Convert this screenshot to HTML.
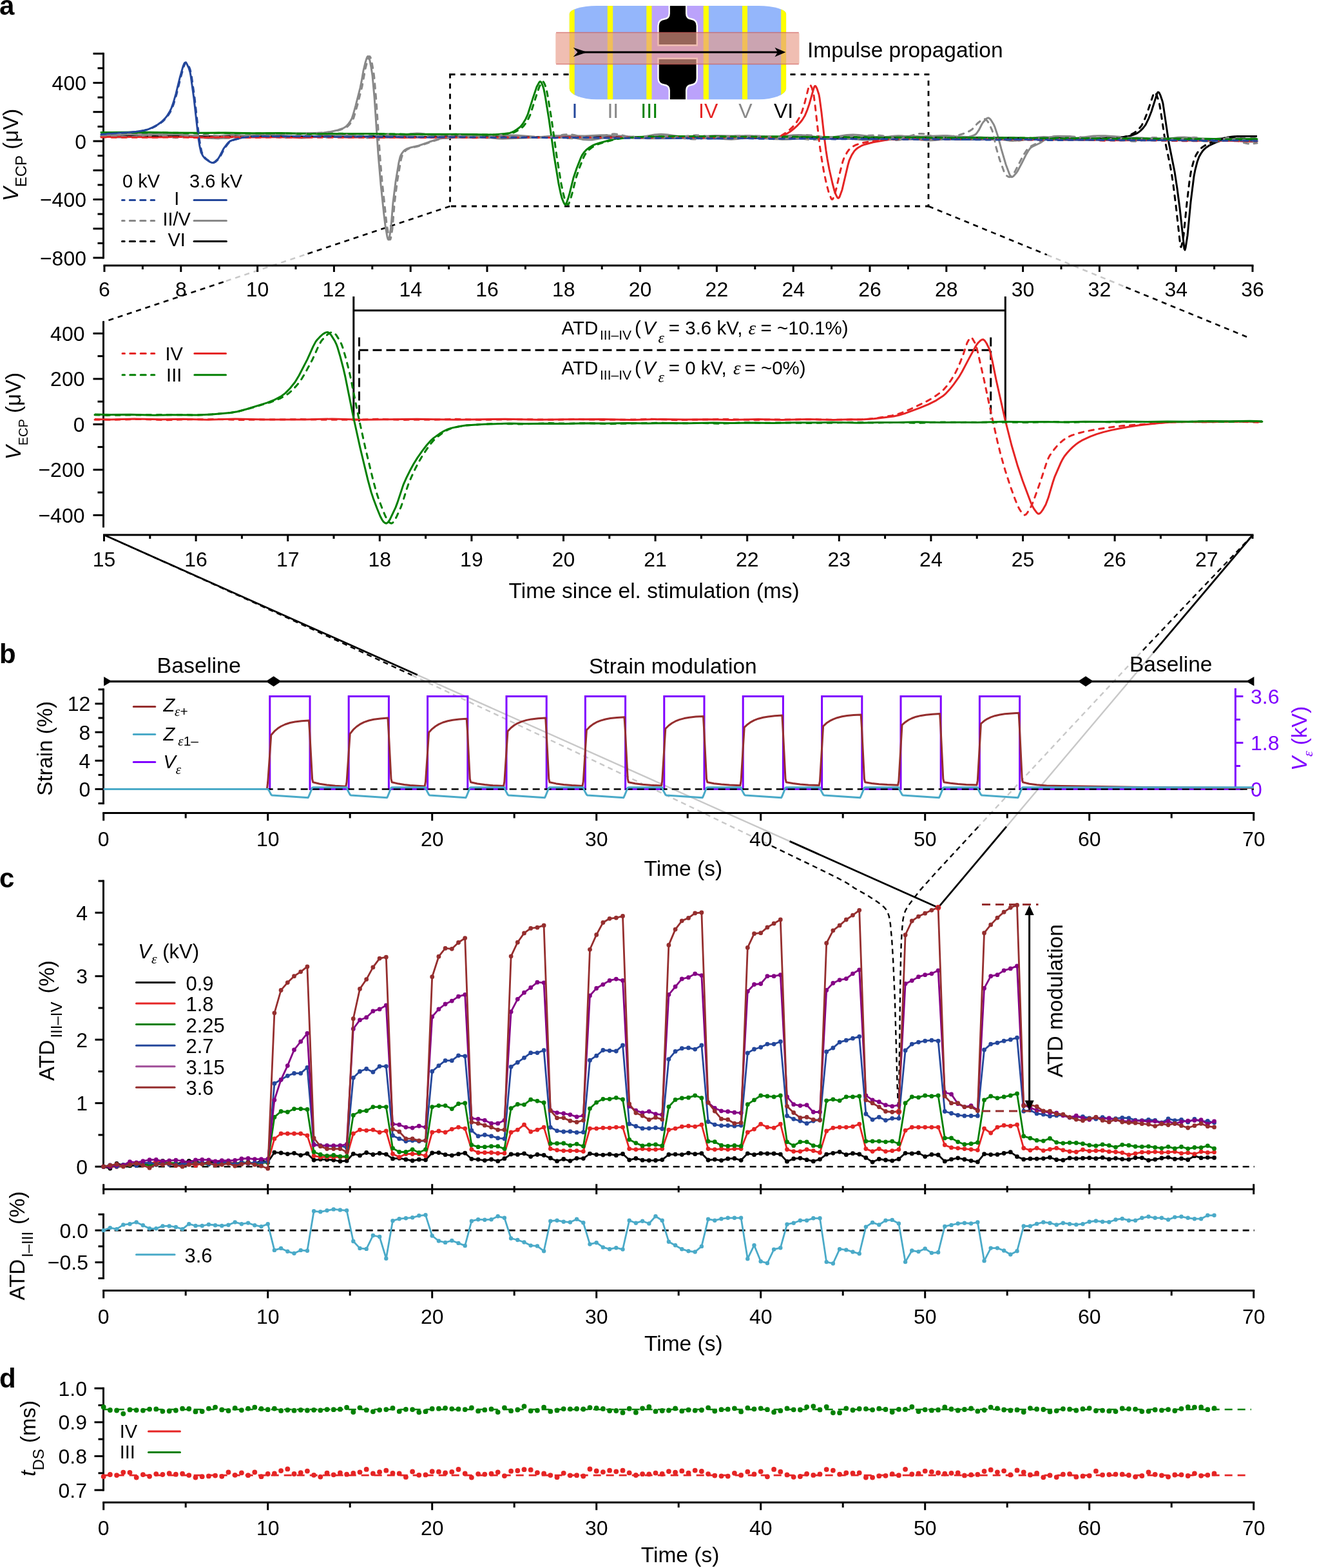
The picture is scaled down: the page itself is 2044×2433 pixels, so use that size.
<!DOCTYPE html>
<html><head><meta charset="utf-8"><title>Figure</title><style>html,body{margin:0;padding:0;background:#fff;overflow:hidden}svg{display:block}</style></head><body>
<svg width="2044" height="2433" viewBox="0 0 2044 2433" font-family="'Liberation Sans', Arial, Helvetica, sans-serif"><polyline points="161.5,830 647.9,1047.3" fill="none" stroke="#000" stroke-width="2.8" stroke-linejoin="round" stroke-linecap="butt"/>
<polyline points="647.9,1047.3 1225.6,1305.4" fill="none" stroke="#c8c8c8" stroke-width="2.4" stroke-linejoin="round" stroke-linecap="butt"/>
<polyline points="1225.6,1305.4 1456,1408.3" fill="none" stroke="#000" stroke-width="2.8" stroke-linejoin="round" stroke-linecap="butt"/>
<polyline points="1943.5,831 1789.6,1013.2" fill="none" stroke="#000" stroke-width="2.8" stroke-linejoin="round" stroke-linecap="butt"/>
<polyline points="1789.6,1013.2 1562,1282.7" fill="none" stroke="#c8c8c8" stroke-width="2.4" stroke-linejoin="round" stroke-linecap="butt"/>
<polyline points="1562,1282.7 1456,1408.3" fill="none" stroke="#000" stroke-width="2.8" stroke-linejoin="round" stroke-linecap="butt"/>
<polyline points="161.5,830 290.8,888.1 402.7,938.9 525,994.9 639.4,1047.7" fill="none" stroke="#000" stroke-width="2.4" stroke-linejoin="round" stroke-linecap="butt" stroke-dasharray="8,6"/>
<polyline points="639.4,1047.7 778.1,1112.5 918.8,1178.9 1059.5,1246 1198,1312.8" fill="none" stroke="#c8c8c8" stroke-width="2.4" stroke-linejoin="round" stroke-linecap="butt" stroke-dasharray="8,6"/>
<polyline points="1198,1312.8 1281.3,1353.1 1300,1362.4 1312,1368.8 1317.2,1371.9 1325.6,1377.7 1347.2,1389.9 1361.9,1399.5 1368.5,1404.5 1372.6,1408.2 1375.7,1411.9 1377.7,1415.4 1379.9,1422.2 1381.9,1433.7 1384.2,1458.9 1386,1487.6 1388.8,1549.2 1392.7,1686.6 1393.5,1704.7 1394.9,1725" fill="none" stroke="#000" stroke-width="2.4" stroke-linejoin="round" stroke-linecap="butt" stroke-dasharray="8,6"/>
<polyline points="1943.5,831 1839.7,939.6 1770.1,1013" fill="none" stroke="#000" stroke-width="2.4" stroke-linejoin="round" stroke-linecap="butt" stroke-dasharray="8,6"/>
<polyline points="1770.1,1013 1667.2,1122.9 1518.3,1282.9" fill="none" stroke="#c8c8c8" stroke-width="2.4" stroke-linejoin="round" stroke-linecap="butt" stroke-dasharray="8,6"/>
<polyline points="1518.3,1282.9 1453,1353.4 1427,1382.4 1409.6,1405.4 1405.3,1412.8 1403,1419 1401.3,1427.9 1399.7,1446.2 1398.8,1462.3 1397.9,1491.2 1397,1543.2 1394.9,1725" fill="none" stroke="#000" stroke-width="2.4" stroke-linejoin="round" stroke-linecap="butt" stroke-dasharray="8,6"/>
<polyline points="698.5,320 472.3,395.6" fill="none" stroke="#000" stroke-width="2.6" stroke-linejoin="round" stroke-linecap="butt" stroke-dasharray="8,7"/>
<polyline points="472.3,395.6 346.8,437.5" fill="none" stroke="#c8c8c8" stroke-width="2.6" stroke-linejoin="round" stroke-linecap="butt" stroke-dasharray="8,7"/>
<polyline points="346.8,437.5 160.5,499.7" fill="none" stroke="#000" stroke-width="2.6" stroke-linejoin="round" stroke-linecap="butt" stroke-dasharray="8,7"/>
<polyline points="1441,320 1624.9,395.4" fill="none" stroke="#000" stroke-width="2.6" stroke-linejoin="round" stroke-linecap="butt" stroke-dasharray="8,7"/>
<polyline points="1624.9,395.4 1747.4,445.7" fill="none" stroke="#c8c8c8" stroke-width="2.6" stroke-linejoin="round" stroke-linecap="butt" stroke-dasharray="8,7"/>
<polyline points="1747.4,445.7 1935,522.7" fill="none" stroke="#000" stroke-width="2.6" stroke-linejoin="round" stroke-linecap="butt" stroke-dasharray="8,7"/>
<rect x="698.5" y="115.5" width="742.5" height="204.5" fill="none" stroke="#000" stroke-width="2.8" stroke-dasharray="8,8"/>
<line x1="160.5" y1="81.7" x2="160.5" y2="401.5" stroke="#000" stroke-width="3" stroke-linecap="butt"/>
<line x1="160.5" y1="83.2" x2="144.5" y2="83.2" stroke="#000" stroke-width="3" stroke-linecap="butt"/>
<line x1="160.5" y1="128.5" x2="144.5" y2="128.5" stroke="#000" stroke-width="3" stroke-linecap="butt"/>
<line x1="160.5" y1="173.7" x2="144.5" y2="173.7" stroke="#000" stroke-width="3" stroke-linecap="butt"/>
<line x1="160.5" y1="219" x2="144.5" y2="219" stroke="#000" stroke-width="3" stroke-linecap="butt"/>
<line x1="160.5" y1="264.3" x2="144.5" y2="264.3" stroke="#000" stroke-width="3" stroke-linecap="butt"/>
<line x1="160.5" y1="309.5" x2="144.5" y2="309.5" stroke="#000" stroke-width="3" stroke-linecap="butt"/>
<line x1="160.5" y1="354.8" x2="144.5" y2="354.8" stroke="#000" stroke-width="3" stroke-linecap="butt"/>
<line x1="160.5" y1="400" x2="144.5" y2="400" stroke="#000" stroke-width="3" stroke-linecap="butt"/>
<line x1="160.5" y1="105.8" x2="151.5" y2="105.8" stroke="#000" stroke-width="3" stroke-linecap="butt"/>
<line x1="160.5" y1="151.1" x2="151.5" y2="151.1" stroke="#000" stroke-width="3" stroke-linecap="butt"/>
<line x1="160.5" y1="196.4" x2="151.5" y2="196.4" stroke="#000" stroke-width="3" stroke-linecap="butt"/>
<line x1="160.5" y1="241.6" x2="151.5" y2="241.6" stroke="#000" stroke-width="3" stroke-linecap="butt"/>
<line x1="160.5" y1="286.9" x2="151.5" y2="286.9" stroke="#000" stroke-width="3" stroke-linecap="butt"/>
<line x1="160.5" y1="332.1" x2="151.5" y2="332.1" stroke="#000" stroke-width="3" stroke-linecap="butt"/>
<line x1="160.5" y1="377.4" x2="151.5" y2="377.4" stroke="#000" stroke-width="3" stroke-linecap="butt"/>
<text x="134" y="140" font-size="32" text-anchor="end">400</text>
<text x="134" y="230.5" font-size="32" text-anchor="end">0</text>
<text x="134" y="321" font-size="32" text-anchor="end">−400</text>
<text x="134" y="411.5" font-size="32" text-anchor="end">−800</text>
<line x1="160.5" y1="412" x2="1945.5" y2="412" stroke="#000" stroke-width="3" stroke-linecap="butt"/>
<line x1="162" y1="412" x2="162" y2="422" stroke="#000" stroke-width="3" stroke-linecap="butt"/>
<line x1="280.8" y1="412" x2="280.8" y2="422" stroke="#000" stroke-width="3" stroke-linecap="butt"/>
<line x1="399.6" y1="412" x2="399.6" y2="422" stroke="#000" stroke-width="3" stroke-linecap="butt"/>
<line x1="518.4" y1="412" x2="518.4" y2="422" stroke="#000" stroke-width="3" stroke-linecap="butt"/>
<line x1="637.2" y1="412" x2="637.2" y2="422" stroke="#000" stroke-width="3" stroke-linecap="butt"/>
<line x1="756" y1="412" x2="756" y2="422" stroke="#000" stroke-width="3" stroke-linecap="butt"/>
<line x1="874.8" y1="412" x2="874.8" y2="422" stroke="#000" stroke-width="3" stroke-linecap="butt"/>
<line x1="993.6" y1="412" x2="993.6" y2="422" stroke="#000" stroke-width="3" stroke-linecap="butt"/>
<line x1="1112.4" y1="412" x2="1112.4" y2="422" stroke="#000" stroke-width="3" stroke-linecap="butt"/>
<line x1="1231.2" y1="412" x2="1231.2" y2="422" stroke="#000" stroke-width="3" stroke-linecap="butt"/>
<line x1="1350" y1="412" x2="1350" y2="422" stroke="#000" stroke-width="3" stroke-linecap="butt"/>
<line x1="1468.8" y1="412" x2="1468.8" y2="422" stroke="#000" stroke-width="3" stroke-linecap="butt"/>
<line x1="1587.6" y1="412" x2="1587.6" y2="422" stroke="#000" stroke-width="3" stroke-linecap="butt"/>
<line x1="1706.4" y1="412" x2="1706.4" y2="422" stroke="#000" stroke-width="3" stroke-linecap="butt"/>
<line x1="1825.2" y1="412" x2="1825.2" y2="422" stroke="#000" stroke-width="3" stroke-linecap="butt"/>
<line x1="1944" y1="412" x2="1944" y2="422" stroke="#000" stroke-width="3" stroke-linecap="butt"/>
<line x1="221.4" y1="412" x2="221.4" y2="418" stroke="#000" stroke-width="3" stroke-linecap="butt"/>
<line x1="340.2" y1="412" x2="340.2" y2="418" stroke="#000" stroke-width="3" stroke-linecap="butt"/>
<line x1="459" y1="412" x2="459" y2="418" stroke="#000" stroke-width="3" stroke-linecap="butt"/>
<line x1="577.8" y1="412" x2="577.8" y2="418" stroke="#000" stroke-width="3" stroke-linecap="butt"/>
<line x1="696.6" y1="412" x2="696.6" y2="418" stroke="#000" stroke-width="3" stroke-linecap="butt"/>
<line x1="815.4" y1="412" x2="815.4" y2="418" stroke="#000" stroke-width="3" stroke-linecap="butt"/>
<line x1="934.2" y1="412" x2="934.2" y2="418" stroke="#000" stroke-width="3" stroke-linecap="butt"/>
<line x1="1053" y1="412" x2="1053" y2="418" stroke="#000" stroke-width="3" stroke-linecap="butt"/>
<line x1="1171.8" y1="412" x2="1171.8" y2="418" stroke="#000" stroke-width="3" stroke-linecap="butt"/>
<line x1="1290.6" y1="412" x2="1290.6" y2="418" stroke="#000" stroke-width="3" stroke-linecap="butt"/>
<line x1="1409.4" y1="412" x2="1409.4" y2="418" stroke="#000" stroke-width="3" stroke-linecap="butt"/>
<line x1="1528.2" y1="412" x2="1528.2" y2="418" stroke="#000" stroke-width="3" stroke-linecap="butt"/>
<line x1="1647" y1="412" x2="1647" y2="418" stroke="#000" stroke-width="3" stroke-linecap="butt"/>
<line x1="1765.8" y1="412" x2="1765.8" y2="418" stroke="#000" stroke-width="3" stroke-linecap="butt"/>
<line x1="1884.6" y1="412" x2="1884.6" y2="418" stroke="#000" stroke-width="3" stroke-linecap="butt"/>
<text x="162" y="460" font-size="32" text-anchor="middle">6</text>
<text x="280.8" y="460" font-size="32" text-anchor="middle">8</text>
<text x="399.6" y="460" font-size="32" text-anchor="middle">10</text>
<text x="518.4" y="460" font-size="32" text-anchor="middle">12</text>
<text x="637.2" y="460" font-size="32" text-anchor="middle">14</text>
<text x="756" y="460" font-size="32" text-anchor="middle">16</text>
<text x="874.8" y="460" font-size="32" text-anchor="middle">18</text>
<text x="993.6" y="460" font-size="32" text-anchor="middle">20</text>
<text x="1112.4" y="460" font-size="32" text-anchor="middle">22</text>
<text x="1231.2" y="460" font-size="32" text-anchor="middle">24</text>
<text x="1350" y="460" font-size="32" text-anchor="middle">26</text>
<text x="1468.8" y="460" font-size="32" text-anchor="middle">28</text>
<text x="1587.6" y="460" font-size="32" text-anchor="middle">30</text>
<text x="1706.4" y="460" font-size="32" text-anchor="middle">32</text>
<text x="1825.2" y="460" font-size="32" text-anchor="middle">34</text>
<text x="1944" y="460" font-size="32" text-anchor="middle">36</text>
<text transform="translate(28.3,312.3) rotate(-90)" font-size="33"><tspan font-style="italic">V</tspan><tspan font-size="24" dy="12.5">ECP</tspan><tspan dy="-12.5"> (μV)</tspan></text>
<polyline points="157,210.7 190,211.2 219,211.1 246,211.6 283,210.7 320,211.8 385,211.3 432,211.9 503,211.4 540,212.5 577,211.5 605,212.1 633,212 660,212.5 698,211.8 750,212.6 799,212.1 838,212.8 864,212.6 892,212.8 923,212.3 958,213.3 994,212.6 1072,213.3 1148,213.2 1181,213.7 1216,213 1249,213.8 1279,213.4 1311,213.9 1341,213.4 1373,214 1404,213.8 1475,214.1 1505,213.9 1537,214.4 1570,213.9 1601,214.6 1632,214.1 1662,214.7 1699,214.4 1734,213.3 1743,212.8 1748,212.2 1754,210.8 1760,208.9 1764,207.2 1767,205.3 1770,202.9 1774,198.9 1778,193.7 1783,183.3 1787,173 1796,144.5 1797,143 1798,143 1799,143.9 1801,147.9 1804,156.8 1805,160.9 1814,221.4 1823,266.2 1827,292.5 1831,323 1838,386 1839,387.9 1840,384.6 1843,365.5 1848,313.4 1853,273.5 1855,263.3 1858,251.6 1861,243.3 1864,238 1866,235.1 1869,231.6 1872,228.9 1876,226.2 1886,221.3 1897,217.3 1903,213.8 1905,213 1913,212 1921,211.5 1951,211.4" fill="none" stroke="#000" stroke-width="3.0" stroke-linejoin="round" stroke-linecap="butt"/>
<polyline points="157,207.3 170,209 180,209.6 189,209.4 209,207.4 218,207 228,207.2 253,208.8 274,208.6 296,210.6 314,213.4 328,214.5 338,214.7 356,213.9 371,211.1 388,209.9 430,208 480,206.8 502,205.9 513,204.5 524,202 533,198.8 536,197 538,195.3 541,191.9 544,187.6 546,184 548,178.1 552,163.8 559,136.3 561,126.9 564,109.5 567,97.2 569,90.6 570,88.4 571,87.4 572,88 573,90.3 574,94.1 576,104.3 578,117.2 581,150 587,239.2 591,286.3 596,333.7 598,350 601,367.4 602,370.9 603,372 604,369.8 605,364.9 607,350.7 610,314.2 614,282.1 619,252.1 621,243.5 622,241.1 624,237.6 627,233.8 629,232.2 632,230.6 637,229 650,226 666,220.3 677,216.8 683,215.1 687,214.4 704,213.3 720,213 730,210.2 741,210.6 766,214.3 773,215 780,215.2 831,213.2 857,211.1 867,210.7 873,211 880,211.9 904,216.4 914,217.1 919,216.9 925,216.1 949,211.5 960,210.7 970,211.3 993,214.1 1005,214.7 1053,214.6 1063,214.1 1083,212.3 1092,212 1103,212.7 1125,215.7 1135,216.2 1145,215.4 1165,212.5 1175,211.9 1184,212.4 1204,215.4 1214,216.2 1226,215.9 1252,213.4 1265,213.1 1309,214 1319,214.8 1338,216.9 1347,217.3 1358,216.6 1383,211.6 1389,210.9 1394,210.7 1400,211 1406,211.9 1430,217.1 1441,218 1451,217.6 1472,215 1482,214.1 1521,213.1 1536,213.7 1564,217.7 1570,218.2 1576,218.2 1587,217.2 1609,213.2 1620,212.5 1629,213 1648,215.4 1657,216.1 1666,216.2 1691,215.4 1722,216.7 1732,216.3 1754,214.1 1764,213.7 1773,214.1 1792,216 1801,216.5 1810,216.6 1836,215.6 1861,216.8 1869,216.9 1879,216.4 1900,214 1910,213.6 1920,214.3 1942,217.6 1951,218.2" fill="none" stroke="#888888" stroke-width="3.0" stroke-linejoin="round" stroke-linecap="butt"/>
<polyline points="157,208.8 175,212.2 182,212.9 189,213.1 199,212.7 234,210.5 261,208.3 273,208.1 285,209.2 307,212.7 318,213.4 328,212.9 347,210.3 357,209.5 366,209.5 392,210.7 400,210.4 417,209.2 425,209 435,209.7 458,213.2 468,213.9 474,213.7 480,213.1 505,208.7 517,207.9 527,208.3 553,210.8 581,212.8 592,213.3 601,213.3 614,212 637,207.7 647,207 653,207.3 659,208.1 683,213.3 689,214 694,214.2 704,213.5 726,210.2 738,209.6 768,210.9 793,210.1 802,210.1 830,212.2 839,212.5 848,212.3 875,210.5 908,211 932,209.8 940,209.7 951,210.5 973,213.4 983,213.8 994,212.9 1016,208.9 1026,208.2 1036,208.9 1059,212.5 1069,213.1 1078,212.8 1100,210.9 1110,210.6 1136,211.1 1165,210.8 1192,212.3 1202,212.4 1212,211.8 1231,209.8 1239,209.5 1250,210.1 1273,213.4 1282,213.8 1292,213 1314,209.6 1324,209 1333,209.5 1353,212.1 1364,212.8 1373,212.6 1398,211.3 1433,211.8 1464,210.4 1470,210.4 1479,211.4 1501,212.5 1504,212.2 1507,211.5 1511,210.1 1514,208.6 1516,206.5 1519,202.2 1524,192.5 1526,189.5 1531,184 1533,183 1534,182.9 1536,184 1538,186.3 1542,192.7 1544,197.1 1549,212.1 1554,231.2 1561,255 1567,271.1 1569,274.3 1570,274.7 1571,274.5 1573,273.2 1577,268.8 1579,266 1585,254.8 1592,240.8 1596,233.9 1599,229.8 1603,227.1 1614,222 1625,214.6 1629,213.2 1637,211.5 1642,211.2 1660,211.5 1666,213.5 1670,214.5 1697,211.1 1706,210.7 1715,210.8 1748,213.1 1759,214.2 1780,217 1792,217.8 1804,217 1828,213.3 1838,212.9 1848,213.8 1868,217.5 1878,218.7 1887,218.9 1906,218.1 1914,218 1941,219.9 1951,220.1" fill="none" stroke="#888888" stroke-width="3.0" stroke-linejoin="round" stroke-linecap="butt"/>
<polyline points="157,212.4 192,212.2 238,212.9 279,212.5 315,212.9 357,212.3 391,212.9 427,212.7 462,213.2 506,212.2 544,213.3 586,212.6 627,213.4 675,212.6 747,213.5 791,212.9 832,213.4 870,212.7 914,213.7 948,213.2 985,213.4 1019,212.9 1059,213.8 1100,213.2 1139,213.8 1176,213 1190,213.5 1207,213 1210,212.5 1214,211 1222,206.9 1227,203.7 1232,199.8 1238,194.3 1242,190 1245,186.2 1249,179.8 1253,170.3 1256,161.5 1263,136.9 1264,134.3 1265,133.3 1266,133.8 1268,137.5 1271,146.8 1272,152.2 1275,174.7 1279,210.4 1282,233.7 1284,246.5 1287,262.5 1292,284.5 1295,296 1297,301.4 1299,305.4 1300,306.9 1301,307.5 1302,307 1303,305.4 1307,294.4 1316,256.1 1318,249 1322,240.4 1326,234.3 1329,231.2 1332,229 1337,226.2 1342,224.2 1355,220.7 1375,217.2 1383,216.3 1405,215.7 1420,215.5 1430,216.3 1470,215.3 1505,216.1 1542,216 1580,216.7 1616,216.5 1654,216.9 1687,216.6 1738,217.7 1815,217.4 1861,218.2 1897,217.9 1934,219.1 1951,218.9" fill="none" stroke="#e52424" stroke-width="3.0" stroke-linejoin="round" stroke-linecap="butt"/>
<polyline points="157,205.5 173,205.6 213,204.9 268,205.9 310,206.2 350,206 393,206.8 436,206.5 483,207.4 577,207.4 623,208.5 666,208.2 733,208.6 757,209 770,208.7 783,207.6 791,206.4 794,205.4 798,203.5 803,200.3 807,197.2 809,195.1 812,191.1 816,184.4 819,177.9 827,152.6 833,134.7 837,127.5 838,126.6 839,126.7 840,127.8 841,129.8 843,135 844,138.4 846,148.5 852,185 860,242.2 867,285 870,299.3 872,307.2 875,314.6 876,316.3 877,317.4 878,317.3 879,315.7 882,307 884,300.2 890,276 895,261.2 902,243.6 904,239.8 907,235.7 910,232.5 914,229.3 919,226.2 924,223.9 930,221.9 951,216.2 956,215.3 964,214.4 989,212.6 1010,212 1043,211.5 1099,211.5 1147,212.4 1196,211.7 1240,212.6 1279,212.9 1334,212.4 1382,213.4 1420,213.2 1524,213.8 1559,213.7 1604,214.5 1647,214.1 1681,214.5 1718,214.6 1759,215.1 1859,215 1907,216.1 1951,215.5" fill="none" stroke="#038003" stroke-width="3.0" stroke-linejoin="round" stroke-linecap="butt"/>
<polyline points="157,207.8 199,205.6 212,204.2 223,202.4 230,200.6 237,197.6 245,193.2 251,188.8 256,183.9 259,180.2 263,173.8 266,167.8 269,159.3 273,145.7 279,121 284,103.4 286,98.4 287,97.2 288,97.1 289,97.8 290,99.1 293,105.6 295,112 296,117.2 301,153 308,215.1 310,227.2 312,236.2 315,242.1 318,245.8 325,250.9 328,252.2 330,252.5 331,252.4 333,251.4 338,247 340,244.1 347,230.7 353,222.7 355,220.6 357,219 363,216.7 377,213.3 386,212.2 398,211.5 474,211.6 518,212.3 555,212 623,212.3 665,212.9 703,212.6 740,213 773,212.9 815,213.6 859,213.2 955,214.1 995,213.8 1034,214.2 1068,214.1 1110,214.9 1155,214.3 1198,215 1361,215.4 1402,216.1 1447,215.4 1490,216.4 1534,216.1 1651,216.7 1691,217.3 1737,216.6 1781,217.8 1824,217.2 1861,217.8 1904,217.6 1951,218.2" fill="none" stroke="#24479b" stroke-width="3.0" stroke-linejoin="round" stroke-linecap="butt"/>
<polyline points="157,211.6 178,211.4 209,212 242,211.5 276,212 355,211.8 388,212.3 422,211.9 453,212.5 488,212.1 565,212.7 600,212.2 635,212.9 668,212.5 747,213 781,212.6 812,213.2 845,212.8 878,213.3 956,213.1 990,213.7 1026,213 1062,213.7 1136,213.4 1173,214 1206,213.5 1239,214 1268,213.8 1352,214.2 1381,213.9 1416,214.6 1451,214 1525,214.6 1563,214.2 1600,215 1631,214.5 1694,214.8 1730,213.6 1743,212.8 1750,211 1755,208.9 1760,206.4 1764,203.5 1768,199.6 1772,194.6 1776,186.4 1780,176.4 1790,146.7 1791,144.6 1792,143.6 1793,143.9 1795,147 1799,158.8 1801,169.8 1809,223 1816,256.2 1818,267 1821,287.3 1825,319 1832,382.1 1833,383.4 1834,380.7 1835,376.2 1837,364.9 1842,315.4 1846,281.8 1848,268.5 1850,259.4 1853,248.4 1856,241 1859,236.1 1862,232.2 1865,229.3 1869,226.4 1873,224.1 1881,220.6 1893,217 1901,213.9 1909,212.9 1920,212.1 1951,212" fill="none" stroke="#000" stroke-width="3.0" stroke-linejoin="round" stroke-linecap="round" stroke-dasharray="7.5,8.5"/>
<polyline points="157,209.2 232,207.9 275,208.5 284,209.1 298,210.6 317,213.5 331,214.5 342,214.7 359,213.9 373,211.2 390,209.9 433,208 483,206.8 504,205.9 515,204.6 526,202.1 535,199 539,196.6 542,193.7 545,189.9 548,185.1 549,182.7 555,162 562,134.2 567,107.1 569,99.2 572,89.4 573,87.8 574,87.5 575,89 577,96.3 580,113.3 581,121.6 584,156.5 590,246 593,281.2 600,346.6 603,365 604,369.4 605,371.8 606,371.3 607,367.6 609,355 612,319 614,301.1 617,278.7 622,249.6 623,245.2 624,242.1 625,240.2 627,236.9 630,233.3 632,231.8 635,230.4 640,228.9 652,226.2 669,220.1 680,216.6 685,215.2 689,214.5 705,213.4 723,213 733,212.4 741,212.7 757,214 766,214.2 788,212.4 796,212.1 803,212.3 819,213.6 826,213.9 834,213.7 851,212.4 859,212.3 866,212.8 882,214.6 890,214.9 898,214.6 914,213.2 922,213 943,214.5 950,214.8 958,214.4 976,212.3 983,212 990,212.3 1006,214.2 1014,214.6 1022,214.4 1038,213.1 1046,213 1053,213.6 1068,215.6 1076,216.1 1084,215.6 1099,213.7 1106,213.1 1114,213.2 1130,214.7 1138,215 1146,214.4 1162,212.4 1169,212.1 1177,212.7 1193,215.1 1200,215.8 1208,215.7 1224,214.2 1232,213.9 1239,214.4 1255,216.5 1262,216.8 1270,216.2 1286,213.6 1293,212.8 1301,212.9 1318,214.9 1325,215.2 1332,214.9 1347,213.1 1354,212.7 1363,213.4 1382,216.8 1390,217.4 1397,216.9 1412,214.9 1419,214.5 1427,214.9 1443,216.8 1451,216.9 1458,216 1474,213 1483,212.4 1490,212.9 1505,215.4 1513,216 1520,215.8 1536,214.1 1544,214 1551,214.9 1567,218 1575,218.7 1583,218.1 1598,215.3 1606,214.5 1614,214.7 1631,216.6 1639,216.5 1645,215.8 1660,213 1668,212.5 1676,213.2 1692,216.6 1699,217.4 1707,217.4 1723,215.6 1730,215.3 1737,215.9 1752,218.6 1759,219.3 1763,219.2 1768,218.7 1785,214.9 1793,213.9 1801,214.1 1817,216.2 1824,216.6 1832,216 1847,213.6 1853,213.3 1857,213.5 1862,214.2 1879,218.3 1887,219.3 1895,219.1 1910,216.8 1918,216.2 1925,216.6 1942,219 1947,219.2 1951,218.9" fill="none" stroke="#888888" stroke-width="3.0" stroke-linejoin="round" stroke-linecap="round" stroke-dasharray="7.5,8.5"/>
<polyline points="157,211.4 178,211.1 198,212.5 206,212.6 214,211.9 231,209.1 239,208.6 247,209.3 264,212.7 273,213.7 282,213.3 303,210.1 315,209.3 327,209.8 358,212.7 369,213.1 378,212.5 398,209.2 407,208.6 416,209.5 434,213.3 441,213.8 449,213.2 464,209.9 471,209 475,208.9 480,209.3 497,212.7 505,213.3 512,212.8 528,209.5 536,208.8 543,209.3 561,213.2 569,213.9 573,213.8 578,213.1 595,209.4 603,208.8 610,209.2 627,211.9 636,212.7 644,212.6 663,211.5 684,211.1 709,209.9 717,210.3 736,212.9 745,213.4 754,212.8 773,209.9 782,209.4 790,209.7 817,212 835,212.7 846,212.7 857,211.7 875,208.9 882,208.5 886,208.7 891,209.4 909,213.9 914,214.7 918,215 922,214.7 926,214.1 944,208.9 949,208 953,207.8 960,208.5 977,213 982,213.9 986,214.1 993,213.7 1010,210.2 1018,209.4 1025,209.8 1040,212.3 1048,212.9 1055,212.6 1072,210.2 1080,209.8 1087,210.1 1103,212.2 1111,212.8 1120,212.6 1141,210.9 1155,210.7 1183,211 1207,212.9 1214,213.1 1222,212.7 1241,209.9 1250,209.3 1259,209.9 1277,212.6 1285,213 1292,212.8 1310,211.4 1334,211.3 1354,209.9 1361,209.8 1370,210.8 1387,214.2 1394,214.8 1402,213.9 1407,212.7 1421,208.5 1426,207.6 1430,207.4 1434,207.7 1438,208.5 1454,213.7 1460,215 1463,214.2 1470,211.5 1480,211 1487,209.9 1495,207.5 1501,205.1 1506,202.6 1509,200.5 1517,191.5 1522,187.4 1525,185.4 1528,184.6 1530,185.3 1533,188.5 1536,193.8 1540,202.6 1542,210.2 1546,228.6 1549,239.5 1552,249.2 1558,265.6 1560,269.8 1562,272.4 1565,274.3 1567,274.7 1568,274.3 1570,272.8 1575,266.6 1588,241.3 1593,233.6 1596,229.9 1601,226.4 1610,222 1622,215.1 1627,213.5 1635,211.9 1640,211.5 1665,211.9 1684,213.4 1692,213.7 1700,213.3 1716,211.6 1723,211.5 1732,212.4 1750,216.1 1758,216.8 1766,216.3 1783,213.8 1791,213.5 1798,214 1818,216.6 1825,216.8 1839,216.3 1846,216.4 1853,217.1 1866,218.8 1873,219.2 1882,218.6 1899,215.5 1906,215.2 1910,215.5 1915,216.5 1930,221.4 1936,222.8 1943,223.3 1951,222.1" fill="none" stroke="#888888" stroke-width="3.0" stroke-linejoin="round" stroke-linecap="round" stroke-dasharray="7.5,8.5"/>
<polyline points="157,213.1 237,213.3 273,212.8 311,213.6 350,212.8 387,213.6 426,212.9 462,213.4 549,213.1 587,213.6 624,213 660,213.6 697,212.9 736,213.8 779,213 859,213.6 900,213.1 938,213.6 973,213.3 1007,213.8 1048,212.8 1092,214 1132,213.3 1191,213.5 1201,213.1 1207,212.5 1210,211.7 1213,210.2 1220,205.7 1225,201.8 1229,198.2 1233,193.9 1237,188.6 1242,180 1245,172.5 1249,159.3 1255,135.4 1256,132.6 1257,131.5 1258,132.1 1260,136.4 1262,143 1263,147.9 1265,163.2 1272,224.6 1275,245 1279,268.3 1283,286.6 1286,297.8 1290,308 1291,309.3 1292,309.3 1293,308 1294,305.6 1298,292.5 1303,270 1308,250.5 1310,245 1315,235.8 1318,231.8 1320,229.8 1324,227.1 1328,225 1336,222.2 1349,219.8 1370,217.4 1381,216.4 1402,215.7 1423,215.4 1446,215.9 1487,216.1 1533,215.9 1569,216.7 1627,217.2 1670,216.5 1714,218.2 1758,217.4 1845,218.8 1889,218.4 1951,219.1" fill="none" stroke="#e52424" stroke-width="3.0" stroke-linejoin="round" stroke-linecap="round" stroke-dasharray="7.5,8.5"/>
<polyline points="157,205.4 206,206 252,205.8 299,206.9 343,206.3 390,207.1 433,206.8 481,207.9 531,207.3 573,208.1 620,208 664,208.8 710,208.3 754,209.1 766,209 776,208.6 787,207.6 795,206.4 798,205.4 802,203.5 807,200.3 811,197.2 813,195.1 816,191.1 820,184.4 823,177.9 831,152.6 837,134.7 841,127.5 842,126.6 843,126.7 844,127.8 845,129.8 847,135 848,138.4 850,148.5 856,185 864,242.2 871,285 874,299.3 876,307.2 879,314.6 880,316.3 881,317.4 882,317.3 883,315.7 886,307 888,300.2 894,276 899,261.2 906,243.6 908,239.8 911,235.7 914,232.5 918,229.3 923,226.2 928,223.9 934,221.9 955,216.2 960,215.3 968,214.4 986,213 1001,212.3 1064,211.4 1178,212.4 1233,212.2 1274,212.8 1317,212.9 1358,213.5 1410,213.1 1452,213.9 1498,213.8 1541,214.5 1590,213.9 1635,215 1681,214.7 1724,215.5 1772,214.9 1822,216.1 1865,215.7 1912,216.4 1951,216" fill="none" stroke="#038003" stroke-width="3.0" stroke-linejoin="round" stroke-linecap="round" stroke-dasharray="7.5,8.5"/>
<polyline points="157,208.6 176,207 204,205.3 215,204 225,202.3 232,200.3 239,197.2 246,193.4 252,188.9 257,184.1 260,180.5 264,174.2 267,168.3 270,159.9 274,146.4 280,121.8 285,104 287,98.7 288,97.3 289,97 290,97.6 291,98.8 293,102.6 295,107.6 297,116.1 302,151.3 309,213.6 311,226.1 313,235.5 314,238.1 316,241.8 319,245.6 322,248.1 326,250.8 329,252.2 331,252.5 332,252.4 334,251.5 339,247.2 342,242.6 348,231 354,222.9 356,220.8 358,219.2 364,216.7 378,213.3 386,212.3 399,211.5 436,211.8 478,211.7 522,212.2 563,212.1 608,212.6 724,212.8 768,213.4 814,213.1 861,213.9 909,213.5 954,214.2 1006,214.2 1101,214.9 1149,214.6 1198,215.5 1247,215 1295,215.9 1344,215.6 1427,216.4 1484,216.2 1534,217.1 1584,216.4 1634,217.6 1684,217 1734,217.8 1816,217.7 1872,218.6 1920,218 1951,218.8" fill="none" stroke="#24479b" stroke-width="3.0" stroke-linejoin="round" stroke-linecap="round" stroke-dasharray="7.5,8.5"/>
<g>
<path d="M925.8,9.1 H1177.5 A42.6,12.4 0 0 1 1220.1,21.5 V137.2 A42.6,17 0 0 1 1177.5,154.2 H925.8 A42,17 0 0 1 883.8,137.2 V21.5 A42,12.4 0 0 1 925.8,9.1 Z" fill="#94b6fb"/>
<rect x="1011.5" y="9.1" width="80.2" height="145.1" fill="#bba2fb"/>
<rect x="942.8" y="9.1" width="8.4" height="145.1" fill="#ffff00"/>
<rect x="1003.3" y="9.1" width="8.2" height="145.1" fill="#ffff00"/>
<rect x="1091.7" y="9.1" width="8.2" height="145.1" fill="#ffff00"/>
<rect x="1152" y="9.1" width="8.0" height="145.1" fill="#ffff00"/>
<clipPath id="bodyclip"><path d="M925.8,9.1 H1177.5 A42.6,12.4 0 0 1 1220.1,21.5 V137.2 A42.6,17 0 0 1 1177.5,154.2 H925.8 A42,17 0 0 1 883.8,137.2 V21.5 A42,12.4 0 0 1 925.8,9.1 Z"/></clipPath>
<g clip-path="url(#bodyclip)"><rect x="883" y="9" width="8.7" height="146" fill="#ffff00"/><rect x="1212.2" y="9" width="8.7" height="146" fill="#ffff00"/></g>
<path d="M1038.7,9.1 V21 Q1038.7,28.5 1031,29.5 Q1021.5,31 1021.5,40 V70.3 H1081.8 V40 Q1081.8,31 1072.9,29.5 Q1065.2,28.5 1065.2,21 V9.1 Z" fill="#000" stroke="#fff" stroke-width="2.4"/>
<path d="M1021.5,90.7 V121.5 Q1021.5,130.5 1031,131.8 Q1038.7,133 1038.7,140 V154.2 H1065.2 V140 Q1065.2,133 1072.9,131.8 Q1081.8,130.5 1081.8,121.5 V90.7 Z" fill="#000" stroke="#fff" stroke-width="2.4"/>
<rect x="1039.9" y="9.1" width="24.1" height="3" fill="#000"/><rect x="1039.9" y="151.2" width="24.1" height="3" fill="#000"/>
<rect x="862.3" y="50.3" width="378.2" height="49.5" rx="2.5" fill="rgb(232,155,136)" fill-opacity="0.65"/>
<path d="M863,50.6 H1239.8 M863,99.5 H1239.8" stroke="rgb(200,80,80)" stroke-opacity="0.6" stroke-width="1.5" fill="none"/>
<line x1="900" y1="81" x2="1208" y2="81" stroke="#000" stroke-width="3" stroke-linecap="butt"/>
<path d="M1219.4,81 L1202.5,73.8 L1207,81 L1202.5,88.2 Z" fill="#000"/>
<path d="M889.5,73.8 L911.5,81 L889.5,88.2 L896.5,81 Z" fill="#000"/>
</g>
<text x="892" y="183.2" font-size="32" text-anchor="middle" fill="#24479b">I</text>
<text x="951.3" y="183.2" font-size="32" text-anchor="middle" fill="#888888">II</text>
<text x="1007.7" y="183.2" font-size="32" text-anchor="middle" fill="#038003">III</text>
<text x="1099.2" y="183.2" font-size="32" text-anchor="middle" fill="#e52424">IV</text>
<text x="1156.8" y="183.2" font-size="32" text-anchor="middle" fill="#888888">V</text>
<text x="1216" y="183.2" font-size="32" text-anchor="middle">VI</text>
<text x="1253" y="89" font-size="33.5">Impulse propagation</text>
<text x="190" y="290.6" font-size="29">0 kV</text>
<text x="294" y="290.6" font-size="29">3.6 kV</text>
<line x1="189.6" y1="310.5" x2="239.6" y2="310.5" stroke="#24479b" stroke-width="3.2" stroke-dasharray="8.1,8.3" stroke-dashoffset="4.6" stroke-linecap="round"/>
<line x1="301.2" y1="310.5" x2="351.3" y2="310.5" stroke="#24479b" stroke-width="3.2" stroke-linecap="round"/>
<text x="274.2" y="318.1" font-size="29" text-anchor="middle">I</text>
<line x1="189.6" y1="342.5" x2="239.6" y2="342.5" stroke="#888888" stroke-width="3.2" stroke-dasharray="8.1,8.3" stroke-dashoffset="4.6" stroke-linecap="round"/>
<line x1="301.2" y1="342.5" x2="351.3" y2="342.5" stroke="#888888" stroke-width="3.2" stroke-linecap="round"/>
<text x="274.2" y="350.1" font-size="29" text-anchor="middle">II/V</text>
<line x1="189.6" y1="374.5" x2="239.6" y2="374.5" stroke="#000" stroke-width="3.2" stroke-dasharray="8.1,8.3" stroke-dashoffset="4.6" stroke-linecap="round"/>
<line x1="301.2" y1="374.5" x2="351.3" y2="374.5" stroke="#000" stroke-width="3.2" stroke-linecap="round"/>
<text x="274.2" y="382.1" font-size="29" text-anchor="middle">VI</text>
<line x1="160.5" y1="498.3" x2="160.5" y2="818.5" stroke="#000" stroke-width="3" stroke-linecap="butt"/>
<line x1="160.5" y1="517.4" x2="144.5" y2="517.4" stroke="#000" stroke-width="3" stroke-linecap="butt"/>
<line x1="160.5" y1="587.9" x2="144.5" y2="587.9" stroke="#000" stroke-width="3" stroke-linecap="butt"/>
<line x1="160.5" y1="658.4" x2="144.5" y2="658.4" stroke="#000" stroke-width="3" stroke-linecap="butt"/>
<line x1="160.5" y1="728.9" x2="144.5" y2="728.9" stroke="#000" stroke-width="3" stroke-linecap="butt"/>
<line x1="160.5" y1="799.4" x2="144.5" y2="799.4" stroke="#000" stroke-width="3" stroke-linecap="butt"/>
<line x1="160.5" y1="552.6" x2="151.5" y2="552.6" stroke="#000" stroke-width="3" stroke-linecap="butt"/>
<line x1="160.5" y1="623.1" x2="151.5" y2="623.1" stroke="#000" stroke-width="3" stroke-linecap="butt"/>
<line x1="160.5" y1="693.6" x2="151.5" y2="693.6" stroke="#000" stroke-width="3" stroke-linecap="butt"/>
<line x1="160.5" y1="764.1" x2="151.5" y2="764.1" stroke="#000" stroke-width="3" stroke-linecap="butt"/>
<text x="131.5" y="528.9" font-size="32" text-anchor="end">400</text>
<text x="131.5" y="599.4" font-size="32" text-anchor="end">200</text>
<text x="131.5" y="669.9" font-size="32" text-anchor="end">0</text>
<text x="131.5" y="740.4" font-size="32" text-anchor="end">−200</text>
<text x="131.5" y="810.9" font-size="32" text-anchor="end">−400</text>
<line x1="160" y1="830" x2="1945.5" y2="830" stroke="#000" stroke-width="3" stroke-linecap="butt"/>
<line x1="161.5" y1="830" x2="161.5" y2="840" stroke="#000" stroke-width="3" stroke-linecap="butt"/>
<line x1="304.1" y1="830" x2="304.1" y2="840" stroke="#000" stroke-width="3" stroke-linecap="butt"/>
<line x1="446.7" y1="830" x2="446.7" y2="840" stroke="#000" stroke-width="3" stroke-linecap="butt"/>
<line x1="589.3" y1="830" x2="589.3" y2="840" stroke="#000" stroke-width="3" stroke-linecap="butt"/>
<line x1="731.9" y1="830" x2="731.9" y2="840" stroke="#000" stroke-width="3" stroke-linecap="butt"/>
<line x1="874.5" y1="830" x2="874.5" y2="840" stroke="#000" stroke-width="3" stroke-linecap="butt"/>
<line x1="1017.1" y1="830" x2="1017.1" y2="840" stroke="#000" stroke-width="3" stroke-linecap="butt"/>
<line x1="1159.7" y1="830" x2="1159.7" y2="840" stroke="#000" stroke-width="3" stroke-linecap="butt"/>
<line x1="1302.3" y1="830" x2="1302.3" y2="840" stroke="#000" stroke-width="3" stroke-linecap="butt"/>
<line x1="1444.9" y1="830" x2="1444.9" y2="840" stroke="#000" stroke-width="3" stroke-linecap="butt"/>
<line x1="1587.5" y1="830" x2="1587.5" y2="840" stroke="#000" stroke-width="3" stroke-linecap="butt"/>
<line x1="1730.1" y1="830" x2="1730.1" y2="840" stroke="#000" stroke-width="3" stroke-linecap="butt"/>
<line x1="1872.7" y1="830" x2="1872.7" y2="840" stroke="#000" stroke-width="3" stroke-linecap="butt"/>
<line x1="232.8" y1="830" x2="232.8" y2="836" stroke="#000" stroke-width="3" stroke-linecap="butt"/>
<line x1="375.4" y1="830" x2="375.4" y2="836" stroke="#000" stroke-width="3" stroke-linecap="butt"/>
<line x1="518" y1="830" x2="518" y2="836" stroke="#000" stroke-width="3" stroke-linecap="butt"/>
<line x1="660.6" y1="830" x2="660.6" y2="836" stroke="#000" stroke-width="3" stroke-linecap="butt"/>
<line x1="803.2" y1="830" x2="803.2" y2="836" stroke="#000" stroke-width="3" stroke-linecap="butt"/>
<line x1="945.8" y1="830" x2="945.8" y2="836" stroke="#000" stroke-width="3" stroke-linecap="butt"/>
<line x1="1088.4" y1="830" x2="1088.4" y2="836" stroke="#000" stroke-width="3" stroke-linecap="butt"/>
<line x1="1231" y1="830" x2="1231" y2="836" stroke="#000" stroke-width="3" stroke-linecap="butt"/>
<line x1="1373.6" y1="830" x2="1373.6" y2="836" stroke="#000" stroke-width="3" stroke-linecap="butt"/>
<line x1="1516.2" y1="830" x2="1516.2" y2="836" stroke="#000" stroke-width="3" stroke-linecap="butt"/>
<line x1="1658.8" y1="830" x2="1658.8" y2="836" stroke="#000" stroke-width="3" stroke-linecap="butt"/>
<line x1="1801.4" y1="830" x2="1801.4" y2="836" stroke="#000" stroke-width="3" stroke-linecap="butt"/>
<line x1="1944" y1="830" x2="1944" y2="836" stroke="#000" stroke-width="3" stroke-linecap="butt"/>
<text x="161.5" y="878.6" font-size="32" text-anchor="middle">15</text>
<text x="304.1" y="878.6" font-size="32" text-anchor="middle">16</text>
<text x="446.7" y="878.6" font-size="32" text-anchor="middle">17</text>
<text x="589.3" y="878.6" font-size="32" text-anchor="middle">18</text>
<text x="731.9" y="878.6" font-size="32" text-anchor="middle">19</text>
<text x="874.5" y="878.6" font-size="32" text-anchor="middle">20</text>
<text x="1017.1" y="878.6" font-size="32" text-anchor="middle">21</text>
<text x="1159.7" y="878.6" font-size="32" text-anchor="middle">22</text>
<text x="1302.3" y="878.6" font-size="32" text-anchor="middle">23</text>
<text x="1444.9" y="878.6" font-size="32" text-anchor="middle">24</text>
<text x="1587.5" y="878.6" font-size="32" text-anchor="middle">25</text>
<text x="1730.1" y="878.6" font-size="32" text-anchor="middle">26</text>
<text x="1872.7" y="878.6" font-size="32" text-anchor="middle">27</text>
<text x="789.5" y="928.3" font-size="33.5">Time since el. stimulation (ms)</text>
<text transform="translate(31.7,713.3) rotate(-90)" font-size="33"><tspan font-style="italic">V</tspan><tspan font-size="20" dy="11.4">ECP</tspan><tspan dy="-11.4"> (μV)</tspan></text>
<line x1="548.8" y1="481.8" x2="1560.3" y2="481.8" stroke="#000" stroke-width="3" stroke-linecap="butt"/>
<line x1="548.8" y1="460" x2="548.8" y2="652.5" stroke="#000" stroke-width="3" stroke-linecap="butt"/>
<line x1="1560.3" y1="460" x2="1560.3" y2="652.5" stroke="#000" stroke-width="3" stroke-linecap="butt"/>
<line x1="557.5" y1="543.3" x2="1537.7" y2="543.3" stroke="#000" stroke-width="3" stroke-dasharray="14,7" stroke-linecap="butt"/>
<line x1="557.5" y1="523.5" x2="557.5" y2="654" stroke="#000" stroke-width="3" stroke-dasharray="14,7" stroke-linecap="butt"/>
<line x1="1537.7" y1="523.5" x2="1537.7" y2="650.5" stroke="#000" stroke-width="3" stroke-dasharray="14,7" stroke-linecap="butt"/>
<text y="519.3" font-size="29.5"><tspan x="871.5">ATD</tspan><tspan x="931" font-size="21" dy="8.1">III–IV</tspan><tspan x="985" dy="-8.1">(</tspan><tspan x="998" font-style="italic">V</tspan><tspan x="1021.5" font-family="'Liberation Serif', 'Times New Roman', serif" font-style="italic" font-size="24" dy="12.7">ε</tspan><tspan x="1037.8" dy="-12.7">= 3.6 kV,</tspan><tspan x="1161.5" font-family="'Liberation Serif', 'Times New Roman', serif" font-style="italic">ε</tspan><tspan x="1180.5">= ~10.1%)</tspan></text>
<text y="580.6" font-size="29.5"><tspan x="871.5">ATD</tspan><tspan x="931" font-size="21" dy="8.1">III–IV</tspan><tspan x="985" dy="-8.1">(</tspan><tspan x="998" font-style="italic">V</tspan><tspan x="1021.5" font-family="'Liberation Serif', 'Times New Roman', serif" font-style="italic" font-size="24" dy="12.7">ε</tspan><tspan x="1037.8" dy="-12.7">= 0 kV,</tspan><tspan x="1138" font-family="'Liberation Serif', 'Times New Roman', serif" font-style="italic">ε</tspan><tspan x="1155.5">= ~0%)</tspan></text>
<polyline points="147,651.3 190,651.1 220,650.4 258,651.7 290,650.9 338,650.5 377,651.6 407,650.9 437,651.1 466,650.5 499,651.3 527,651.1 551,651.3 589,650.3 628,651.4 674,651.2 707,650.3 744,651.5 775,650.9 824,650.8 860,651.4 894,650.4 934,651.4 976,651.2 1009,650.2 1051,651.7 1126,650.4 1168,651.6 1196,651 1226,651.1 1254,650.6 1287,651.2 1326,651.1 1338,650.8 1349,650 1365,648.1 1384,644.9 1391,643.3 1399,640.7 1413,634.8 1438,622.9 1449,616.5 1459,609.4 1465,604.1 1470,598.4 1476,589.9 1482,580 1486,572.1 1491,560.3 1495,550 1501,532 1505,524.7 1506,523.7 1507,523.5 1508,524 1509,525 1513,532 1515,537.1 1517,544.1 1527,588.2 1537,635.5 1548,684.9 1553,705 1560,729.7 1568,754.4 1575,773.6 1579,783.6 1582,789.8 1586,795.9 1588,798.3 1589,799 1590,799.3 1592,798.4 1594,796.2 1599,788.3 1602,782.1 1605,774.5 1615,746.4 1624,718.8 1627,711.1 1629,707.1 1637,696.2 1641,691.5 1646,686.5 1650,683.1 1654,680.3 1658,677.9 1663,675.7 1673,672.3 1684,669.5 1702,666.1 1719,663.5 1744,660.6 1781,657.9 1809,655.5 1819,655 1841,654.6 1884,654.7 1916,654.1 1959,655.5" fill="none" stroke="#e52424" stroke-width="3.0" stroke-linejoin="round" stroke-linecap="round" stroke-dasharray="7.5,8.5"/>
<polyline points="147,650.4 171,651.1 209,650.1 248,650.8 284,650.3 322,651.2 365,650 412,650.9 472,650.9 515,650 564,651.2 647,650.2 710,651.2 784,650.2 834,651.3 876,650.7 936,650.4 982,651.5 1025,650.4 1063,651.1 1101,650.7 1136,651.4 1177,650.4 1214,651.4 1255,650.5 1294,651.5 1320,650.8 1337,650.9 1356,649.7 1371,648.1 1387,646 1395,644.2 1404,641.6 1427,633.2 1441,627.4 1453,621.3 1463,614.8 1468,610.6 1474,604.1 1480,596.6 1488,585.4 1493,577 1504,556.1 1513,539.6 1516,534.6 1518,532 1522,528.2 1524,527 1526,526.8 1528,528.2 1531,532.5 1535,540.5 1537,546.7 1540,559.6 1546,589.2 1560,651.3 1570,691 1579,721.7 1587,745.5 1600,780.2 1603,786.6 1605,790 1609,795.4 1611,797.1 1612,797.3 1614,796.5 1616,794.5 1619,790.1 1623,783.1 1627,772.3 1634,748.5 1637,739.6 1646,718.8 1649,712.9 1652,708 1656,703 1661,697.5 1665,693.6 1670,689.4 1674,686.5 1679,683.4 1692,677.3 1702,673.6 1712,670.6 1724,667.6 1738,664.7 1752,662.3 1767,660 1804,655.9 1818,655.1 1847,654.6 1870,654.7 1931,654.1 1959,654.5" fill="none" stroke="#e52424" stroke-width="3.0" stroke-linejoin="round" stroke-linecap="butt"/>
<polyline points="147,643.7 167,644.4 248,643.6 290,643.7 302,644 316,643.7 332,642.7 358,640.4 369,638.6 384,634.8 421,623.7 434,618.6 444,613.3 448,610.4 452,606.9 460,598.6 464,593.9 467,589.8 474,578.2 485,557.7 494,537.7 498,530.2 500,527.5 504,523.2 509,518.5 513,516.1 515,515.6 517,515.6 519,516.8 522,520.1 528,529.8 530,534.1 532,539.6 536,553.2 541,572.2 544,585.2 556,645 567,695 579,744.9 584,763.4 587,772.4 593,788.5 598,800.7 601,806.5 603,809.4 605,811.2 607,812 608,811.9 610,810.6 613,806.5 616,800.6 622,787.4 625,779 631,759.5 634,750.8 639,739 645,726.2 650,716.7 655,708.1 662,697.5 668,689.2 673,683.3 678,678.5 687,671.7 694,667.4 699,665.2 705,663.5 715,661.4 724,660 743,658.7 765,657.7 780,657.5 814,658.1 851,656.6 881,657.2 913,656.6 948,657.8 980,656.9 1025,656.2 1058,656.8 1087,656.5 1119,657.3 1156,655.7 1184,656.3 1216,655.9 1251,656.5 1294,656.1 1328,655.3 1360,656.1 1394,655.4 1424,656.3 1461,655 1490,655.4 1569,655.1 1596,655.5 1632,654.4 1665,655.3 1696,654.4 1728,655 1761,654.5 1809,654.4 1836,654.6 1870,653.7 1902,654.6 1935,653.7 1959,654.3" fill="none" stroke="#038003" stroke-width="3.0" stroke-linejoin="round" stroke-linecap="round" stroke-dasharray="7.5,8.5"/>
<polyline points="147,643 171,643.5 203,643.2 239,644.2 266,643.8 305,644 329,642.9 357,640.5 368,638.7 383,634.8 414,625.1 426,620.3 437,614.5 443,609.9 450,602.7 458,592.7 464,582.8 477,557.6 486,537.6 490,530.1 492,527.5 496,523.2 501,518.5 505,516.1 507,515.6 509,515.6 511,516.8 514,520.1 520,529.8 522,534.1 524,539.6 528,553.2 533,572.2 536,585.2 548,645 559,695 571,744.9 576,763.4 579,772.4 585,788.5 590,800.7 593,806.5 595,809.4 597,811.2 599,812 600,811.9 602,810.6 605,806.4 614,787.4 617,779.4 626,752.1 631,740.9 636,730.8 642,719.8 648,710.1 655,700.1 662,691 668,684.2 673,679.6 682,673.1 690,668.3 696,665.7 701,664.1 712,661.8 723,660.1 752,658.2 790,657.1 814,657.6 846,657.2 877,657.5 912,656.7 941,657.1 974,656.5 1006,657 1039,656.5 1070,656.8 1107,656 1136,656.4 1168,656 1200,656.6 1234,655.7 1264,655.8 1292,655.3 1334,656.2 1362,655.6 1393,655.5 1424,654.7 1459,655.5 1490,655.2 1516,655.4 1557,654.3 1588,654.8 1619,654.5 1649,655.1 1683,654.2 1715,654.4 1744,653.9 1780,654.4 1812,653.9 1845,654.2 1877,653.4 1908,653.8 1940,653.3 1959,653.7" fill="none" stroke="#038003" stroke-width="3.0" stroke-linejoin="round" stroke-linecap="butt"/>
<line x1="190" y1="548.5" x2="239.8" y2="548.5" stroke="#e52424" stroke-width="3" stroke-dasharray="8.1,8.3" stroke-dashoffset="4.6" stroke-linecap="round"/>
<line x1="301.9" y1="548.5" x2="350.5" y2="548.5" stroke="#e52424" stroke-width="3" stroke-linecap="round"/>
<text x="270.2" y="559.2" font-size="29" text-anchor="middle">IV</text>
<line x1="190" y1="581.8" x2="239.8" y2="581.8" stroke="#038003" stroke-width="3" stroke-dasharray="8.1,8.3" stroke-dashoffset="4.6" stroke-linecap="round"/>
<line x1="301.9" y1="581.8" x2="350.5" y2="581.8" stroke="#038003" stroke-width="3" stroke-linecap="round"/>
<text x="270.2" y="591.7" font-size="29" text-anchor="middle">III</text>
<line x1="161" y1="1057.3" x2="1946" y2="1057.3" stroke="#000" stroke-width="3.2" stroke-linecap="butt"/>
<path d="M161.2,1050 L173.5,1057.3 L161.2,1064.6 Z" fill="#000"/>
<path d="M1946.4,1050 L1934,1057.3 L1946.4,1064.6 Z" fill="#000"/>
<path d="M412.6,1057.3 L424.6,1049.3 L436.6,1057.3 L424.6,1065.3 Z" fill="#000"/>
<path d="M1673,1057.3 L1685,1049.3 L1697,1057.3 L1685,1065.3 Z" fill="#000"/>
<text x="243.5" y="1043.6" font-size="34">Baseline</text>
<text x="914" y="1044.5" font-size="33.5">Strain modulation</text>
<text x="1753" y="1042.4" font-size="33.5">Baseline</text>
<line x1="160.5" y1="1068.3" x2="160.5" y2="1248.1" stroke="#000" stroke-width="3" stroke-linecap="butt"/>
<line x1="160.5" y1="1091.9" x2="147.5" y2="1091.9" stroke="#000" stroke-width="3" stroke-linecap="butt"/>
<line x1="160.5" y1="1136.1" x2="147.5" y2="1136.1" stroke="#000" stroke-width="3" stroke-linecap="butt"/>
<line x1="160.5" y1="1180.3" x2="147.5" y2="1180.3" stroke="#000" stroke-width="3" stroke-linecap="butt"/>
<line x1="160.5" y1="1224.5" x2="147.5" y2="1224.5" stroke="#000" stroke-width="3" stroke-linecap="butt"/>
<line x1="160.5" y1="1069.8" x2="152.5" y2="1069.8" stroke="#000" stroke-width="3" stroke-linecap="butt"/>
<line x1="160.5" y1="1114" x2="152.5" y2="1114" stroke="#000" stroke-width="3" stroke-linecap="butt"/>
<line x1="160.5" y1="1158.2" x2="152.5" y2="1158.2" stroke="#000" stroke-width="3" stroke-linecap="butt"/>
<line x1="160.5" y1="1202.4" x2="152.5" y2="1202.4" stroke="#000" stroke-width="3" stroke-linecap="butt"/>
<line x1="160.5" y1="1246.6" x2="152.5" y2="1246.6" stroke="#000" stroke-width="3" stroke-linecap="butt"/>
<text x="140.3" y="1103.4" font-size="32" text-anchor="end">12</text>
<text x="140.3" y="1147.6" font-size="32" text-anchor="end">8</text>
<text x="140.3" y="1191.8" font-size="32" text-anchor="end">4</text>
<text x="140.3" y="1236" font-size="32" text-anchor="end">0</text>
<line x1="159.2" y1="1261.5" x2="1947.2" y2="1261.5" stroke="#000" stroke-width="3" stroke-linecap="butt"/>
<line x1="160.7" y1="1261.5" x2="160.7" y2="1273.5" stroke="#000" stroke-width="3" stroke-linecap="butt"/>
<line x1="415.7" y1="1261.5" x2="415.7" y2="1273.5" stroke="#000" stroke-width="3" stroke-linecap="butt"/>
<line x1="670.7" y1="1261.5" x2="670.7" y2="1273.5" stroke="#000" stroke-width="3" stroke-linecap="butt"/>
<line x1="925.7" y1="1261.5" x2="925.7" y2="1273.5" stroke="#000" stroke-width="3" stroke-linecap="butt"/>
<line x1="1180.7" y1="1261.5" x2="1180.7" y2="1273.5" stroke="#000" stroke-width="3" stroke-linecap="butt"/>
<line x1="1435.7" y1="1261.5" x2="1435.7" y2="1273.5" stroke="#000" stroke-width="3" stroke-linecap="butt"/>
<line x1="1690.7" y1="1261.5" x2="1690.7" y2="1273.5" stroke="#000" stroke-width="3" stroke-linecap="butt"/>
<line x1="1945.7" y1="1261.5" x2="1945.7" y2="1273.5" stroke="#000" stroke-width="3" stroke-linecap="butt"/>
<line x1="288.2" y1="1261.5" x2="288.2" y2="1269.5" stroke="#000" stroke-width="3" stroke-linecap="butt"/>
<line x1="543.2" y1="1261.5" x2="543.2" y2="1269.5" stroke="#000" stroke-width="3" stroke-linecap="butt"/>
<line x1="798.2" y1="1261.5" x2="798.2" y2="1269.5" stroke="#000" stroke-width="3" stroke-linecap="butt"/>
<line x1="1067.2" y1="1261.5" x2="1067.2" y2="1269.5" stroke="#000" stroke-width="3" stroke-linecap="butt"/>
<line x1="1308.2" y1="1261.5" x2="1308.2" y2="1269.5" stroke="#000" stroke-width="3" stroke-linecap="butt"/>
<line x1="1563.2" y1="1261.5" x2="1563.2" y2="1269.5" stroke="#000" stroke-width="3" stroke-linecap="butt"/>
<line x1="1818.2" y1="1261.5" x2="1818.2" y2="1269.5" stroke="#000" stroke-width="3" stroke-linecap="butt"/>
<text x="160.7" y="1313.4" font-size="32" text-anchor="middle">0</text>
<text x="415.7" y="1313.4" font-size="32" text-anchor="middle">10</text>
<text x="670.7" y="1313.4" font-size="32" text-anchor="middle">20</text>
<text x="925.7" y="1313.4" font-size="32" text-anchor="middle">30</text>
<text x="1180.7" y="1313.4" font-size="32" text-anchor="middle">40</text>
<text x="1435.7" y="1313.4" font-size="32" text-anchor="middle">50</text>
<text x="1690.7" y="1313.4" font-size="32" text-anchor="middle">60</text>
<text x="1945.7" y="1313.4" font-size="32" text-anchor="middle">70</text>
<text x="999.5" y="1358.6" font-size="33.5">Time (s)</text>
<text transform="translate(80.8,1234.7) rotate(-90)" font-size="33">Strain (%)</text>
<line x1="1917.4" y1="1067.9" x2="1917.4" y2="1226" stroke="#7f00ff" stroke-width="3" stroke-linecap="butt"/>
<line x1="1917.4" y1="1080.5" x2="1929.4" y2="1080.5" stroke="#7f00ff" stroke-width="3" stroke-linecap="butt"/>
<line x1="1917.4" y1="1152.5" x2="1929.4" y2="1152.5" stroke="#7f00ff" stroke-width="3" stroke-linecap="butt"/>
<line x1="1917.4" y1="1224.5" x2="1929.4" y2="1224.5" stroke="#7f00ff" stroke-width="3" stroke-linecap="butt"/>
<line x1="1917.4" y1="1116.5" x2="1925" y2="1116.5" stroke="#7f00ff" stroke-width="3" stroke-linecap="butt"/>
<line x1="1917.4" y1="1188.5" x2="1925" y2="1188.5" stroke="#7f00ff" stroke-width="3" stroke-linecap="butt"/>
<text x="1941" y="1092" font-size="32" fill="#7f00ff">3.6</text>
<text x="1941" y="1164" font-size="32" fill="#7f00ff">1.8</text>
<text x="1941" y="1236" font-size="32" fill="#7f00ff">0</text>
<text transform="translate(2028,1196) rotate(-90)" font-size="33" fill="#7f00ff"><tspan font-style="italic">V</tspan><tspan font-family="'Liberation Serif', 'Times New Roman', serif" font-style="italic" font-size="22" dy="9">ε</tspan><tspan dy="-9"> (kV)</tspan></text>
<path d="M160.7,1224.5 H418.8 V1080.5 H481 V1224.5 H541.2 V1080.5 H603.4 V1224.5 H663.6 V1080.5 H725.8 V1224.5 H786 V1080.5 H848.2 V1224.5 H908.4 V1080.5 H970.6 V1224.5 H1030.8 V1080.5 H1093 V1224.5 H1153.2 V1080.5 H1215.4 V1224.5 H1275.6 V1080.5 H1337.8 V1224.5 H1398 V1080.5 H1460.2 V1224.5 H1520.4 V1080.5 H1582.6 V1224.5 H1917.4" fill="none" stroke="#7f00ff" stroke-width="3" stroke-linejoin="miter"/>
<line x1="160.7" y1="1224.5" x2="1946" y2="1224.5" stroke="#000" stroke-width="2.6" stroke-dasharray="11,7" stroke-linecap="butt"/>
<polyline points="160.7,1224.5 414.4,1224.5 415.7,1213.5 420.8,1140.5 425.9,1134.7 431,1130.3 436.1,1127 442.5,1124 450.1,1121.5 457.8,1120 468,1118.7 479.4,1117.9 480.7,1137 484.6,1208.7 485.8,1213.8 496,1216.2 507.5,1218 520.2,1219.3 536.8,1220.2 538.1,1213.3 543.2,1138.6 548.3,1132.2 553.4,1127.5 558.5,1123.9 564.9,1120.6 572.5,1118 580.2,1116.3 590.4,1114.9 601.9,1114 603.1,1133.9 607,1208.5 608.2,1213.7 618.4,1216.1 627.4,1217.5 636.3,1218.5 659.2,1219.9 660.5,1213 665.6,1136.6 670.7,1131.1 675.8,1127 680.9,1123.9 687.3,1121 694.9,1118.8 702.6,1117.3 712.8,1116 724.2,1115.3 725.5,1134.9 729.3,1208.5 730.6,1213.7 740.8,1216 752.3,1217.6 765,1218.8 781.6,1219.6 782.9,1212.8 788,1134.6 793.1,1129.3 798.2,1125.3 803.3,1122.3 809.7,1119.6 817.3,1117.4 825,1115.9 835.2,1114.7 846.7,1114 847.9,1133.9 851.8,1208.5 853,1213.7 863.2,1215.9 874.7,1217.5 887.5,1218.6 904,1219.4 905.3,1212.5 910.4,1132.7 915.5,1127.5 920.6,1123.6 925.7,1120.7 932.1,1118.1 939.7,1116 947.4,1114.6 957.6,1113.4 969,1112.7 970.3,1132.9 974.2,1208.4 975.4,1213.7 985.6,1215.8 997.1,1217.3 1009.9,1218.3 1026.4,1219.1 1027.7,1212.3 1032.8,1130.7 1037.9,1125.7 1043,1122 1048.1,1119.2 1054.5,1116.6 1062.1,1114.6 1069.8,1113.2 1080,1112.1 1091.5,1111.4 1092.7,1131.8 1096.5,1208.3 1097.8,1213.7 1108,1215.7 1119.5,1217.1 1132.2,1218.1 1148.8,1218.8 1150.1,1212 1155.2,1128.7 1160.3,1123.9 1165.4,1120.3 1170.5,1117.6 1176.9,1115.2 1184.5,1113.2 1192.2,1111.9 1202.4,1110.8 1213.9,1110.1 1215.1,1130.8 1219,1208.3 1220.2,1213.7 1230.4,1215.5 1241.9,1216.9 1254.7,1217.9 1271.2,1218.6 1272.5,1211.8 1277.6,1126.8 1282.7,1122.1 1287.8,1118.7 1292.9,1116.1 1299.3,1113.7 1306.9,1111.8 1314.6,1110.5 1324.8,1109.5 1336.2,1108.9 1337.5,1129.8 1341.4,1208.2 1342.6,1213.7 1352.8,1215.4 1364.3,1216.7 1377.1,1217.6 1393.6,1218.3 1394.9,1211.5 1400,1124.8 1405.1,1120.4 1410.2,1117 1415.3,1114.5 1421.7,1112.2 1429.3,1110.4 1437,1109.2 1447.2,1108.2 1458.7,1107.6 1459.9,1128.7 1463.8,1208.2 1465,1213.7 1475.2,1215.3 1486.7,1216.5 1499.5,1217.4 1516,1218 1517.3,1211.2 1522.4,1122.8 1527.5,1118.6 1532.6,1115.3 1537.7,1112.9 1544.1,1110.7 1551.7,1109 1559.4,1107.8 1569.6,1106.9 1581.1,1106.3 1582.3,1127.7 1586.2,1208.1 1587.4,1213.8 1597.6,1216.3 1609.1,1217.8 1624.4,1218.9 1647.4,1219.6 1772.3,1221.4 1945.7,1222.5" fill="none" stroke="#952e2e" stroke-width="3" stroke-linejoin="round" stroke-linecap="butt"/>
<polyline points="160.7,1224.5 415.7,1224.5 417,1225.9 420.8,1233 422.1,1233.9 478.2,1237.7 479.4,1235.2 484.6,1222.4 485.8,1221.7 538.1,1221.7 539.4,1225.9 543.2,1233 544.5,1233.9 600.6,1237.7 601.9,1235.2 607,1222.4 608.2,1221.7 660.5,1221.7 661.8,1225.9 665.6,1233 666.9,1233.9 723,1237.7 724.2,1235.2 729.3,1222.4 730.6,1221.7 782.9,1221.7 784.2,1225.9 788,1233 789.3,1233.9 845.4,1237.7 846.7,1235.2 851.8,1222.4 853,1221.7 905.3,1221.7 906.6,1225.9 910.4,1233 911.7,1233.9 967.8,1237.7 969,1235.2 974.2,1222.4 975.4,1221.7 1027.7,1221.7 1029,1225.9 1032.8,1233 1034.1,1233.9 1090.2,1237.7 1091.5,1235.2 1096.5,1222.4 1097.8,1221.7 1150.1,1221.7 1151.4,1225.9 1155.2,1233 1156.5,1233.9 1212.6,1237.7 1213.9,1235.2 1219,1222.4 1220.2,1221.7 1272.5,1221.7 1273.8,1225.9 1277.6,1233 1278.9,1233.9 1335,1237.7 1336.2,1235.2 1341.4,1222.4 1342.6,1221.7 1394.9,1221.7 1396.2,1225.9 1400,1233 1401.3,1233.9 1457.4,1237.7 1458.7,1235.2 1463.8,1222.4 1465,1221.7 1517.3,1221.7 1518.6,1225.9 1522.4,1233 1523.7,1233.9 1579.8,1237.7 1581.1,1235.2 1586.2,1222.4 1587.4,1221.7 1945.7,1221.7" fill="none" stroke="#4aaac8" stroke-width="3" stroke-linejoin="round" stroke-linecap="butt"/>
<line x1="207.3" y1="1096.6" x2="240.8" y2="1096.6" stroke="#952e2e" stroke-width="3" stroke-linecap="round"/>
<line x1="207.3" y1="1139.5" x2="240.8" y2="1139.5" stroke="#4aaac8" stroke-width="3" stroke-linecap="round"/>
<line x1="207.3" y1="1182.5" x2="240.8" y2="1182.5" stroke="#7f00ff" stroke-width="3" stroke-linecap="round"/>
<text x="253.4" y="1104.3" font-size="29"><tspan font-style="italic">Z</tspan><tspan font-family="'Liberation Serif', 'Times New Roman', serif" font-style="italic" font-size="21" dy="7">ε</tspan><tspan font-size="21">+</tspan></text>
<text x="253.4" y="1148.8" font-size="29"><tspan font-style="italic">Z</tspan><tspan font-family="'Liberation Serif', 'Times New Roman', serif" font-style="italic" font-size="21" dy="8.5"> ε</tspan><tspan font-size="21">1–</tspan></text>
<text x="253.4" y="1192.2" font-size="29"><tspan font-style="italic">V</tspan><tspan font-family="'Liberation Serif', 'Times New Roman', serif" font-style="italic" font-size="21" dy="8.5">ε</tspan></text>
<line x1="160.5" y1="1365.5" x2="160.5" y2="1811.7" stroke="#000" stroke-width="3" stroke-linecap="butt"/>
<line x1="160.5" y1="1810.2" x2="147.5" y2="1810.2" stroke="#000" stroke-width="3" stroke-linecap="butt"/>
<line x1="160.5" y1="1711.7" x2="147.5" y2="1711.7" stroke="#000" stroke-width="3" stroke-linecap="butt"/>
<line x1="160.5" y1="1613.2" x2="147.5" y2="1613.2" stroke="#000" stroke-width="3" stroke-linecap="butt"/>
<line x1="160.5" y1="1514.7" x2="147.5" y2="1514.7" stroke="#000" stroke-width="3" stroke-linecap="butt"/>
<line x1="160.5" y1="1416.2" x2="147.5" y2="1416.2" stroke="#000" stroke-width="3" stroke-linecap="butt"/>
<line x1="160.5" y1="1761" x2="152.5" y2="1761" stroke="#000" stroke-width="3" stroke-linecap="butt"/>
<line x1="160.5" y1="1662.5" x2="152.5" y2="1662.5" stroke="#000" stroke-width="3" stroke-linecap="butt"/>
<line x1="160.5" y1="1564" x2="152.5" y2="1564" stroke="#000" stroke-width="3" stroke-linecap="butt"/>
<line x1="160.5" y1="1465.5" x2="152.5" y2="1465.5" stroke="#000" stroke-width="3" stroke-linecap="butt"/>
<line x1="160.5" y1="1367" x2="152.5" y2="1367" stroke="#000" stroke-width="3" stroke-linecap="butt"/>
<text x="136" y="1821.7" font-size="32" text-anchor="end">0</text>
<text x="136" y="1723.2" font-size="32" text-anchor="end">1</text>
<text x="136" y="1624.7" font-size="32" text-anchor="end">2</text>
<text x="136" y="1526.2" font-size="32" text-anchor="end">3</text>
<text x="136" y="1427.7" font-size="32" text-anchor="end">4</text>
<line x1="159.2" y1="1845.2" x2="1947.2" y2="1845.2" stroke="#000" stroke-width="3" stroke-linecap="butt"/>
<line x1="160.7" y1="1837.2" x2="160.7" y2="1853.2" stroke="#000" stroke-width="3" stroke-linecap="butt"/>
<line x1="415.7" y1="1837.2" x2="415.7" y2="1853.2" stroke="#000" stroke-width="3" stroke-linecap="butt"/>
<line x1="670.7" y1="1837.2" x2="670.7" y2="1853.2" stroke="#000" stroke-width="3" stroke-linecap="butt"/>
<line x1="925.7" y1="1837.2" x2="925.7" y2="1853.2" stroke="#000" stroke-width="3" stroke-linecap="butt"/>
<line x1="1180.7" y1="1837.2" x2="1180.7" y2="1853.2" stroke="#000" stroke-width="3" stroke-linecap="butt"/>
<line x1="1435.7" y1="1837.2" x2="1435.7" y2="1853.2" stroke="#000" stroke-width="3" stroke-linecap="butt"/>
<line x1="1690.7" y1="1837.2" x2="1690.7" y2="1853.2" stroke="#000" stroke-width="3" stroke-linecap="butt"/>
<line x1="1945.7" y1="1837.2" x2="1945.7" y2="1853.2" stroke="#000" stroke-width="3" stroke-linecap="butt"/>
<line x1="288.2" y1="1840.2" x2="288.2" y2="1850.2" stroke="#000" stroke-width="3" stroke-linecap="butt"/>
<line x1="543.2" y1="1840.2" x2="543.2" y2="1850.2" stroke="#000" stroke-width="3" stroke-linecap="butt"/>
<line x1="798.2" y1="1840.2" x2="798.2" y2="1850.2" stroke="#000" stroke-width="3" stroke-linecap="butt"/>
<line x1="1053.2" y1="1840.2" x2="1053.2" y2="1850.2" stroke="#000" stroke-width="3" stroke-linecap="butt"/>
<line x1="1308.2" y1="1840.2" x2="1308.2" y2="1850.2" stroke="#000" stroke-width="3" stroke-linecap="butt"/>
<line x1="1563.2" y1="1840.2" x2="1563.2" y2="1850.2" stroke="#000" stroke-width="3" stroke-linecap="butt"/>
<line x1="1818.2" y1="1840.2" x2="1818.2" y2="1850.2" stroke="#000" stroke-width="3" stroke-linecap="butt"/>
<line x1="160.7" y1="1810.2" x2="1946.8" y2="1810.2" stroke="#000" stroke-width="2.6" stroke-dasharray="10,7" stroke-linecap="butt"/>
<text transform="translate(83.8,1677.1) rotate(-90)" font-size="33">ATD<tspan x="66.5" font-size="24" dy="12.6">III–IV</tspan><tspan x="135.5" dy="-12.6">(%)</tspan></text>
<polyline points="160.7,1810.2 170.9,1813 181.1,1805.4 191.3,1808.2 201.5,1808.8 211.7,1808.4 232.1,1805.5 242.3,1807.2 252.5,1801.3 262.7,1806 272.9,1806 293.3,1801.4 303.5,1801.6 313.7,1805.1 323.9,1803.5 334.1,1803.7 344.3,1802.8 354.5,1803.3 364.7,1805.6 374.9,1806.1 385.1,1803.2 395.3,1805.8 405.5,1800.7 415.7,1803.2 425.9,1788.2 436.1,1788.9 446.3,1790.6 456.5,1789.3 466.7,1792.6 476.9,1789.9 487.1,1800 497.3,1798.8 517.7,1800 527.9,1802 538.1,1801.2 548.3,1790.3 558.5,1792.9 568.7,1788.5 578.9,1791.5 589.1,1789.5 599.3,1791.1 609.5,1797.9 619.7,1797.2 640.1,1801 650.3,1799.2 660.5,1799.8 670.7,1789 680.9,1788.6 691.1,1791.7 701.3,1792.8 711.5,1790.7 721.7,1789.2 731.9,1798.3 742.1,1799.1 752.3,1800.6 762.5,1799 772.7,1801.7 782.9,1797.7 793.1,1791 803.3,1791.4 813.5,1789.8 823.7,1794.6 833.9,1791.5 844.1,1792.5 864.5,1801.7 874.7,1798.5 884.9,1801.3 895.1,1797.3 905.3,1797.6 915.5,1790.1 925.7,1791.6 935.9,1792.1 946.1,1791 956.3,1792.7 966.5,1790.5 976.7,1799.8 986.9,1797.4 997.1,1800.2 1007.3,1800.6 1017.5,1800.5 1027.7,1799.6 1037.9,1791.5 1048.1,1791.1 1058.3,1791.6 1068.5,1789.2 1078.7,1790.7 1088.9,1789.7 1099.1,1800 1109.3,1799.1 1119.5,1800.6 1129.7,1797.9 1139.9,1797.4 1150.1,1800.3 1160.3,1789.8 1170.5,1791.7 1180.7,1789.7 1201.1,1790 1211.3,1791.1 1221.5,1802.2 1231.7,1797.9 1241.9,1797.1 1262.3,1801.9 1272.5,1798.8 1282.7,1791.1 1303.1,1787.3 1313.3,1791.7 1323.5,1789.7 1333.7,1791 1343.9,1796.4 1354.1,1803.1 1364.3,1798.4 1374.5,1800 1384.7,1801.1 1394.9,1798.4 1405.1,1789.3 1415.3,1789.9 1425.5,1788.9 1435.7,1794.6 1445.9,1791.4 1456.1,1792 1466.3,1801.9 1476.5,1798.8 1486.7,1796.8 1507.1,1801.1 1517.3,1802.9 1527.5,1790.7 1537.7,1791.6 1547.9,1791.4 1568.3,1787.7 1578.5,1794.7 1588.7,1798.9 1598.9,1797.9 1609.1,1798.1 1619.3,1797.6 1629.5,1796 1639.7,1799.5 1649.9,1800.2 1660.1,1796.9 1670.3,1797.7 1690.7,1796.7 1700.9,1797.7 1711.1,1796.2 1721.3,1798.7 1731.5,1797.3 1741.7,1798.6 1751.9,1799.1 1762.1,1796.5 1772.3,1796.6 1782.5,1800.3 1792.7,1799.1 1802.9,1797 1813.1,1795.8 1823.3,1798.4 1833.5,1797.7 1843.7,1799.5 1853.9,1793.7 1864.1,1796.7 1874.3,1796.1 1884.5,1796.4" fill="none" stroke="#000" stroke-width="2.8" stroke-linejoin="round" stroke-linecap="butt"/>
<g fill="#000"><circle cx="160.7" cy="1810.2" r="3.4"/><circle cx="170.9" cy="1813" r="3.4"/><circle cx="181.1" cy="1805.4" r="3.4"/><circle cx="191.3" cy="1808.2" r="3.4"/><circle cx="201.5" cy="1808.8" r="3.4"/><circle cx="211.7" cy="1808.4" r="3.4"/><circle cx="221.9" cy="1807" r="3.4"/><circle cx="232.1" cy="1805.5" r="3.4"/><circle cx="242.3" cy="1807.2" r="3.4"/><circle cx="252.5" cy="1801.3" r="3.4"/><circle cx="262.7" cy="1806" r="3.4"/><circle cx="272.9" cy="1806" r="3.4"/><circle cx="283.1" cy="1803.8" r="3.4"/><circle cx="293.3" cy="1801.4" r="3.4"/><circle cx="303.5" cy="1801.6" r="3.4"/><circle cx="313.7" cy="1805.1" r="3.4"/><circle cx="323.9" cy="1803.5" r="3.4"/><circle cx="334.1" cy="1803.7" r="3.4"/><circle cx="344.3" cy="1802.8" r="3.4"/><circle cx="354.5" cy="1803.3" r="3.4"/><circle cx="364.7" cy="1805.6" r="3.4"/><circle cx="374.9" cy="1806.1" r="3.4"/><circle cx="385.1" cy="1803.2" r="3.4"/><circle cx="395.3" cy="1805.8" r="3.4"/><circle cx="405.5" cy="1800.7" r="3.4"/><circle cx="415.7" cy="1803.2" r="3.4"/><circle cx="425.9" cy="1788.2" r="3.4"/><circle cx="436.1" cy="1788.9" r="3.4"/><circle cx="446.3" cy="1790.6" r="3.4"/><circle cx="456.5" cy="1789.3" r="3.4"/><circle cx="466.7" cy="1792.6" r="3.4"/><circle cx="476.9" cy="1789.9" r="3.4"/><circle cx="487.1" cy="1800" r="3.4"/><circle cx="497.3" cy="1798.8" r="3.4"/><circle cx="507.5" cy="1799.4" r="3.4"/><circle cx="517.7" cy="1800" r="3.4"/><circle cx="527.9" cy="1802" r="3.4"/><circle cx="538.1" cy="1801.2" r="3.4"/><circle cx="548.3" cy="1790.3" r="3.4"/><circle cx="558.5" cy="1792.9" r="3.4"/><circle cx="568.7" cy="1788.5" r="3.4"/><circle cx="578.9" cy="1791.5" r="3.4"/><circle cx="589.1" cy="1789.5" r="3.4"/><circle cx="599.3" cy="1791.1" r="3.4"/><circle cx="609.5" cy="1797.9" r="3.4"/><circle cx="619.7" cy="1797.2" r="3.4"/><circle cx="629.9" cy="1799.2" r="3.4"/><circle cx="640.1" cy="1801" r="3.4"/><circle cx="650.3" cy="1799.2" r="3.4"/><circle cx="660.5" cy="1799.8" r="3.4"/><circle cx="670.7" cy="1789" r="3.4"/><circle cx="680.9" cy="1788.6" r="3.4"/><circle cx="691.1" cy="1791.7" r="3.4"/><circle cx="701.3" cy="1792.8" r="3.4"/><circle cx="711.5" cy="1790.7" r="3.4"/><circle cx="721.7" cy="1789.2" r="3.4"/><circle cx="731.9" cy="1798.3" r="3.4"/><circle cx="742.1" cy="1799.1" r="3.4"/><circle cx="752.3" cy="1800.6" r="3.4"/><circle cx="762.5" cy="1799" r="3.4"/><circle cx="772.7" cy="1801.7" r="3.4"/><circle cx="782.9" cy="1797.7" r="3.4"/><circle cx="793.1" cy="1791" r="3.4"/><circle cx="803.3" cy="1791.4" r="3.4"/><circle cx="813.5" cy="1789.8" r="3.4"/><circle cx="823.7" cy="1794.6" r="3.4"/><circle cx="833.9" cy="1791.5" r="3.4"/><circle cx="844.1" cy="1792.5" r="3.4"/><circle cx="854.3" cy="1797" r="3.4"/><circle cx="864.5" cy="1801.7" r="3.4"/><circle cx="874.7" cy="1798.5" r="3.4"/><circle cx="884.9" cy="1801.3" r="3.4"/><circle cx="895.1" cy="1797.3" r="3.4"/><circle cx="905.3" cy="1797.6" r="3.4"/><circle cx="915.5" cy="1790.1" r="3.4"/><circle cx="925.7" cy="1791.6" r="3.4"/><circle cx="935.9" cy="1792.1" r="3.4"/><circle cx="946.1" cy="1791" r="3.4"/><circle cx="956.3" cy="1792.7" r="3.4"/><circle cx="966.5" cy="1790.5" r="3.4"/><circle cx="976.7" cy="1799.8" r="3.4"/><circle cx="986.9" cy="1797.4" r="3.4"/><circle cx="997.1" cy="1800.2" r="3.4"/><circle cx="1007.3" cy="1800.6" r="3.4"/><circle cx="1017.5" cy="1800.5" r="3.4"/><circle cx="1027.7" cy="1799.6" r="3.4"/><circle cx="1037.9" cy="1791.5" r="3.4"/><circle cx="1048.1" cy="1791.1" r="3.4"/><circle cx="1058.3" cy="1791.6" r="3.4"/><circle cx="1068.5" cy="1789.2" r="3.4"/><circle cx="1078.7" cy="1790.7" r="3.4"/><circle cx="1088.9" cy="1789.7" r="3.4"/><circle cx="1099.1" cy="1800" r="3.4"/><circle cx="1109.3" cy="1799.1" r="3.4"/><circle cx="1119.5" cy="1800.6" r="3.4"/><circle cx="1129.7" cy="1797.9" r="3.4"/><circle cx="1139.9" cy="1797.4" r="3.4"/><circle cx="1150.1" cy="1800.3" r="3.4"/><circle cx="1160.3" cy="1789.8" r="3.4"/><circle cx="1170.5" cy="1791.7" r="3.4"/><circle cx="1180.7" cy="1789.7" r="3.4"/><circle cx="1190.9" cy="1790" r="3.4"/><circle cx="1201.1" cy="1790" r="3.4"/><circle cx="1211.3" cy="1791.1" r="3.4"/><circle cx="1221.5" cy="1802.2" r="3.4"/><circle cx="1231.7" cy="1797.9" r="3.4"/><circle cx="1241.9" cy="1797.1" r="3.4"/><circle cx="1252.1" cy="1799.7" r="3.4"/><circle cx="1262.3" cy="1801.9" r="3.4"/><circle cx="1272.5" cy="1798.8" r="3.4"/><circle cx="1282.7" cy="1791.1" r="3.4"/><circle cx="1292.9" cy="1789.3" r="3.4"/><circle cx="1303.1" cy="1787.3" r="3.4"/><circle cx="1313.3" cy="1791.7" r="3.4"/><circle cx="1323.5" cy="1789.7" r="3.4"/><circle cx="1333.7" cy="1791" r="3.4"/><circle cx="1343.9" cy="1796.4" r="3.4"/><circle cx="1354.1" cy="1803.1" r="3.4"/><circle cx="1364.3" cy="1798.4" r="3.4"/><circle cx="1374.5" cy="1800" r="3.4"/><circle cx="1384.7" cy="1801.1" r="3.4"/><circle cx="1394.9" cy="1798.4" r="3.4"/><circle cx="1405.1" cy="1789.3" r="3.4"/><circle cx="1415.3" cy="1789.9" r="3.4"/><circle cx="1425.5" cy="1788.9" r="3.4"/><circle cx="1435.7" cy="1794.6" r="3.4"/><circle cx="1445.9" cy="1791.4" r="3.4"/><circle cx="1456.1" cy="1792" r="3.4"/><circle cx="1466.3" cy="1801.9" r="3.4"/><circle cx="1476.5" cy="1798.8" r="3.4"/><circle cx="1486.7" cy="1796.8" r="3.4"/><circle cx="1496.9" cy="1799" r="3.4"/><circle cx="1507.1" cy="1801.1" r="3.4"/><circle cx="1517.3" cy="1802.9" r="3.4"/><circle cx="1527.5" cy="1790.7" r="3.4"/><circle cx="1537.7" cy="1791.6" r="3.4"/><circle cx="1547.9" cy="1791.4" r="3.4"/><circle cx="1558.1" cy="1789.5" r="3.4"/><circle cx="1568.3" cy="1787.7" r="3.4"/><circle cx="1578.5" cy="1794.7" r="3.4"/><circle cx="1588.7" cy="1798.9" r="3.4"/><circle cx="1598.9" cy="1797.9" r="3.4"/><circle cx="1609.1" cy="1798.1" r="3.4"/><circle cx="1619.3" cy="1797.6" r="3.4"/><circle cx="1629.5" cy="1796" r="3.4"/><circle cx="1639.7" cy="1799.5" r="3.4"/><circle cx="1649.9" cy="1800.2" r="3.4"/><circle cx="1660.1" cy="1796.9" r="3.4"/><circle cx="1670.3" cy="1797.7" r="3.4"/><circle cx="1680.5" cy="1797.2" r="3.4"/><circle cx="1690.7" cy="1796.7" r="3.4"/><circle cx="1700.9" cy="1797.7" r="3.4"/><circle cx="1711.1" cy="1796.2" r="3.4"/><circle cx="1721.3" cy="1798.7" r="3.4"/><circle cx="1731.5" cy="1797.3" r="3.4"/><circle cx="1741.7" cy="1798.6" r="3.4"/><circle cx="1751.9" cy="1799.1" r="3.4"/><circle cx="1762.1" cy="1796.5" r="3.4"/><circle cx="1772.3" cy="1796.6" r="3.4"/><circle cx="1782.5" cy="1800.3" r="3.4"/><circle cx="1792.7" cy="1799.1" r="3.4"/><circle cx="1802.9" cy="1797" r="3.4"/><circle cx="1813.1" cy="1795.8" r="3.4"/><circle cx="1823.3" cy="1798.4" r="3.4"/><circle cx="1833.5" cy="1797.7" r="3.4"/><circle cx="1843.7" cy="1799.5" r="3.4"/><circle cx="1853.9" cy="1793.7" r="3.4"/><circle cx="1864.1" cy="1796.7" r="3.4"/><circle cx="1874.3" cy="1796.1" r="3.4"/><circle cx="1884.5" cy="1796.4" r="3.4"/></g>
<polyline points="160.7,1810.2 181.1,1810.4 191.3,1808.9 201.5,1806.6 211.7,1805.3 221.9,1803.2 232.1,1806.7 242.3,1801.6 252.5,1802.5 272.9,1808.7 283.1,1805.3 293.3,1805 303.5,1808.5 313.7,1804.9 323.9,1805.2 334.1,1806 344.3,1803.9 354.5,1803.2 364.7,1805.4 374.9,1804.2 385.1,1805.5 395.3,1805.6 405.5,1804.2 415.7,1803.5 425.9,1766.9 436.1,1759 466.7,1759 476.9,1761.9 487.1,1793.5 497.3,1795.4 538.1,1795.4 548.3,1759 558.5,1753.1 568.7,1754.1 578.9,1753.1 589.1,1757 599.3,1755 609.5,1790.5 619.7,1795.4 629.9,1790.5 650.3,1790.5 660.5,1793.5 670.7,1757 680.9,1755 691.1,1757 701.3,1752.1 711.5,1749.1 721.7,1751.1 731.9,1783.6 742.1,1788.5 762.5,1788.5 772.7,1789.5 782.9,1789.5 793.1,1757 803.3,1753.1 813.5,1745.2 823.7,1756 833.9,1753.1 844.1,1749.1 854.3,1782.6 864.5,1784.6 874.7,1785.6 895.1,1785.6 905.3,1786.6 915.5,1751.1 925.7,1751.1 935.9,1750.1 946.1,1750.1 956.3,1749.1 966.5,1749.1 976.7,1782.6 986.9,1783.6 997.1,1782.6 1007.3,1783.6 1017.5,1783.6 1027.7,1782.6 1037.9,1753.1 1048.1,1751.1 1058.3,1748.1 1068.5,1747.2 1078.7,1748.1 1088.9,1745.2 1099.1,1782.6 1109.3,1783.6 1119.5,1782.6 1129.7,1783.6 1139.9,1782.6 1150.1,1782.6 1160.3,1757 1170.5,1752.1 1180.7,1744.2 1190.9,1749.1 1201.1,1750.1 1211.3,1744.2 1221.5,1783.6 1231.7,1786.6 1241.9,1786.6 1252.1,1783.6 1262.3,1785.6 1272.5,1788.5 1282.7,1755 1292.9,1750.1 1303.1,1749.1 1313.3,1749.1 1323.5,1748.1 1333.7,1744.2 1343.9,1782.6 1354.1,1786.6 1364.3,1782.6 1374.5,1786.6 1384.7,1785.6 1394.9,1783.6 1405.1,1754.1 1415.3,1749.1 1456.1,1749.1 1466.3,1776.7 1476.5,1780.7 1517.3,1784.6 1527.5,1751.1 1537.7,1758 1547.9,1749.1 1558.1,1746.2 1568.3,1747.2 1578.5,1745.2 1588.7,1781.5 1598.9,1784.8 1609.1,1781.4 1619.3,1785.3 1639.7,1781.4 1649.9,1784.6 1660.1,1786.7 1670.3,1787.5 1680.5,1784 1690.7,1786.1 1711.1,1785.2 1721.3,1786.9 1731.5,1787.5 1741.7,1788.6 1751.9,1791.9 1772.3,1787.8 1782.5,1788 1792.7,1787.3 1802.9,1788.2 1813.1,1787.8 1823.3,1787 1833.5,1789.6 1843.7,1788.7 1853.9,1790.7 1864.1,1787 1874.3,1788.4 1884.5,1787.8" fill="none" stroke="#e52424" stroke-width="2.8" stroke-linejoin="round" stroke-linecap="butt"/>
<g fill="#e52424"><circle cx="160.7" cy="1810.2" r="3.4"/><circle cx="170.9" cy="1810.5" r="3.4"/><circle cx="181.1" cy="1810.4" r="3.4"/><circle cx="191.3" cy="1808.9" r="3.4"/><circle cx="201.5" cy="1806.6" r="3.4"/><circle cx="211.7" cy="1805.3" r="3.4"/><circle cx="221.9" cy="1803.2" r="3.4"/><circle cx="232.1" cy="1806.7" r="3.4"/><circle cx="242.3" cy="1801.6" r="3.4"/><circle cx="252.5" cy="1802.5" r="3.4"/><circle cx="262.7" cy="1805.7" r="3.4"/><circle cx="272.9" cy="1808.7" r="3.4"/><circle cx="283.1" cy="1805.3" r="3.4"/><circle cx="293.3" cy="1805" r="3.4"/><circle cx="303.5" cy="1808.5" r="3.4"/><circle cx="313.7" cy="1804.9" r="3.4"/><circle cx="323.9" cy="1805.2" r="3.4"/><circle cx="334.1" cy="1806" r="3.4"/><circle cx="344.3" cy="1803.9" r="3.4"/><circle cx="354.5" cy="1803.2" r="3.4"/><circle cx="364.7" cy="1805.4" r="3.4"/><circle cx="374.9" cy="1804.2" r="3.4"/><circle cx="385.1" cy="1805.5" r="3.4"/><circle cx="395.3" cy="1805.6" r="3.4"/><circle cx="405.5" cy="1804.2" r="3.4"/><circle cx="415.7" cy="1803.5" r="3.4"/><circle cx="425.9" cy="1766.9" r="3.4"/><circle cx="436.1" cy="1759" r="3.4"/><circle cx="446.3" cy="1759" r="3.4"/><circle cx="456.5" cy="1759" r="3.4"/><circle cx="466.7" cy="1759" r="3.4"/><circle cx="476.9" cy="1761.9" r="3.4"/><circle cx="487.1" cy="1793.5" r="3.4"/><circle cx="497.3" cy="1795.4" r="3.4"/><circle cx="507.5" cy="1795.4" r="3.4"/><circle cx="517.7" cy="1795.4" r="3.4"/><circle cx="527.9" cy="1795.4" r="3.4"/><circle cx="538.1" cy="1795.4" r="3.4"/><circle cx="548.3" cy="1759" r="3.4"/><circle cx="558.5" cy="1753.1" r="3.4"/><circle cx="568.7" cy="1754.1" r="3.4"/><circle cx="578.9" cy="1753.1" r="3.4"/><circle cx="589.1" cy="1757" r="3.4"/><circle cx="599.3" cy="1755" r="3.4"/><circle cx="609.5" cy="1790.5" r="3.4"/><circle cx="619.7" cy="1795.4" r="3.4"/><circle cx="629.9" cy="1790.5" r="3.4"/><circle cx="640.1" cy="1790.5" r="3.4"/><circle cx="650.3" cy="1790.5" r="3.4"/><circle cx="660.5" cy="1793.5" r="3.4"/><circle cx="670.7" cy="1757" r="3.4"/><circle cx="680.9" cy="1755" r="3.4"/><circle cx="691.1" cy="1757" r="3.4"/><circle cx="701.3" cy="1752.1" r="3.4"/><circle cx="711.5" cy="1749.1" r="3.4"/><circle cx="721.7" cy="1751.1" r="3.4"/><circle cx="731.9" cy="1783.6" r="3.4"/><circle cx="742.1" cy="1788.5" r="3.4"/><circle cx="752.3" cy="1788.5" r="3.4"/><circle cx="762.5" cy="1788.5" r="3.4"/><circle cx="772.7" cy="1789.5" r="3.4"/><circle cx="782.9" cy="1789.5" r="3.4"/><circle cx="793.1" cy="1757" r="3.4"/><circle cx="803.3" cy="1753.1" r="3.4"/><circle cx="813.5" cy="1745.2" r="3.4"/><circle cx="823.7" cy="1756" r="3.4"/><circle cx="833.9" cy="1753.1" r="3.4"/><circle cx="844.1" cy="1749.1" r="3.4"/><circle cx="854.3" cy="1782.6" r="3.4"/><circle cx="864.5" cy="1784.6" r="3.4"/><circle cx="874.7" cy="1785.6" r="3.4"/><circle cx="884.9" cy="1785.6" r="3.4"/><circle cx="895.1" cy="1785.6" r="3.4"/><circle cx="905.3" cy="1786.6" r="3.4"/><circle cx="915.5" cy="1751.1" r="3.4"/><circle cx="925.7" cy="1751.1" r="3.4"/><circle cx="935.9" cy="1750.1" r="3.4"/><circle cx="946.1" cy="1750.1" r="3.4"/><circle cx="956.3" cy="1749.1" r="3.4"/><circle cx="966.5" cy="1749.1" r="3.4"/><circle cx="976.7" cy="1782.6" r="3.4"/><circle cx="986.9" cy="1783.6" r="3.4"/><circle cx="997.1" cy="1782.6" r="3.4"/><circle cx="1007.3" cy="1783.6" r="3.4"/><circle cx="1017.5" cy="1783.6" r="3.4"/><circle cx="1027.7" cy="1782.6" r="3.4"/><circle cx="1037.9" cy="1753.1" r="3.4"/><circle cx="1048.1" cy="1751.1" r="3.4"/><circle cx="1058.3" cy="1748.1" r="3.4"/><circle cx="1068.5" cy="1747.2" r="3.4"/><circle cx="1078.7" cy="1748.1" r="3.4"/><circle cx="1088.9" cy="1745.2" r="3.4"/><circle cx="1099.1" cy="1782.6" r="3.4"/><circle cx="1109.3" cy="1783.6" r="3.4"/><circle cx="1119.5" cy="1782.6" r="3.4"/><circle cx="1129.7" cy="1783.6" r="3.4"/><circle cx="1139.9" cy="1782.6" r="3.4"/><circle cx="1150.1" cy="1782.6" r="3.4"/><circle cx="1160.3" cy="1757" r="3.4"/><circle cx="1170.5" cy="1752.1" r="3.4"/><circle cx="1180.7" cy="1744.2" r="3.4"/><circle cx="1190.9" cy="1749.1" r="3.4"/><circle cx="1201.1" cy="1750.1" r="3.4"/><circle cx="1211.3" cy="1744.2" r="3.4"/><circle cx="1221.5" cy="1783.6" r="3.4"/><circle cx="1231.7" cy="1786.6" r="3.4"/><circle cx="1241.9" cy="1786.6" r="3.4"/><circle cx="1252.1" cy="1783.6" r="3.4"/><circle cx="1262.3" cy="1785.6" r="3.4"/><circle cx="1272.5" cy="1788.5" r="3.4"/><circle cx="1282.7" cy="1755" r="3.4"/><circle cx="1292.9" cy="1750.1" r="3.4"/><circle cx="1303.1" cy="1749.1" r="3.4"/><circle cx="1313.3" cy="1749.1" r="3.4"/><circle cx="1323.5" cy="1748.1" r="3.4"/><circle cx="1333.7" cy="1744.2" r="3.4"/><circle cx="1343.9" cy="1782.6" r="3.4"/><circle cx="1354.1" cy="1786.6" r="3.4"/><circle cx="1364.3" cy="1782.6" r="3.4"/><circle cx="1374.5" cy="1786.6" r="3.4"/><circle cx="1384.7" cy="1785.6" r="3.4"/><circle cx="1394.9" cy="1783.6" r="3.4"/><circle cx="1405.1" cy="1754.1" r="3.4"/><circle cx="1415.3" cy="1749.1" r="3.4"/><circle cx="1425.5" cy="1749.1" r="3.4"/><circle cx="1435.7" cy="1749.1" r="3.4"/><circle cx="1445.9" cy="1749.1" r="3.4"/><circle cx="1456.1" cy="1749.1" r="3.4"/><circle cx="1466.3" cy="1776.7" r="3.4"/><circle cx="1476.5" cy="1780.7" r="3.4"/><circle cx="1486.7" cy="1781.6" r="3.4"/><circle cx="1496.9" cy="1782.6" r="3.4"/><circle cx="1507.1" cy="1783.6" r="3.4"/><circle cx="1517.3" cy="1784.6" r="3.4"/><circle cx="1527.5" cy="1751.1" r="3.4"/><circle cx="1537.7" cy="1758" r="3.4"/><circle cx="1547.9" cy="1749.1" r="3.4"/><circle cx="1558.1" cy="1746.2" r="3.4"/><circle cx="1568.3" cy="1747.2" r="3.4"/><circle cx="1578.5" cy="1745.2" r="3.4"/><circle cx="1588.7" cy="1781.5" r="3.4"/><circle cx="1598.9" cy="1784.8" r="3.4"/><circle cx="1609.1" cy="1781.4" r="3.4"/><circle cx="1619.3" cy="1785.3" r="3.4"/><circle cx="1629.5" cy="1783.3" r="3.4"/><circle cx="1639.7" cy="1781.4" r="3.4"/><circle cx="1649.9" cy="1784.6" r="3.4"/><circle cx="1660.1" cy="1786.7" r="3.4"/><circle cx="1670.3" cy="1787.5" r="3.4"/><circle cx="1680.5" cy="1784" r="3.4"/><circle cx="1690.7" cy="1786.1" r="3.4"/><circle cx="1700.9" cy="1785.5" r="3.4"/><circle cx="1711.1" cy="1785.2" r="3.4"/><circle cx="1721.3" cy="1786.9" r="3.4"/><circle cx="1731.5" cy="1787.5" r="3.4"/><circle cx="1741.7" cy="1788.6" r="3.4"/><circle cx="1751.9" cy="1791.9" r="3.4"/><circle cx="1762.1" cy="1789.8" r="3.4"/><circle cx="1772.3" cy="1787.8" r="3.4"/><circle cx="1782.5" cy="1788" r="3.4"/><circle cx="1792.7" cy="1787.3" r="3.4"/><circle cx="1802.9" cy="1788.2" r="3.4"/><circle cx="1813.1" cy="1787.8" r="3.4"/><circle cx="1823.3" cy="1787" r="3.4"/><circle cx="1833.5" cy="1789.6" r="3.4"/><circle cx="1843.7" cy="1788.7" r="3.4"/><circle cx="1853.9" cy="1790.7" r="3.4"/><circle cx="1864.1" cy="1787" r="3.4"/><circle cx="1874.3" cy="1788.4" r="3.4"/><circle cx="1884.5" cy="1787.8" r="3.4"/></g>
<polyline points="160.7,1810.2 170.9,1810 181.1,1809.3 191.3,1807.7 201.5,1807.7 211.7,1805.6 221.9,1807.1 232.1,1807.8 242.3,1806.3 262.7,1804.3 272.9,1804.9 283.1,1808.7 293.3,1805.4 303.5,1803.8 313.7,1805.8 323.9,1806.6 334.1,1805.3 344.3,1806.4 354.5,1804.7 364.7,1805.6 374.9,1803.5 385.1,1804.7 395.3,1806.5 405.5,1804.4 415.7,1803.9 425.9,1733.4 436.1,1724.5 446.3,1725.5 456.5,1720.6 466.7,1720.6 476.9,1721.5 487.1,1787.5 497.3,1791.5 507.5,1793.5 517.7,1792.5 527.9,1794.4 538.1,1794.4 548.3,1730.4 558.5,1724.5 568.7,1723.5 578.9,1717.6 599.3,1717.6 609.5,1781.6 619.7,1787.5 629.9,1787.5 640.1,1783.6 650.3,1788.5 660.5,1783.6 670.7,1717.6 680.9,1715.6 691.1,1715.6 701.3,1720.6 711.5,1712.7 721.7,1711.7 731.9,1776.7 742.1,1779.7 752.3,1779.7 762.5,1778.7 772.7,1778.7 782.9,1782.6 793.1,1719.7 803.3,1713.5 813.5,1714.1 823.7,1706.2 833.9,1708.3 844.1,1711 854.3,1774.4 874.7,1774 884.9,1777.3 895.1,1775.1 905.3,1778.6 915.5,1720.1 925.7,1710.6 935.9,1705.3 946.1,1705.3 956.3,1703.3 966.5,1706 976.7,1768.3 986.9,1773.6 997.1,1777.9 1007.3,1776.4 1017.5,1776 1027.7,1777.9 1037.9,1717.3 1048.1,1706.4 1058.3,1703.9 1068.5,1703.2 1078.7,1699.8 1088.9,1703.7 1099.1,1770.9 1109.3,1771.7 1119.5,1777.2 1129.7,1778.3 1139.9,1777.5 1150.1,1778.5 1160.3,1713.7 1180.7,1699.9 1201.1,1701.9 1211.3,1699.9 1221.5,1771.8 1231.7,1777.7 1241.9,1771.8 1252.1,1771.8 1262.3,1777.7 1272.5,1778.7 1282.7,1707.8 1292.9,1705.8 1303.1,1707.8 1313.3,1701.9 1323.5,1701.9 1333.7,1700.9 1343.9,1770.8 1364.3,1770.8 1374.5,1771.8 1384.7,1770.8 1394.9,1774.7 1405.1,1711.7 1415.3,1701.9 1425.5,1702.8 1435.7,1699.9 1445.9,1700.9 1456.1,1699.9 1466.3,1765.9 1476.5,1765.9 1486.7,1771.8 1496.9,1775.7 1507.1,1774.7 1517.3,1772.8 1527.5,1706.8 1537.7,1700.9 1547.9,1703.8 1568.3,1699.9 1578.5,1696.9 1588.7,1762.9 1609.1,1769.4 1619.3,1770.3 1629.5,1766.4 1639.7,1772.6 1649.9,1773.8 1660.1,1773.1 1670.3,1773.4 1680.5,1774.7 1690.7,1777 1700.9,1778 1711.1,1775.9 1721.3,1777.3 1731.5,1780.1 1741.7,1776.3 1751.9,1777.2 1762.1,1779 1772.3,1779.3 1782.5,1778.8 1802.9,1781.6 1813.1,1779.3 1823.3,1782.1 1833.5,1779.5 1843.7,1782.3 1853.9,1780.5 1864.1,1780.7 1874.3,1777.9 1884.5,1782.2" fill="none" stroke="#038003" stroke-width="2.8" stroke-linejoin="round" stroke-linecap="butt"/>
<g fill="#038003"><circle cx="160.7" cy="1810.2" r="3.4"/><circle cx="170.9" cy="1810" r="3.4"/><circle cx="181.1" cy="1809.3" r="3.4"/><circle cx="191.3" cy="1807.7" r="3.4"/><circle cx="201.5" cy="1807.7" r="3.4"/><circle cx="211.7" cy="1805.6" r="3.4"/><circle cx="221.9" cy="1807.1" r="3.4"/><circle cx="232.1" cy="1807.8" r="3.4"/><circle cx="242.3" cy="1806.3" r="3.4"/><circle cx="252.5" cy="1805.3" r="3.4"/><circle cx="262.7" cy="1804.3" r="3.4"/><circle cx="272.9" cy="1804.9" r="3.4"/><circle cx="283.1" cy="1808.7" r="3.4"/><circle cx="293.3" cy="1805.4" r="3.4"/><circle cx="303.5" cy="1803.8" r="3.4"/><circle cx="313.7" cy="1805.8" r="3.4"/><circle cx="323.9" cy="1806.6" r="3.4"/><circle cx="334.1" cy="1805.3" r="3.4"/><circle cx="344.3" cy="1806.4" r="3.4"/><circle cx="354.5" cy="1804.7" r="3.4"/><circle cx="364.7" cy="1805.6" r="3.4"/><circle cx="374.9" cy="1803.5" r="3.4"/><circle cx="385.1" cy="1804.7" r="3.4"/><circle cx="395.3" cy="1806.5" r="3.4"/><circle cx="405.5" cy="1804.4" r="3.4"/><circle cx="415.7" cy="1803.9" r="3.4"/><circle cx="425.9" cy="1733.4" r="3.4"/><circle cx="436.1" cy="1724.5" r="3.4"/><circle cx="446.3" cy="1725.5" r="3.4"/><circle cx="456.5" cy="1720.6" r="3.4"/><circle cx="466.7" cy="1720.6" r="3.4"/><circle cx="476.9" cy="1721.5" r="3.4"/><circle cx="487.1" cy="1787.5" r="3.4"/><circle cx="497.3" cy="1791.5" r="3.4"/><circle cx="507.5" cy="1793.5" r="3.4"/><circle cx="517.7" cy="1792.5" r="3.4"/><circle cx="527.9" cy="1794.4" r="3.4"/><circle cx="538.1" cy="1794.4" r="3.4"/><circle cx="548.3" cy="1730.4" r="3.4"/><circle cx="558.5" cy="1724.5" r="3.4"/><circle cx="568.7" cy="1723.5" r="3.4"/><circle cx="578.9" cy="1717.6" r="3.4"/><circle cx="589.1" cy="1717.6" r="3.4"/><circle cx="599.3" cy="1717.6" r="3.4"/><circle cx="609.5" cy="1781.6" r="3.4"/><circle cx="619.7" cy="1787.5" r="3.4"/><circle cx="629.9" cy="1787.5" r="3.4"/><circle cx="640.1" cy="1783.6" r="3.4"/><circle cx="650.3" cy="1788.5" r="3.4"/><circle cx="660.5" cy="1783.6" r="3.4"/><circle cx="670.7" cy="1717.6" r="3.4"/><circle cx="680.9" cy="1715.6" r="3.4"/><circle cx="691.1" cy="1715.6" r="3.4"/><circle cx="701.3" cy="1720.6" r="3.4"/><circle cx="711.5" cy="1712.7" r="3.4"/><circle cx="721.7" cy="1711.7" r="3.4"/><circle cx="731.9" cy="1776.7" r="3.4"/><circle cx="742.1" cy="1779.7" r="3.4"/><circle cx="752.3" cy="1779.7" r="3.4"/><circle cx="762.5" cy="1778.7" r="3.4"/><circle cx="772.7" cy="1778.7" r="3.4"/><circle cx="782.9" cy="1782.6" r="3.4"/><circle cx="793.1" cy="1719.7" r="3.4"/><circle cx="803.3" cy="1713.5" r="3.4"/><circle cx="813.5" cy="1714.1" r="3.4"/><circle cx="823.7" cy="1706.2" r="3.4"/><circle cx="833.9" cy="1708.3" r="3.4"/><circle cx="844.1" cy="1711" r="3.4"/><circle cx="854.3" cy="1774.4" r="3.4"/><circle cx="864.5" cy="1774.2" r="3.4"/><circle cx="874.7" cy="1774" r="3.4"/><circle cx="884.9" cy="1777.3" r="3.4"/><circle cx="895.1" cy="1775.1" r="3.4"/><circle cx="905.3" cy="1778.6" r="3.4"/><circle cx="915.5" cy="1720.1" r="3.4"/><circle cx="925.7" cy="1710.6" r="3.4"/><circle cx="935.9" cy="1705.3" r="3.4"/><circle cx="946.1" cy="1705.3" r="3.4"/><circle cx="956.3" cy="1703.3" r="3.4"/><circle cx="966.5" cy="1706" r="3.4"/><circle cx="976.7" cy="1768.3" r="3.4"/><circle cx="986.9" cy="1773.6" r="3.4"/><circle cx="997.1" cy="1777.9" r="3.4"/><circle cx="1007.3" cy="1776.4" r="3.4"/><circle cx="1017.5" cy="1776" r="3.4"/><circle cx="1027.7" cy="1777.9" r="3.4"/><circle cx="1037.9" cy="1717.3" r="3.4"/><circle cx="1048.1" cy="1706.4" r="3.4"/><circle cx="1058.3" cy="1703.9" r="3.4"/><circle cx="1068.5" cy="1703.2" r="3.4"/><circle cx="1078.7" cy="1699.8" r="3.4"/><circle cx="1088.9" cy="1703.7" r="3.4"/><circle cx="1099.1" cy="1770.9" r="3.4"/><circle cx="1109.3" cy="1771.7" r="3.4"/><circle cx="1119.5" cy="1777.2" r="3.4"/><circle cx="1129.7" cy="1778.3" r="3.4"/><circle cx="1139.9" cy="1777.5" r="3.4"/><circle cx="1150.1" cy="1778.5" r="3.4"/><circle cx="1160.3" cy="1713.7" r="3.4"/><circle cx="1170.5" cy="1706.8" r="3.4"/><circle cx="1180.7" cy="1699.9" r="3.4"/><circle cx="1190.9" cy="1700.9" r="3.4"/><circle cx="1201.1" cy="1701.9" r="3.4"/><circle cx="1211.3" cy="1699.9" r="3.4"/><circle cx="1221.5" cy="1771.8" r="3.4"/><circle cx="1231.7" cy="1777.7" r="3.4"/><circle cx="1241.9" cy="1771.8" r="3.4"/><circle cx="1252.1" cy="1771.8" r="3.4"/><circle cx="1262.3" cy="1777.7" r="3.4"/><circle cx="1272.5" cy="1778.7" r="3.4"/><circle cx="1282.7" cy="1707.8" r="3.4"/><circle cx="1292.9" cy="1705.8" r="3.4"/><circle cx="1303.1" cy="1707.8" r="3.4"/><circle cx="1313.3" cy="1701.9" r="3.4"/><circle cx="1323.5" cy="1701.9" r="3.4"/><circle cx="1333.7" cy="1700.9" r="3.4"/><circle cx="1343.9" cy="1770.8" r="3.4"/><circle cx="1354.1" cy="1770.8" r="3.4"/><circle cx="1364.3" cy="1770.8" r="3.4"/><circle cx="1374.5" cy="1771.8" r="3.4"/><circle cx="1384.7" cy="1770.8" r="3.4"/><circle cx="1394.9" cy="1774.7" r="3.4"/><circle cx="1405.1" cy="1711.7" r="3.4"/><circle cx="1415.3" cy="1701.9" r="3.4"/><circle cx="1425.5" cy="1702.8" r="3.4"/><circle cx="1435.7" cy="1699.9" r="3.4"/><circle cx="1445.9" cy="1700.9" r="3.4"/><circle cx="1456.1" cy="1699.9" r="3.4"/><circle cx="1466.3" cy="1765.9" r="3.4"/><circle cx="1476.5" cy="1765.9" r="3.4"/><circle cx="1486.7" cy="1771.8" r="3.4"/><circle cx="1496.9" cy="1775.7" r="3.4"/><circle cx="1507.1" cy="1774.7" r="3.4"/><circle cx="1517.3" cy="1772.8" r="3.4"/><circle cx="1527.5" cy="1706.8" r="3.4"/><circle cx="1537.7" cy="1700.9" r="3.4"/><circle cx="1547.9" cy="1703.8" r="3.4"/><circle cx="1558.1" cy="1701.9" r="3.4"/><circle cx="1568.3" cy="1699.9" r="3.4"/><circle cx="1578.5" cy="1696.9" r="3.4"/><circle cx="1588.7" cy="1762.9" r="3.4"/><circle cx="1598.9" cy="1766.1" r="3.4"/><circle cx="1609.1" cy="1769.4" r="3.4"/><circle cx="1619.3" cy="1770.3" r="3.4"/><circle cx="1629.5" cy="1766.4" r="3.4"/><circle cx="1639.7" cy="1772.6" r="3.4"/><circle cx="1649.9" cy="1773.8" r="3.4"/><circle cx="1660.1" cy="1773.1" r="3.4"/><circle cx="1670.3" cy="1773.4" r="3.4"/><circle cx="1680.5" cy="1774.7" r="3.4"/><circle cx="1690.7" cy="1777" r="3.4"/><circle cx="1700.9" cy="1778" r="3.4"/><circle cx="1711.1" cy="1775.9" r="3.4"/><circle cx="1721.3" cy="1777.3" r="3.4"/><circle cx="1731.5" cy="1780.1" r="3.4"/><circle cx="1741.7" cy="1776.3" r="3.4"/><circle cx="1751.9" cy="1777.2" r="3.4"/><circle cx="1762.1" cy="1779" r="3.4"/><circle cx="1772.3" cy="1779.3" r="3.4"/><circle cx="1782.5" cy="1778.8" r="3.4"/><circle cx="1792.7" cy="1780.4" r="3.4"/><circle cx="1802.9" cy="1781.6" r="3.4"/><circle cx="1813.1" cy="1779.3" r="3.4"/><circle cx="1823.3" cy="1782.1" r="3.4"/><circle cx="1833.5" cy="1779.5" r="3.4"/><circle cx="1843.7" cy="1782.3" r="3.4"/><circle cx="1853.9" cy="1780.5" r="3.4"/><circle cx="1864.1" cy="1780.7" r="3.4"/><circle cx="1874.3" cy="1777.9" r="3.4"/><circle cx="1884.5" cy="1782.2" r="3.4"/></g>
<polyline points="160.7,1810.2 170.9,1808 181.1,1810.1 201.5,1804.5 211.7,1808.7 221.9,1804.9 232.1,1803.9 242.3,1806.5 252.5,1804.6 262.7,1806.9 283.1,1806.4 293.3,1804.9 303.5,1805.2 313.7,1803.6 323.9,1806.3 334.1,1805.1 344.3,1803.4 354.5,1803.9 364.7,1806.6 374.9,1803.6 385.1,1805.2 395.3,1803.9 405.5,1803.9 415.7,1802.5 425.9,1681.2 446.3,1669.3 456.5,1665.4 466.7,1665.4 476.9,1656.5 487.1,1775.7 497.3,1777.7 507.5,1777.7 517.7,1778.7 527.9,1777.7 538.1,1780.7 548.3,1672.3 558.5,1662.5 568.7,1658.5 578.9,1663.4 589.1,1654.6 599.3,1654.6 609.5,1761.9 619.7,1766.9 629.9,1770.8 640.1,1769.8 650.3,1770.8 660.5,1769.8 670.7,1662.5 680.9,1653.6 691.1,1645.7 701.3,1645.7 711.5,1637.8 721.7,1638.8 731.9,1754.1 742.1,1762.9 752.3,1761 762.5,1762.9 772.7,1765.9 782.9,1766.9 793.1,1655.3 813.5,1641.3 823.7,1633.7 833.9,1633.6 844.1,1629.7 854.3,1749.3 864.5,1754.6 874.7,1756 884.9,1755.7 895.1,1757.2 905.3,1756.8 915.5,1645.2 925.7,1638.2 935.9,1629.5 956.3,1631 966.5,1621.9 976.7,1743.9 997.1,1750.9 1007.3,1750.8 1017.5,1749.9 1027.7,1751.5 1037.9,1643.6 1048.1,1631.4 1058.3,1626.7 1068.5,1625.9 1078.7,1628.1 1088.9,1622 1099.1,1740.5 1109.3,1745.1 1119.5,1746.6 1129.7,1746.5 1139.9,1747.2 1150.1,1746.3 1160.3,1633.9 1170.5,1628 1180.7,1625 1190.9,1620.1 1201.1,1620.1 1211.3,1616.2 1221.5,1731.4 1231.7,1736.3 1241.9,1739.3 1252.1,1743.2 1262.3,1739.3 1272.5,1737.3 1282.7,1631.9 1292.9,1626 1303.1,1617.1 1333.7,1608.3 1343.9,1728.4 1354.1,1737.3 1364.3,1733.4 1374.5,1738.3 1384.7,1735.3 1394.9,1735.3 1405.1,1629.9 1415.3,1620.1 1425.5,1617.1 1435.7,1615.2 1445.9,1614.2 1456.1,1615.2 1466.3,1724.5 1486.7,1730.4 1496.9,1731.4 1517.3,1731.4 1527.5,1629 1537.7,1620.1 1547.9,1618.1 1558.1,1615.2 1568.3,1613.2 1578.5,1610.2 1588.7,1724.2 1598.9,1722.7 1609.1,1727.9 1619.3,1729.2 1629.5,1731.9 1639.7,1730.9 1649.9,1730.5 1660.1,1734.1 1680.5,1732.6 1690.7,1734.9 1700.9,1736.2 1711.1,1733.7 1721.3,1735.9 1731.5,1735.7 1741.7,1734.5 1751.9,1734.9 1762.1,1738.1 1772.3,1738.7 1782.5,1737.3 1792.7,1738.3 1802.9,1742 1813.1,1735.9 1823.3,1738.6 1833.5,1737.3 1843.7,1741.2 1853.9,1736.4 1864.1,1740.3 1874.3,1739.4 1884.5,1742" fill="none" stroke="#24479b" stroke-width="2.8" stroke-linejoin="round" stroke-linecap="butt"/>
<g fill="#24479b"><circle cx="160.7" cy="1810.2" r="3.4"/><circle cx="170.9" cy="1808" r="3.4"/><circle cx="181.1" cy="1810.1" r="3.4"/><circle cx="191.3" cy="1807.4" r="3.4"/><circle cx="201.5" cy="1804.5" r="3.4"/><circle cx="211.7" cy="1808.7" r="3.4"/><circle cx="221.9" cy="1804.9" r="3.4"/><circle cx="232.1" cy="1803.9" r="3.4"/><circle cx="242.3" cy="1806.5" r="3.4"/><circle cx="252.5" cy="1804.6" r="3.4"/><circle cx="262.7" cy="1806.9" r="3.4"/><circle cx="272.9" cy="1806.5" r="3.4"/><circle cx="283.1" cy="1806.4" r="3.4"/><circle cx="293.3" cy="1804.9" r="3.4"/><circle cx="303.5" cy="1805.2" r="3.4"/><circle cx="313.7" cy="1803.6" r="3.4"/><circle cx="323.9" cy="1806.3" r="3.4"/><circle cx="334.1" cy="1805.1" r="3.4"/><circle cx="344.3" cy="1803.4" r="3.4"/><circle cx="354.5" cy="1803.9" r="3.4"/><circle cx="364.7" cy="1806.6" r="3.4"/><circle cx="374.9" cy="1803.6" r="3.4"/><circle cx="385.1" cy="1805.2" r="3.4"/><circle cx="395.3" cy="1803.9" r="3.4"/><circle cx="405.5" cy="1803.9" r="3.4"/><circle cx="415.7" cy="1802.5" r="3.4"/><circle cx="425.9" cy="1681.2" r="3.4"/><circle cx="436.1" cy="1675.3" r="3.4"/><circle cx="446.3" cy="1669.3" r="3.4"/><circle cx="456.5" cy="1665.4" r="3.4"/><circle cx="466.7" cy="1665.4" r="3.4"/><circle cx="476.9" cy="1656.5" r="3.4"/><circle cx="487.1" cy="1775.7" r="3.4"/><circle cx="497.3" cy="1777.7" r="3.4"/><circle cx="507.5" cy="1777.7" r="3.4"/><circle cx="517.7" cy="1778.7" r="3.4"/><circle cx="527.9" cy="1777.7" r="3.4"/><circle cx="538.1" cy="1780.7" r="3.4"/><circle cx="548.3" cy="1672.3" r="3.4"/><circle cx="558.5" cy="1662.5" r="3.4"/><circle cx="568.7" cy="1658.5" r="3.4"/><circle cx="578.9" cy="1663.4" r="3.4"/><circle cx="589.1" cy="1654.6" r="3.4"/><circle cx="599.3" cy="1654.6" r="3.4"/><circle cx="609.5" cy="1761.9" r="3.4"/><circle cx="619.7" cy="1766.9" r="3.4"/><circle cx="629.9" cy="1770.8" r="3.4"/><circle cx="640.1" cy="1769.8" r="3.4"/><circle cx="650.3" cy="1770.8" r="3.4"/><circle cx="660.5" cy="1769.8" r="3.4"/><circle cx="670.7" cy="1662.5" r="3.4"/><circle cx="680.9" cy="1653.6" r="3.4"/><circle cx="691.1" cy="1645.7" r="3.4"/><circle cx="701.3" cy="1645.7" r="3.4"/><circle cx="711.5" cy="1637.8" r="3.4"/><circle cx="721.7" cy="1638.8" r="3.4"/><circle cx="731.9" cy="1754.1" r="3.4"/><circle cx="742.1" cy="1762.9" r="3.4"/><circle cx="752.3" cy="1761" r="3.4"/><circle cx="762.5" cy="1762.9" r="3.4"/><circle cx="772.7" cy="1765.9" r="3.4"/><circle cx="782.9" cy="1766.9" r="3.4"/><circle cx="793.1" cy="1655.3" r="3.4"/><circle cx="803.3" cy="1648.5" r="3.4"/><circle cx="813.5" cy="1641.3" r="3.4"/><circle cx="823.7" cy="1633.7" r="3.4"/><circle cx="833.9" cy="1633.6" r="3.4"/><circle cx="844.1" cy="1629.7" r="3.4"/><circle cx="854.3" cy="1749.3" r="3.4"/><circle cx="864.5" cy="1754.6" r="3.4"/><circle cx="874.7" cy="1756" r="3.4"/><circle cx="884.9" cy="1755.7" r="3.4"/><circle cx="895.1" cy="1757.2" r="3.4"/><circle cx="905.3" cy="1756.8" r="3.4"/><circle cx="915.5" cy="1645.2" r="3.4"/><circle cx="925.7" cy="1638.2" r="3.4"/><circle cx="935.9" cy="1629.5" r="3.4"/><circle cx="946.1" cy="1630.3" r="3.4"/><circle cx="956.3" cy="1631" r="3.4"/><circle cx="966.5" cy="1621.9" r="3.4"/><circle cx="976.7" cy="1743.9" r="3.4"/><circle cx="986.9" cy="1747.5" r="3.4"/><circle cx="997.1" cy="1750.9" r="3.4"/><circle cx="1007.3" cy="1750.8" r="3.4"/><circle cx="1017.5" cy="1749.9" r="3.4"/><circle cx="1027.7" cy="1751.5" r="3.4"/><circle cx="1037.9" cy="1643.6" r="3.4"/><circle cx="1048.1" cy="1631.4" r="3.4"/><circle cx="1058.3" cy="1626.7" r="3.4"/><circle cx="1068.5" cy="1625.9" r="3.4"/><circle cx="1078.7" cy="1628.1" r="3.4"/><circle cx="1088.9" cy="1622" r="3.4"/><circle cx="1099.1" cy="1740.5" r="3.4"/><circle cx="1109.3" cy="1745.1" r="3.4"/><circle cx="1119.5" cy="1746.6" r="3.4"/><circle cx="1129.7" cy="1746.5" r="3.4"/><circle cx="1139.9" cy="1747.2" r="3.4"/><circle cx="1150.1" cy="1746.3" r="3.4"/><circle cx="1160.3" cy="1633.9" r="3.4"/><circle cx="1170.5" cy="1628" r="3.4"/><circle cx="1180.7" cy="1625" r="3.4"/><circle cx="1190.9" cy="1620.1" r="3.4"/><circle cx="1201.1" cy="1620.1" r="3.4"/><circle cx="1211.3" cy="1616.2" r="3.4"/><circle cx="1221.5" cy="1731.4" r="3.4"/><circle cx="1231.7" cy="1736.3" r="3.4"/><circle cx="1241.9" cy="1739.3" r="3.4"/><circle cx="1252.1" cy="1743.2" r="3.4"/><circle cx="1262.3" cy="1739.3" r="3.4"/><circle cx="1272.5" cy="1737.3" r="3.4"/><circle cx="1282.7" cy="1631.9" r="3.4"/><circle cx="1292.9" cy="1626" r="3.4"/><circle cx="1303.1" cy="1617.1" r="3.4"/><circle cx="1313.3" cy="1614.2" r="3.4"/><circle cx="1323.5" cy="1611.2" r="3.4"/><circle cx="1333.7" cy="1608.3" r="3.4"/><circle cx="1343.9" cy="1728.4" r="3.4"/><circle cx="1354.1" cy="1737.3" r="3.4"/><circle cx="1364.3" cy="1733.4" r="3.4"/><circle cx="1374.5" cy="1738.3" r="3.4"/><circle cx="1384.7" cy="1735.3" r="3.4"/><circle cx="1394.9" cy="1735.3" r="3.4"/><circle cx="1405.1" cy="1629.9" r="3.4"/><circle cx="1415.3" cy="1620.1" r="3.4"/><circle cx="1425.5" cy="1617.1" r="3.4"/><circle cx="1435.7" cy="1615.2" r="3.4"/><circle cx="1445.9" cy="1614.2" r="3.4"/><circle cx="1456.1" cy="1615.2" r="3.4"/><circle cx="1466.3" cy="1724.5" r="3.4"/><circle cx="1476.5" cy="1727.5" r="3.4"/><circle cx="1486.7" cy="1730.4" r="3.4"/><circle cx="1496.9" cy="1731.4" r="3.4"/><circle cx="1507.1" cy="1731.4" r="3.4"/><circle cx="1517.3" cy="1731.4" r="3.4"/><circle cx="1527.5" cy="1629" r="3.4"/><circle cx="1537.7" cy="1620.1" r="3.4"/><circle cx="1547.9" cy="1618.1" r="3.4"/><circle cx="1558.1" cy="1615.2" r="3.4"/><circle cx="1568.3" cy="1613.2" r="3.4"/><circle cx="1578.5" cy="1610.2" r="3.4"/><circle cx="1588.7" cy="1724.2" r="3.4"/><circle cx="1598.9" cy="1722.7" r="3.4"/><circle cx="1609.1" cy="1727.9" r="3.4"/><circle cx="1619.3" cy="1729.2" r="3.4"/><circle cx="1629.5" cy="1731.9" r="3.4"/><circle cx="1639.7" cy="1730.9" r="3.4"/><circle cx="1649.9" cy="1730.5" r="3.4"/><circle cx="1660.1" cy="1734.1" r="3.4"/><circle cx="1670.3" cy="1733.5" r="3.4"/><circle cx="1680.5" cy="1732.6" r="3.4"/><circle cx="1690.7" cy="1734.9" r="3.4"/><circle cx="1700.9" cy="1736.2" r="3.4"/><circle cx="1711.1" cy="1733.7" r="3.4"/><circle cx="1721.3" cy="1735.9" r="3.4"/><circle cx="1731.5" cy="1735.7" r="3.4"/><circle cx="1741.7" cy="1734.5" r="3.4"/><circle cx="1751.9" cy="1734.9" r="3.4"/><circle cx="1762.1" cy="1738.1" r="3.4"/><circle cx="1772.3" cy="1738.7" r="3.4"/><circle cx="1782.5" cy="1737.3" r="3.4"/><circle cx="1792.7" cy="1738.3" r="3.4"/><circle cx="1802.9" cy="1742" r="3.4"/><circle cx="1813.1" cy="1735.9" r="3.4"/><circle cx="1823.3" cy="1738.6" r="3.4"/><circle cx="1833.5" cy="1737.3" r="3.4"/><circle cx="1843.7" cy="1741.2" r="3.4"/><circle cx="1853.9" cy="1736.4" r="3.4"/><circle cx="1864.1" cy="1740.3" r="3.4"/><circle cx="1874.3" cy="1739.4" r="3.4"/><circle cx="1884.5" cy="1742" r="3.4"/></g>
<polyline points="160.7,1810.2 170.9,1810.5 181.1,1808 191.3,1808 201.5,1802.6 211.7,1803.8 232.1,1799.6 242.3,1799.4 252.5,1801.8 272.9,1800.1 283.1,1801.3 293.3,1803.6 303.5,1799.8 313.7,1799.3 323.9,1799.9 334.1,1801.8 344.3,1800.6 354.5,1801 364.7,1800.5 374.9,1798 385.1,1797.5 395.3,1798.6 415.7,1798.4 425.9,1706.8 436.1,1675.3 446.3,1653.6 456.5,1629 476.9,1603.3 487.1,1776.7 497.3,1777.7 527.9,1777.7 538.1,1775.7 548.3,1596.5 558.5,1582.7 568.7,1578.7 578.9,1568.9 589.1,1565.9 599.3,1560 609.5,1744.2 619.7,1745.2 629.9,1749.1 640.1,1750.1 650.3,1747.2 660.5,1749.1 670.7,1577.7 680.9,1565.9 691.1,1558 701.3,1553.1 711.5,1546.2 721.7,1543.3 731.9,1735.3 742.1,1736.3 752.3,1738.3 762.5,1743.2 772.7,1743.2 782.9,1738.3 793.1,1569.9 803.3,1550.3 813.5,1540.2 823.7,1532.5 833.9,1524.2 844.1,1524.8 854.3,1723 864.5,1726.6 874.7,1727.7 884.9,1729.6 895.1,1732.9 905.3,1731.1 915.5,1544.9 925.7,1533.5 946.1,1521.4 956.3,1519.1 966.5,1521.5 976.7,1716.6 986.9,1723.2 997.1,1726.6 1007.3,1724.6 1017.5,1728.6 1027.7,1729.7 1037.9,1543.3 1058.3,1518.9 1068.5,1516.7 1078.7,1510.9 1088.9,1513.6 1099.1,1710.8 1109.3,1719.5 1119.5,1723.8 1129.7,1724.7 1139.9,1726.2 1150.1,1726.9 1160.3,1538.3 1170.5,1527.5 1180.7,1526.5 1190.9,1514.7 1201.1,1514.7 1211.3,1512.7 1221.5,1701.9 1231.7,1713.7 1241.9,1715.6 1252.1,1714.7 1262.3,1725.5 1272.5,1725.5 1282.7,1536.4 1292.9,1525.5 1303.1,1520.6 1313.3,1518.6 1323.5,1510.8 1333.7,1504.8 1343.9,1699.9 1354.1,1706.8 1364.3,1709.7 1374.5,1714.7 1384.7,1716.6 1394.9,1714.7 1405.1,1526.5 1415.3,1521.6 1425.5,1515.7 1435.7,1512.7 1445.9,1510.8 1456.1,1505.8 1466.3,1695 1476.5,1697.9 1486.7,1712.7 1496.9,1717.6 1507.1,1715.6 1517.3,1722.5 1527.5,1533.4 1537.7,1514.7 1547.9,1512.7 1558.1,1505.8 1568.3,1502.9 1578.5,1498.9 1588.7,1714.7 1609.1,1722.8 1619.3,1724.4 1629.5,1726.6 1639.7,1726.9 1649.9,1730.9 1660.1,1733.8 1670.3,1731.2 1680.5,1735.1 1690.7,1737.3 1700.9,1733.6 1711.1,1736.6 1721.3,1734.9 1731.5,1737.6 1741.7,1739.3 1751.9,1740.1 1762.1,1739.1 1772.3,1739.1 1782.5,1740.5 1792.7,1739.8 1802.9,1742.6 1813.1,1739.8 1823.3,1743.6 1833.5,1740.7 1843.7,1739.2 1853.9,1738.6 1864.1,1737.6 1874.3,1744.2 1884.5,1739.8" fill="none" stroke="#850085" stroke-width="2.8" stroke-linejoin="round" stroke-linecap="butt"/>
<g fill="#850085"><circle cx="160.7" cy="1810.2" r="3.4"/><circle cx="170.9" cy="1810.5" r="3.4"/><circle cx="181.1" cy="1808" r="3.4"/><circle cx="191.3" cy="1808" r="3.4"/><circle cx="201.5" cy="1802.6" r="3.4"/><circle cx="211.7" cy="1803.8" r="3.4"/><circle cx="221.9" cy="1801.7" r="3.4"/><circle cx="232.1" cy="1799.6" r="3.4"/><circle cx="242.3" cy="1799.4" r="3.4"/><circle cx="252.5" cy="1801.8" r="3.4"/><circle cx="262.7" cy="1800.8" r="3.4"/><circle cx="272.9" cy="1800.1" r="3.4"/><circle cx="283.1" cy="1801.3" r="3.4"/><circle cx="293.3" cy="1803.6" r="3.4"/><circle cx="303.5" cy="1799.8" r="3.4"/><circle cx="313.7" cy="1799.3" r="3.4"/><circle cx="323.9" cy="1799.9" r="3.4"/><circle cx="334.1" cy="1801.8" r="3.4"/><circle cx="344.3" cy="1800.6" r="3.4"/><circle cx="354.5" cy="1801" r="3.4"/><circle cx="364.7" cy="1800.5" r="3.4"/><circle cx="374.9" cy="1798" r="3.4"/><circle cx="385.1" cy="1797.5" r="3.4"/><circle cx="395.3" cy="1798.6" r="3.4"/><circle cx="405.5" cy="1798.7" r="3.4"/><circle cx="415.7" cy="1798.4" r="3.4"/><circle cx="425.9" cy="1706.8" r="3.4"/><circle cx="436.1" cy="1675.3" r="3.4"/><circle cx="446.3" cy="1653.6" r="3.4"/><circle cx="456.5" cy="1629" r="3.4"/><circle cx="466.7" cy="1616.2" r="3.4"/><circle cx="476.9" cy="1603.3" r="3.4"/><circle cx="487.1" cy="1776.7" r="3.4"/><circle cx="497.3" cy="1777.7" r="3.4"/><circle cx="507.5" cy="1777.7" r="3.4"/><circle cx="517.7" cy="1777.7" r="3.4"/><circle cx="527.9" cy="1777.7" r="3.4"/><circle cx="538.1" cy="1775.7" r="3.4"/><circle cx="548.3" cy="1596.5" r="3.4"/><circle cx="558.5" cy="1582.7" r="3.4"/><circle cx="568.7" cy="1578.7" r="3.4"/><circle cx="578.9" cy="1568.9" r="3.4"/><circle cx="589.1" cy="1565.9" r="3.4"/><circle cx="599.3" cy="1560" r="3.4"/><circle cx="609.5" cy="1744.2" r="3.4"/><circle cx="619.7" cy="1745.2" r="3.4"/><circle cx="629.9" cy="1749.1" r="3.4"/><circle cx="640.1" cy="1750.1" r="3.4"/><circle cx="650.3" cy="1747.2" r="3.4"/><circle cx="660.5" cy="1749.1" r="3.4"/><circle cx="670.7" cy="1577.7" r="3.4"/><circle cx="680.9" cy="1565.9" r="3.4"/><circle cx="691.1" cy="1558" r="3.4"/><circle cx="701.3" cy="1553.1" r="3.4"/><circle cx="711.5" cy="1546.2" r="3.4"/><circle cx="721.7" cy="1543.3" r="3.4"/><circle cx="731.9" cy="1735.3" r="3.4"/><circle cx="742.1" cy="1736.3" r="3.4"/><circle cx="752.3" cy="1738.3" r="3.4"/><circle cx="762.5" cy="1743.2" r="3.4"/><circle cx="772.7" cy="1743.2" r="3.4"/><circle cx="782.9" cy="1738.3" r="3.4"/><circle cx="793.1" cy="1569.9" r="3.4"/><circle cx="803.3" cy="1550.3" r="3.4"/><circle cx="813.5" cy="1540.2" r="3.4"/><circle cx="823.7" cy="1532.5" r="3.4"/><circle cx="833.9" cy="1524.2" r="3.4"/><circle cx="844.1" cy="1524.8" r="3.4"/><circle cx="854.3" cy="1723" r="3.4"/><circle cx="864.5" cy="1726.6" r="3.4"/><circle cx="874.7" cy="1727.7" r="3.4"/><circle cx="884.9" cy="1729.6" r="3.4"/><circle cx="895.1" cy="1732.9" r="3.4"/><circle cx="905.3" cy="1731.1" r="3.4"/><circle cx="915.5" cy="1544.9" r="3.4"/><circle cx="925.7" cy="1533.5" r="3.4"/><circle cx="935.9" cy="1527.6" r="3.4"/><circle cx="946.1" cy="1521.4" r="3.4"/><circle cx="956.3" cy="1519.1" r="3.4"/><circle cx="966.5" cy="1521.5" r="3.4"/><circle cx="976.7" cy="1716.6" r="3.4"/><circle cx="986.9" cy="1723.2" r="3.4"/><circle cx="997.1" cy="1726.6" r="3.4"/><circle cx="1007.3" cy="1724.6" r="3.4"/><circle cx="1017.5" cy="1728.6" r="3.4"/><circle cx="1027.7" cy="1729.7" r="3.4"/><circle cx="1037.9" cy="1543.3" r="3.4"/><circle cx="1048.1" cy="1531" r="3.4"/><circle cx="1058.3" cy="1518.9" r="3.4"/><circle cx="1068.5" cy="1516.7" r="3.4"/><circle cx="1078.7" cy="1510.9" r="3.4"/><circle cx="1088.9" cy="1513.6" r="3.4"/><circle cx="1099.1" cy="1710.8" r="3.4"/><circle cx="1109.3" cy="1719.5" r="3.4"/><circle cx="1119.5" cy="1723.8" r="3.4"/><circle cx="1129.7" cy="1724.7" r="3.4"/><circle cx="1139.9" cy="1726.2" r="3.4"/><circle cx="1150.1" cy="1726.9" r="3.4"/><circle cx="1160.3" cy="1538.3" r="3.4"/><circle cx="1170.5" cy="1527.5" r="3.4"/><circle cx="1180.7" cy="1526.5" r="3.4"/><circle cx="1190.9" cy="1514.7" r="3.4"/><circle cx="1201.1" cy="1514.7" r="3.4"/><circle cx="1211.3" cy="1512.7" r="3.4"/><circle cx="1221.5" cy="1701.9" r="3.4"/><circle cx="1231.7" cy="1713.7" r="3.4"/><circle cx="1241.9" cy="1715.6" r="3.4"/><circle cx="1252.1" cy="1714.7" r="3.4"/><circle cx="1262.3" cy="1725.5" r="3.4"/><circle cx="1272.5" cy="1725.5" r="3.4"/><circle cx="1282.7" cy="1536.4" r="3.4"/><circle cx="1292.9" cy="1525.5" r="3.4"/><circle cx="1303.1" cy="1520.6" r="3.4"/><circle cx="1313.3" cy="1518.6" r="3.4"/><circle cx="1323.5" cy="1510.8" r="3.4"/><circle cx="1333.7" cy="1504.8" r="3.4"/><circle cx="1343.9" cy="1699.9" r="3.4"/><circle cx="1354.1" cy="1706.8" r="3.4"/><circle cx="1364.3" cy="1709.7" r="3.4"/><circle cx="1374.5" cy="1714.7" r="3.4"/><circle cx="1384.7" cy="1716.6" r="3.4"/><circle cx="1394.9" cy="1714.7" r="3.4"/><circle cx="1405.1" cy="1526.5" r="3.4"/><circle cx="1415.3" cy="1521.6" r="3.4"/><circle cx="1425.5" cy="1515.7" r="3.4"/><circle cx="1435.7" cy="1512.7" r="3.4"/><circle cx="1445.9" cy="1510.8" r="3.4"/><circle cx="1456.1" cy="1505.8" r="3.4"/><circle cx="1466.3" cy="1695" r="3.4"/><circle cx="1476.5" cy="1697.9" r="3.4"/><circle cx="1486.7" cy="1712.7" r="3.4"/><circle cx="1496.9" cy="1717.6" r="3.4"/><circle cx="1507.1" cy="1715.6" r="3.4"/><circle cx="1517.3" cy="1722.5" r="3.4"/><circle cx="1527.5" cy="1533.4" r="3.4"/><circle cx="1537.7" cy="1514.7" r="3.4"/><circle cx="1547.9" cy="1512.7" r="3.4"/><circle cx="1558.1" cy="1505.8" r="3.4"/><circle cx="1568.3" cy="1502.9" r="3.4"/><circle cx="1578.5" cy="1498.9" r="3.4"/><circle cx="1588.7" cy="1714.7" r="3.4"/><circle cx="1598.9" cy="1718.7" r="3.4"/><circle cx="1609.1" cy="1722.8" r="3.4"/><circle cx="1619.3" cy="1724.4" r="3.4"/><circle cx="1629.5" cy="1726.6" r="3.4"/><circle cx="1639.7" cy="1726.9" r="3.4"/><circle cx="1649.9" cy="1730.9" r="3.4"/><circle cx="1660.1" cy="1733.8" r="3.4"/><circle cx="1670.3" cy="1731.2" r="3.4"/><circle cx="1680.5" cy="1735.1" r="3.4"/><circle cx="1690.7" cy="1737.3" r="3.4"/><circle cx="1700.9" cy="1733.6" r="3.4"/><circle cx="1711.1" cy="1736.6" r="3.4"/><circle cx="1721.3" cy="1734.9" r="3.4"/><circle cx="1731.5" cy="1737.6" r="3.4"/><circle cx="1741.7" cy="1739.3" r="3.4"/><circle cx="1751.9" cy="1740.1" r="3.4"/><circle cx="1762.1" cy="1739.1" r="3.4"/><circle cx="1772.3" cy="1739.1" r="3.4"/><circle cx="1782.5" cy="1740.5" r="3.4"/><circle cx="1792.7" cy="1739.8" r="3.4"/><circle cx="1802.9" cy="1742.6" r="3.4"/><circle cx="1813.1" cy="1739.8" r="3.4"/><circle cx="1823.3" cy="1743.6" r="3.4"/><circle cx="1833.5" cy="1740.7" r="3.4"/><circle cx="1843.7" cy="1739.2" r="3.4"/><circle cx="1853.9" cy="1738.6" r="3.4"/><circle cx="1864.1" cy="1737.6" r="3.4"/><circle cx="1874.3" cy="1744.2" r="3.4"/><circle cx="1884.5" cy="1739.8" r="3.4"/></g>
<polyline points="160.7,1810.2 181.1,1806.3 191.3,1810.2 201.5,1807.2 211.7,1805.3 221.9,1808.2 232.1,1812.2 242.3,1806.3 252.5,1807.2 262.7,1805.3 272.9,1808.2 283.1,1810.2 293.3,1807.2 303.5,1805.3 313.7,1806.3 323.9,1804.3 334.1,1808.2 344.3,1807.2 354.5,1805.3 364.7,1809.2 374.9,1806.3 385.1,1804.3 395.3,1807.2 405.5,1809.2 415.7,1813.2 425.9,1571.8 436.1,1536.4 446.3,1524.6 456.5,1514.7 466.7,1507.8 476.9,1499.9 487.1,1765.9 497.3,1778.7 507.5,1782.6 527.9,1782.6 538.1,1787.5 548.3,1580.7 558.5,1534.4 568.7,1519.6 578.9,1500.9 589.1,1487.1 599.3,1485.2 609.5,1752.1 619.7,1756 629.9,1766.9 640.1,1766.9 650.3,1769.8 660.5,1769.8 670.7,1515.7 680.9,1484.2 691.1,1471.4 701.3,1472.3 711.5,1462.5 721.7,1455.6 731.9,1741.2 742.1,1743.2 752.3,1746.2 762.5,1749.1 772.7,1753.1 782.9,1753.1 793.1,1483.8 803.3,1462.2 813.5,1447.9 823.7,1440.4 833.9,1439.2 844.1,1435.9 854.3,1723.1 864.5,1734.7 874.7,1734.6 884.9,1739.2 895.1,1741.2 905.3,1738.3 915.5,1473.3 925.7,1450.4 935.9,1431.5 946.1,1425.3 956.3,1424.2 966.5,1421.5 976.7,1712.8 986.9,1726.8 997.1,1731.3 1007.3,1737.3 1017.5,1733.9 1027.7,1736.9 1037.9,1466.4 1048.1,1442.1 1058.3,1428.8 1068.5,1424.4 1078.7,1416.9 1088.9,1416 1099.1,1710.8 1109.3,1724 1119.5,1736.2 1129.7,1737.2 1139.9,1743.2 1150.1,1742.2 1160.3,1470.4 1170.5,1448.7 1180.7,1447.7 1190.9,1438.9 1211.3,1427 1221.5,1716.6 1231.7,1726.5 1241.9,1734.4 1252.1,1733.4 1262.3,1737.3 1272.5,1738.3 1282.7,1463.5 1292.9,1443.8 1303.1,1435.9 1313.3,1427 1323.5,1420.1 1333.7,1412.3 1343.9,1706.8 1354.1,1711.7 1364.3,1717.6 1374.5,1724.5 1384.7,1725.5 1394.9,1724.5 1405.1,1450.7 1415.3,1429 1425.5,1422.1 1445.9,1412.3 1456.1,1408.3 1466.3,1700.9 1476.5,1711.7 1486.7,1711.7 1496.9,1717.6 1507.1,1717.6 1517.3,1723.5 1527.5,1447.7 1537.7,1434.9 1547.9,1424.1 1558.1,1415.2 1568.3,1408.3 1578.5,1404.4 1588.7,1716 1598.9,1714.4 1609.1,1717 1619.3,1724 1629.5,1724.2 1639.7,1728.5 1649.9,1729.1 1660.1,1733.6 1670.3,1737.1 1680.5,1738.8 1690.7,1735.8 1700.9,1733.4 1711.1,1738.4 1721.3,1740.9 1731.5,1737 1741.7,1741.1 1751.9,1742 1762.1,1742.4 1772.3,1743.7 1782.5,1744.6 1792.7,1747.3 1802.9,1743.9 1813.1,1745.5 1823.3,1743.3 1843.7,1750 1864.1,1743.4 1874.3,1747.7 1884.5,1748.9" fill="none" stroke="#952e2e" stroke-width="2.8" stroke-linejoin="round" stroke-linecap="butt"/>
<g fill="#952e2e"><circle cx="160.7" cy="1810.2" r="3.4"/><circle cx="170.9" cy="1808.2" r="3.4"/><circle cx="181.1" cy="1806.3" r="3.4"/><circle cx="191.3" cy="1810.2" r="3.4"/><circle cx="201.5" cy="1807.2" r="3.4"/><circle cx="211.7" cy="1805.3" r="3.4"/><circle cx="221.9" cy="1808.2" r="3.4"/><circle cx="232.1" cy="1812.2" r="3.4"/><circle cx="242.3" cy="1806.3" r="3.4"/><circle cx="252.5" cy="1807.2" r="3.4"/><circle cx="262.7" cy="1805.3" r="3.4"/><circle cx="272.9" cy="1808.2" r="3.4"/><circle cx="283.1" cy="1810.2" r="3.4"/><circle cx="293.3" cy="1807.2" r="3.4"/><circle cx="303.5" cy="1805.3" r="3.4"/><circle cx="313.7" cy="1806.3" r="3.4"/><circle cx="323.9" cy="1804.3" r="3.4"/><circle cx="334.1" cy="1808.2" r="3.4"/><circle cx="344.3" cy="1807.2" r="3.4"/><circle cx="354.5" cy="1805.3" r="3.4"/><circle cx="364.7" cy="1809.2" r="3.4"/><circle cx="374.9" cy="1806.3" r="3.4"/><circle cx="385.1" cy="1804.3" r="3.4"/><circle cx="395.3" cy="1807.2" r="3.4"/><circle cx="405.5" cy="1809.2" r="3.4"/><circle cx="415.7" cy="1813.2" r="3.4"/><circle cx="425.9" cy="1571.8" r="3.4"/><circle cx="436.1" cy="1536.4" r="3.4"/><circle cx="446.3" cy="1524.6" r="3.4"/><circle cx="456.5" cy="1514.7" r="3.4"/><circle cx="466.7" cy="1507.8" r="3.4"/><circle cx="476.9" cy="1499.9" r="3.4"/><circle cx="487.1" cy="1765.9" r="3.4"/><circle cx="497.3" cy="1778.7" r="3.4"/><circle cx="507.5" cy="1782.6" r="3.4"/><circle cx="517.7" cy="1782.6" r="3.4"/><circle cx="527.9" cy="1782.6" r="3.4"/><circle cx="538.1" cy="1787.5" r="3.4"/><circle cx="548.3" cy="1580.7" r="3.4"/><circle cx="558.5" cy="1534.4" r="3.4"/><circle cx="568.7" cy="1519.6" r="3.4"/><circle cx="578.9" cy="1500.9" r="3.4"/><circle cx="589.1" cy="1487.1" r="3.4"/><circle cx="599.3" cy="1485.2" r="3.4"/><circle cx="609.5" cy="1752.1" r="3.4"/><circle cx="619.7" cy="1756" r="3.4"/><circle cx="629.9" cy="1766.9" r="3.4"/><circle cx="640.1" cy="1766.9" r="3.4"/><circle cx="650.3" cy="1769.8" r="3.4"/><circle cx="660.5" cy="1769.8" r="3.4"/><circle cx="670.7" cy="1515.7" r="3.4"/><circle cx="680.9" cy="1484.2" r="3.4"/><circle cx="691.1" cy="1471.4" r="3.4"/><circle cx="701.3" cy="1472.3" r="3.4"/><circle cx="711.5" cy="1462.5" r="3.4"/><circle cx="721.7" cy="1455.6" r="3.4"/><circle cx="731.9" cy="1741.2" r="3.4"/><circle cx="742.1" cy="1743.2" r="3.4"/><circle cx="752.3" cy="1746.2" r="3.4"/><circle cx="762.5" cy="1749.1" r="3.4"/><circle cx="772.7" cy="1753.1" r="3.4"/><circle cx="782.9" cy="1753.1" r="3.4"/><circle cx="793.1" cy="1483.8" r="3.4"/><circle cx="803.3" cy="1462.2" r="3.4"/><circle cx="813.5" cy="1447.9" r="3.4"/><circle cx="823.7" cy="1440.4" r="3.4"/><circle cx="833.9" cy="1439.2" r="3.4"/><circle cx="844.1" cy="1435.9" r="3.4"/><circle cx="854.3" cy="1723.1" r="3.4"/><circle cx="864.5" cy="1734.7" r="3.4"/><circle cx="874.7" cy="1734.6" r="3.4"/><circle cx="884.9" cy="1739.2" r="3.4"/><circle cx="895.1" cy="1741.2" r="3.4"/><circle cx="905.3" cy="1738.3" r="3.4"/><circle cx="915.5" cy="1473.3" r="3.4"/><circle cx="925.7" cy="1450.4" r="3.4"/><circle cx="935.9" cy="1431.5" r="3.4"/><circle cx="946.1" cy="1425.3" r="3.4"/><circle cx="956.3" cy="1424.2" r="3.4"/><circle cx="966.5" cy="1421.5" r="3.4"/><circle cx="976.7" cy="1712.8" r="3.4"/><circle cx="986.9" cy="1726.8" r="3.4"/><circle cx="997.1" cy="1731.3" r="3.4"/><circle cx="1007.3" cy="1737.3" r="3.4"/><circle cx="1017.5" cy="1733.9" r="3.4"/><circle cx="1027.7" cy="1736.9" r="3.4"/><circle cx="1037.9" cy="1466.4" r="3.4"/><circle cx="1048.1" cy="1442.1" r="3.4"/><circle cx="1058.3" cy="1428.8" r="3.4"/><circle cx="1068.5" cy="1424.4" r="3.4"/><circle cx="1078.7" cy="1416.9" r="3.4"/><circle cx="1088.9" cy="1416" r="3.4"/><circle cx="1099.1" cy="1710.8" r="3.4"/><circle cx="1109.3" cy="1724" r="3.4"/><circle cx="1119.5" cy="1736.2" r="3.4"/><circle cx="1129.7" cy="1737.2" r="3.4"/><circle cx="1139.9" cy="1743.2" r="3.4"/><circle cx="1150.1" cy="1742.2" r="3.4"/><circle cx="1160.3" cy="1470.4" r="3.4"/><circle cx="1170.5" cy="1448.7" r="3.4"/><circle cx="1180.7" cy="1447.7" r="3.4"/><circle cx="1190.9" cy="1438.9" r="3.4"/><circle cx="1201.1" cy="1432.9" r="3.4"/><circle cx="1211.3" cy="1427" r="3.4"/><circle cx="1221.5" cy="1716.6" r="3.4"/><circle cx="1231.7" cy="1726.5" r="3.4"/><circle cx="1241.9" cy="1734.4" r="3.4"/><circle cx="1252.1" cy="1733.4" r="3.4"/><circle cx="1262.3" cy="1737.3" r="3.4"/><circle cx="1272.5" cy="1738.3" r="3.4"/><circle cx="1282.7" cy="1463.5" r="3.4"/><circle cx="1292.9" cy="1443.8" r="3.4"/><circle cx="1303.1" cy="1435.9" r="3.4"/><circle cx="1313.3" cy="1427" r="3.4"/><circle cx="1323.5" cy="1420.1" r="3.4"/><circle cx="1333.7" cy="1412.3" r="3.4"/><circle cx="1343.9" cy="1706.8" r="3.4"/><circle cx="1354.1" cy="1711.7" r="3.4"/><circle cx="1364.3" cy="1717.6" r="3.4"/><circle cx="1374.5" cy="1724.5" r="3.4"/><circle cx="1384.7" cy="1725.5" r="3.4"/><circle cx="1394.9" cy="1724.5" r="3.4"/><circle cx="1405.1" cy="1450.7" r="3.4"/><circle cx="1415.3" cy="1429" r="3.4"/><circle cx="1425.5" cy="1422.1" r="3.4"/><circle cx="1435.7" cy="1417.2" r="3.4"/><circle cx="1445.9" cy="1412.3" r="3.4"/><circle cx="1456.1" cy="1408.3" r="3.4"/><circle cx="1466.3" cy="1700.9" r="3.4"/><circle cx="1476.5" cy="1711.7" r="3.4"/><circle cx="1486.7" cy="1711.7" r="3.4"/><circle cx="1496.9" cy="1717.6" r="3.4"/><circle cx="1507.1" cy="1717.6" r="3.4"/><circle cx="1517.3" cy="1723.5" r="3.4"/><circle cx="1527.5" cy="1447.7" r="3.4"/><circle cx="1537.7" cy="1434.9" r="3.4"/><circle cx="1547.9" cy="1424.1" r="3.4"/><circle cx="1558.1" cy="1415.2" r="3.4"/><circle cx="1568.3" cy="1408.3" r="3.4"/><circle cx="1578.5" cy="1404.4" r="3.4"/><circle cx="1588.7" cy="1716" r="3.4"/><circle cx="1598.9" cy="1714.4" r="3.4"/><circle cx="1609.1" cy="1717" r="3.4"/><circle cx="1619.3" cy="1724" r="3.4"/><circle cx="1629.5" cy="1724.2" r="3.4"/><circle cx="1639.7" cy="1728.5" r="3.4"/><circle cx="1649.9" cy="1729.1" r="3.4"/><circle cx="1660.1" cy="1733.6" r="3.4"/><circle cx="1670.3" cy="1737.1" r="3.4"/><circle cx="1680.5" cy="1738.8" r="3.4"/><circle cx="1690.7" cy="1735.8" r="3.4"/><circle cx="1700.9" cy="1733.4" r="3.4"/><circle cx="1711.1" cy="1738.4" r="3.4"/><circle cx="1721.3" cy="1740.9" r="3.4"/><circle cx="1731.5" cy="1737" r="3.4"/><circle cx="1741.7" cy="1741.1" r="3.4"/><circle cx="1751.9" cy="1742" r="3.4"/><circle cx="1762.1" cy="1742.4" r="3.4"/><circle cx="1772.3" cy="1743.7" r="3.4"/><circle cx="1782.5" cy="1744.6" r="3.4"/><circle cx="1792.7" cy="1747.3" r="3.4"/><circle cx="1802.9" cy="1743.9" r="3.4"/><circle cx="1813.1" cy="1745.5" r="3.4"/><circle cx="1823.3" cy="1743.3" r="3.4"/><circle cx="1833.5" cy="1746.7" r="3.4"/><circle cx="1843.7" cy="1750" r="3.4"/><circle cx="1853.9" cy="1746.7" r="3.4"/><circle cx="1864.1" cy="1743.4" r="3.4"/><circle cx="1874.3" cy="1747.7" r="3.4"/><circle cx="1884.5" cy="1748.9" r="3.4"/></g>
<circle cx="1456" cy="1408.3" r="3.6" fill="#952e2e" stroke="#e5262a" stroke-width="1.6"/>
<circle cx="1394.9" cy="1725.1" r="3.6" fill="#952e2e" stroke="#e5262a" stroke-width="1.6"/>
<text x="214.3" y="1486.8" font-size="31"><tspan font-style="italic">V</tspan><tspan font-family="'Liberation Serif', 'Times New Roman', serif" font-style="italic" font-size="22" dy="8">ε</tspan><tspan dy="-8"> (kV)</tspan></text>
<line x1="211.5" y1="1524.5" x2="271.1" y2="1524.5" stroke="#000" stroke-width="3" stroke-linecap="round"/>
<text x="288.5" y="1536.5" font-size="31">0.9</text>
<line x1="211.5" y1="1557" x2="271.1" y2="1557" stroke="#e52424" stroke-width="3" stroke-linecap="round"/>
<text x="288.5" y="1569" font-size="31">1.8</text>
<line x1="211.5" y1="1589.6" x2="271.1" y2="1589.6" stroke="#038003" stroke-width="3" stroke-linecap="round"/>
<text x="288.5" y="1601.6" font-size="31">2.25</text>
<line x1="211.5" y1="1622.2" x2="271.1" y2="1622.2" stroke="#24479b" stroke-width="3" stroke-linecap="round"/>
<text x="288.5" y="1634.2" font-size="31">2.7</text>
<line x1="211.5" y1="1654.7" x2="271.1" y2="1654.7" stroke="#a04c98" stroke-width="3" stroke-linecap="round"/>
<text x="288.5" y="1666.7" font-size="31">3.15</text>
<line x1="211.5" y1="1687.2" x2="271.1" y2="1687.2" stroke="#952e2e" stroke-width="3" stroke-linecap="round"/>
<text x="288.5" y="1699.2" font-size="31">3.6</text>
<line x1="1524" y1="1403.5" x2="1611.5" y2="1403.5" stroke="#952e2e" stroke-width="3" stroke-dasharray="13,8" stroke-linecap="butt"/>
<line x1="1524" y1="1724.1" x2="1611.5" y2="1724.1" stroke="#952e2e" stroke-width="3" stroke-dasharray="13,8" stroke-linecap="butt"/>
<line x1="1597.6" y1="1416" x2="1597.6" y2="1712" stroke="#000" stroke-width="3" stroke-linecap="butt"/>
<path d="M1597.6,1404.5 L1590.5,1420 L1604.7,1420 Z" fill="#000"/>
<path d="M1597.6,1723 L1590.5,1707.5 L1604.7,1707.5 Z" fill="#000"/>
<text transform="translate(1649.2,1553) rotate(-90)" font-size="33.5" text-anchor="middle">ATD modulation</text>
<line x1="160.5" y1="1882.8" x2="160.5" y2="1985" stroke="#000" stroke-width="3" stroke-linecap="butt"/>
<line x1="160.5" y1="1909.1" x2="147.5" y2="1909.1" stroke="#000" stroke-width="3" stroke-linecap="butt"/>
<line x1="160.5" y1="1958.7" x2="147.5" y2="1958.7" stroke="#000" stroke-width="3" stroke-linecap="butt"/>
<line x1="160.5" y1="1884.3" x2="152.5" y2="1884.3" stroke="#000" stroke-width="3" stroke-linecap="butt"/>
<line x1="160.5" y1="1933.9" x2="152.5" y2="1933.9" stroke="#000" stroke-width="3" stroke-linecap="butt"/>
<line x1="160.5" y1="1983.5" x2="152.5" y2="1983.5" stroke="#000" stroke-width="3" stroke-linecap="butt"/>
<text x="137" y="1920.6" font-size="32" text-anchor="end">0.0</text>
<text x="137" y="1970.2" font-size="32" text-anchor="end">−0.5</text>
<line x1="159.2" y1="2002.4" x2="1947.2" y2="2002.4" stroke="#000" stroke-width="3" stroke-linecap="butt"/>
<line x1="160.7" y1="2002.4" x2="160.7" y2="2014.4" stroke="#000" stroke-width="3" stroke-linecap="butt"/>
<line x1="415.7" y1="2002.4" x2="415.7" y2="2014.4" stroke="#000" stroke-width="3" stroke-linecap="butt"/>
<line x1="670.7" y1="2002.4" x2="670.7" y2="2014.4" stroke="#000" stroke-width="3" stroke-linecap="butt"/>
<line x1="925.7" y1="2002.4" x2="925.7" y2="2014.4" stroke="#000" stroke-width="3" stroke-linecap="butt"/>
<line x1="1180.7" y1="2002.4" x2="1180.7" y2="2014.4" stroke="#000" stroke-width="3" stroke-linecap="butt"/>
<line x1="1435.7" y1="2002.4" x2="1435.7" y2="2014.4" stroke="#000" stroke-width="3" stroke-linecap="butt"/>
<line x1="1690.7" y1="2002.4" x2="1690.7" y2="2014.4" stroke="#000" stroke-width="3" stroke-linecap="butt"/>
<line x1="1945.7" y1="2002.4" x2="1945.7" y2="2014.4" stroke="#000" stroke-width="3" stroke-linecap="butt"/>
<line x1="288.2" y1="2002.4" x2="288.2" y2="2010.4" stroke="#000" stroke-width="3" stroke-linecap="butt"/>
<line x1="543.2" y1="2002.4" x2="543.2" y2="2010.4" stroke="#000" stroke-width="3" stroke-linecap="butt"/>
<line x1="798.2" y1="2002.4" x2="798.2" y2="2010.4" stroke="#000" stroke-width="3" stroke-linecap="butt"/>
<line x1="1053.2" y1="2002.4" x2="1053.2" y2="2010.4" stroke="#000" stroke-width="3" stroke-linecap="butt"/>
<line x1="1308.2" y1="2002.4" x2="1308.2" y2="2010.4" stroke="#000" stroke-width="3" stroke-linecap="butt"/>
<line x1="1563.2" y1="2002.4" x2="1563.2" y2="2010.4" stroke="#000" stroke-width="3" stroke-linecap="butt"/>
<line x1="1818.2" y1="2002.4" x2="1818.2" y2="2010.4" stroke="#000" stroke-width="3" stroke-linecap="butt"/>
<text x="160.7" y="2054" font-size="32" text-anchor="middle">0</text>
<text x="415.7" y="2054" font-size="32" text-anchor="middle">10</text>
<text x="670.7" y="2054" font-size="32" text-anchor="middle">20</text>
<text x="925.7" y="2054" font-size="32" text-anchor="middle">30</text>
<text x="1180.7" y="2054" font-size="32" text-anchor="middle">40</text>
<text x="1435.7" y="2054" font-size="32" text-anchor="middle">50</text>
<text x="1690.7" y="2054" font-size="32" text-anchor="middle">60</text>
<text x="1945.7" y="2054" font-size="32" text-anchor="middle">70</text>
<line x1="160.7" y1="1909.1" x2="1946.8" y2="1909.1" stroke="#000" stroke-width="2.6" stroke-dasharray="10,7" stroke-linecap="butt"/>
<polyline points="160.7,1909.1 170.9,1905.1 181.1,1907.1 191.3,1900.4 201.5,1899.2 211.7,1896.4 232.1,1906.3 242.3,1906.3 252.5,1902.4 262.7,1902.4 272.9,1903.9 283.1,1907.1 293.3,1899.2 303.5,1902 313.7,1902 323.9,1900 344.3,1902 354.5,1900.7 364.7,1896.4 374.9,1899.2 385.1,1897.6 395.3,1901.2 405.5,1903.1 415.7,1899.2 425.9,1939.9 436.1,1936.9 446.3,1941.8 456.5,1944.8 466.7,1939.9 476.9,1940.8 487.1,1879.3 497.3,1880.3 517.7,1876.4 538.1,1878.3 548.3,1926 558.5,1936.9 568.7,1937.9 578.9,1917 589.1,1919 599.3,1952.7 609.5,1894.2 619.7,1891.2 640.1,1889.3 650.3,1886.3 660.5,1885.3 670.7,1917.5 680.9,1925.5 691.1,1927.9 701.3,1925 721.7,1932.9 731.9,1894.7 742.1,1892.2 752.3,1892.7 762.5,1892.2 772.7,1887.3 782.9,1889.8 793.1,1921.5 803.3,1924 813.5,1927.5 823.7,1932.6 833.9,1933.4 844.1,1941.3 854.3,1894.7 864.5,1893.7 874.7,1895.7 884.9,1896.5 895.1,1891.7 905.3,1897.2 915.5,1930.6 925.7,1928.2 935.9,1935.4 946.1,1938.2 956.3,1936.2 966.5,1938.6 976.7,1893.7 986.9,1897.7 997.1,1894.7 1007.3,1898.5 1017.5,1887.3 1027.7,1893.7 1037.9,1926.7 1058.3,1938.2 1068.5,1941.3 1078.7,1942.5 1088.9,1933.9 1099.1,1891.7 1109.3,1893.7 1119.5,1891.2 1129.7,1889.8 1150.1,1889.8 1160.3,1953.2 1170.5,1932.2 1180.7,1957.2 1190.9,1960 1201.1,1938.6 1211.3,1936.2 1221.5,1899.7 1231.7,1897.7 1241.9,1893.7 1252.1,1893.7 1262.3,1890.3 1272.5,1890.3 1282.7,1958.1 1292.9,1960.5 1303.1,1938.2 1313.3,1939.4 1333.7,1945.3 1343.9,1903.6 1354.1,1896.9 1364.3,1900.5 1374.5,1893.7 1384.7,1892.9 1394.9,1898.5 1405.1,1958.1 1415.3,1940.5 1425.5,1942.1 1435.7,1937.4 1445.9,1944.1 1456.1,1943.3 1466.3,1902.9 1486.7,1898.5 1496.9,1897.7 1507.1,1898.5 1517.3,1896.5 1527.5,1956.4 1537.7,1936.6 1547.9,1936.6 1558.1,1940.5 1568.3,1946.5 1578.5,1941.3 1588.7,1902.5 1598.9,1902.5 1609.1,1898.9 1619.3,1896.5 1629.5,1897.7 1639.7,1900.5 1649.9,1897.7 1660.1,1899.2 1670.3,1900.2 1680.5,1899.2 1690.7,1895.7 1700.9,1894.5 1711.1,1895.7 1721.3,1896.2 1731.5,1892.5 1741.7,1890.9 1751.9,1893.7 1762.1,1893.7 1772.3,1889.8 1782.5,1887.8 1792.7,1889.8 1802.9,1889.8 1813.1,1892.5 1823.3,1888.6 1833.5,1887.8 1843.7,1889.8 1853.9,1891.2 1864.1,1891.2 1874.3,1885.8 1884.5,1885.8" fill="none" stroke="#4aaac8" stroke-width="2.8" stroke-linejoin="round" stroke-linecap="butt"/>
<g fill="#4aaac8"><circle cx="160.7" cy="1909.1" r="3.2"/><circle cx="170.9" cy="1905.1" r="3.2"/><circle cx="181.1" cy="1907.1" r="3.2"/><circle cx="191.3" cy="1900.4" r="3.2"/><circle cx="201.5" cy="1899.2" r="3.2"/><circle cx="211.7" cy="1896.4" r="3.2"/><circle cx="221.9" cy="1901.2" r="3.2"/><circle cx="232.1" cy="1906.3" r="3.2"/><circle cx="242.3" cy="1906.3" r="3.2"/><circle cx="252.5" cy="1902.4" r="3.2"/><circle cx="262.7" cy="1902.4" r="3.2"/><circle cx="272.9" cy="1903.9" r="3.2"/><circle cx="283.1" cy="1907.1" r="3.2"/><circle cx="293.3" cy="1899.2" r="3.2"/><circle cx="303.5" cy="1902" r="3.2"/><circle cx="313.7" cy="1902" r="3.2"/><circle cx="323.9" cy="1900" r="3.2"/><circle cx="334.1" cy="1901.2" r="3.2"/><circle cx="344.3" cy="1902" r="3.2"/><circle cx="354.5" cy="1900.7" r="3.2"/><circle cx="364.7" cy="1896.4" r="3.2"/><circle cx="374.9" cy="1899.2" r="3.2"/><circle cx="385.1" cy="1897.6" r="3.2"/><circle cx="395.3" cy="1901.2" r="3.2"/><circle cx="405.5" cy="1903.1" r="3.2"/><circle cx="415.7" cy="1899.2" r="3.2"/><circle cx="425.9" cy="1939.9" r="3.2"/><circle cx="436.1" cy="1936.9" r="3.2"/><circle cx="446.3" cy="1941.8" r="3.2"/><circle cx="456.5" cy="1944.8" r="3.2"/><circle cx="466.7" cy="1939.9" r="3.2"/><circle cx="476.9" cy="1940.8" r="3.2"/><circle cx="487.1" cy="1879.3" r="3.2"/><circle cx="497.3" cy="1880.3" r="3.2"/><circle cx="507.5" cy="1878.3" r="3.2"/><circle cx="517.7" cy="1876.4" r="3.2"/><circle cx="527.9" cy="1877.4" r="3.2"/><circle cx="538.1" cy="1878.3" r="3.2"/><circle cx="548.3" cy="1926" r="3.2"/><circle cx="558.5" cy="1936.9" r="3.2"/><circle cx="568.7" cy="1937.9" r="3.2"/><circle cx="578.9" cy="1917" r="3.2"/><circle cx="589.1" cy="1919" r="3.2"/><circle cx="599.3" cy="1952.7" r="3.2"/><circle cx="609.5" cy="1894.2" r="3.2"/><circle cx="619.7" cy="1891.2" r="3.2"/><circle cx="629.9" cy="1890.3" r="3.2"/><circle cx="640.1" cy="1889.3" r="3.2"/><circle cx="650.3" cy="1886.3" r="3.2"/><circle cx="660.5" cy="1885.3" r="3.2"/><circle cx="670.7" cy="1917.5" r="3.2"/><circle cx="680.9" cy="1925.5" r="3.2"/><circle cx="691.1" cy="1927.9" r="3.2"/><circle cx="701.3" cy="1925" r="3.2"/><circle cx="711.5" cy="1928.9" r="3.2"/><circle cx="721.7" cy="1932.9" r="3.2"/><circle cx="731.9" cy="1894.7" r="3.2"/><circle cx="742.1" cy="1892.2" r="3.2"/><circle cx="752.3" cy="1892.7" r="3.2"/><circle cx="762.5" cy="1892.2" r="3.2"/><circle cx="772.7" cy="1887.3" r="3.2"/><circle cx="782.9" cy="1889.8" r="3.2"/><circle cx="793.1" cy="1921.5" r="3.2"/><circle cx="803.3" cy="1924" r="3.2"/><circle cx="813.5" cy="1927.5" r="3.2"/><circle cx="823.7" cy="1932.6" r="3.2"/><circle cx="833.9" cy="1933.4" r="3.2"/><circle cx="844.1" cy="1941.3" r="3.2"/><circle cx="854.3" cy="1894.7" r="3.2"/><circle cx="864.5" cy="1893.7" r="3.2"/><circle cx="874.7" cy="1895.7" r="3.2"/><circle cx="884.9" cy="1896.5" r="3.2"/><circle cx="895.1" cy="1891.7" r="3.2"/><circle cx="905.3" cy="1897.2" r="3.2"/><circle cx="915.5" cy="1930.6" r="3.2"/><circle cx="925.7" cy="1928.2" r="3.2"/><circle cx="935.9" cy="1935.4" r="3.2"/><circle cx="946.1" cy="1938.2" r="3.2"/><circle cx="956.3" cy="1936.2" r="3.2"/><circle cx="966.5" cy="1938.6" r="3.2"/><circle cx="976.7" cy="1893.7" r="3.2"/><circle cx="986.9" cy="1897.7" r="3.2"/><circle cx="997.1" cy="1894.7" r="3.2"/><circle cx="1007.3" cy="1898.5" r="3.2"/><circle cx="1017.5" cy="1887.3" r="3.2"/><circle cx="1027.7" cy="1893.7" r="3.2"/><circle cx="1037.9" cy="1926.7" r="3.2"/><circle cx="1048.1" cy="1932.2" r="3.2"/><circle cx="1058.3" cy="1938.2" r="3.2"/><circle cx="1068.5" cy="1941.3" r="3.2"/><circle cx="1078.7" cy="1942.5" r="3.2"/><circle cx="1088.9" cy="1933.9" r="3.2"/><circle cx="1099.1" cy="1891.7" r="3.2"/><circle cx="1109.3" cy="1893.7" r="3.2"/><circle cx="1119.5" cy="1891.2" r="3.2"/><circle cx="1129.7" cy="1889.8" r="3.2"/><circle cx="1139.9" cy="1889.8" r="3.2"/><circle cx="1150.1" cy="1889.8" r="3.2"/><circle cx="1160.3" cy="1953.2" r="3.2"/><circle cx="1170.5" cy="1932.2" r="3.2"/><circle cx="1180.7" cy="1957.2" r="3.2"/><circle cx="1190.9" cy="1960" r="3.2"/><circle cx="1201.1" cy="1938.6" r="3.2"/><circle cx="1211.3" cy="1936.2" r="3.2"/><circle cx="1221.5" cy="1899.7" r="3.2"/><circle cx="1231.7" cy="1897.7" r="3.2"/><circle cx="1241.9" cy="1893.7" r="3.2"/><circle cx="1252.1" cy="1893.7" r="3.2"/><circle cx="1262.3" cy="1890.3" r="3.2"/><circle cx="1272.5" cy="1890.3" r="3.2"/><circle cx="1282.7" cy="1958.1" r="3.2"/><circle cx="1292.9" cy="1960.5" r="3.2"/><circle cx="1303.1" cy="1938.2" r="3.2"/><circle cx="1313.3" cy="1939.4" r="3.2"/><circle cx="1323.5" cy="1942.5" r="3.2"/><circle cx="1333.7" cy="1945.3" r="3.2"/><circle cx="1343.9" cy="1903.6" r="3.2"/><circle cx="1354.1" cy="1896.9" r="3.2"/><circle cx="1364.3" cy="1900.5" r="3.2"/><circle cx="1374.5" cy="1893.7" r="3.2"/><circle cx="1384.7" cy="1892.9" r="3.2"/><circle cx="1394.9" cy="1898.5" r="3.2"/><circle cx="1405.1" cy="1958.1" r="3.2"/><circle cx="1415.3" cy="1940.5" r="3.2"/><circle cx="1425.5" cy="1942.1" r="3.2"/><circle cx="1435.7" cy="1937.4" r="3.2"/><circle cx="1445.9" cy="1944.1" r="3.2"/><circle cx="1456.1" cy="1943.3" r="3.2"/><circle cx="1466.3" cy="1902.9" r="3.2"/><circle cx="1476.5" cy="1900.9" r="3.2"/><circle cx="1486.7" cy="1898.5" r="3.2"/><circle cx="1496.9" cy="1897.7" r="3.2"/><circle cx="1507.1" cy="1898.5" r="3.2"/><circle cx="1517.3" cy="1896.5" r="3.2"/><circle cx="1527.5" cy="1956.4" r="3.2"/><circle cx="1537.7" cy="1936.6" r="3.2"/><circle cx="1547.9" cy="1936.6" r="3.2"/><circle cx="1558.1" cy="1940.5" r="3.2"/><circle cx="1568.3" cy="1946.5" r="3.2"/><circle cx="1578.5" cy="1941.3" r="3.2"/><circle cx="1588.7" cy="1902.5" r="3.2"/><circle cx="1598.9" cy="1902.5" r="3.2"/><circle cx="1609.1" cy="1898.9" r="3.2"/><circle cx="1619.3" cy="1896.5" r="3.2"/><circle cx="1629.5" cy="1897.7" r="3.2"/><circle cx="1639.7" cy="1900.5" r="3.2"/><circle cx="1649.9" cy="1897.7" r="3.2"/><circle cx="1660.1" cy="1899.2" r="3.2"/><circle cx="1670.3" cy="1900.2" r="3.2"/><circle cx="1680.5" cy="1899.2" r="3.2"/><circle cx="1690.7" cy="1895.7" r="3.2"/><circle cx="1700.9" cy="1894.5" r="3.2"/><circle cx="1711.1" cy="1895.7" r="3.2"/><circle cx="1721.3" cy="1896.2" r="3.2"/><circle cx="1731.5" cy="1892.5" r="3.2"/><circle cx="1741.7" cy="1890.9" r="3.2"/><circle cx="1751.9" cy="1893.7" r="3.2"/><circle cx="1762.1" cy="1893.7" r="3.2"/><circle cx="1772.3" cy="1889.8" r="3.2"/><circle cx="1782.5" cy="1887.8" r="3.2"/><circle cx="1792.7" cy="1889.8" r="3.2"/><circle cx="1802.9" cy="1889.8" r="3.2"/><circle cx="1813.1" cy="1892.5" r="3.2"/><circle cx="1823.3" cy="1888.6" r="3.2"/><circle cx="1833.5" cy="1887.8" r="3.2"/><circle cx="1843.7" cy="1889.8" r="3.2"/><circle cx="1853.9" cy="1891.2" r="3.2"/><circle cx="1864.1" cy="1891.2" r="3.2"/><circle cx="1874.3" cy="1885.8" r="3.2"/><circle cx="1884.5" cy="1885.8" r="3.2"/></g>
<line x1="211.5" y1="1946.8" x2="271.1" y2="1946.8" stroke="#4aaac8" stroke-width="3" stroke-linecap="round"/>
<text x="286.5" y="1958.7" font-size="31">3.6</text>
<text x="1000" y="2096.1" font-size="33.5">Time (s)</text>
<text transform="translate(38,2017.4) rotate(-90)" font-size="33">ATD<tspan x="66.5" font-size="24" dy="12.7">I–III</tspan><tspan x="117.5" dy="-12.7">(%)</tspan></text>
<line x1="160.5" y1="2152.7" x2="160.5" y2="2313.6" stroke="#000" stroke-width="3" stroke-linecap="butt"/>
<line x1="160.5" y1="2154.2" x2="146.5" y2="2154.2" stroke="#000" stroke-width="3" stroke-linecap="butt"/>
<line x1="160.5" y1="2206.8" x2="146.5" y2="2206.8" stroke="#000" stroke-width="3" stroke-linecap="butt"/>
<line x1="160.5" y1="2259.5" x2="146.5" y2="2259.5" stroke="#000" stroke-width="3" stroke-linecap="butt"/>
<line x1="160.5" y1="2312.1" x2="146.5" y2="2312.1" stroke="#000" stroke-width="3" stroke-linecap="butt"/>
<line x1="160.5" y1="2180.5" x2="152.5" y2="2180.5" stroke="#000" stroke-width="3" stroke-linecap="butt"/>
<line x1="160.5" y1="2233.1" x2="152.5" y2="2233.1" stroke="#000" stroke-width="3" stroke-linecap="butt"/>
<line x1="160.5" y1="2285.8" x2="152.5" y2="2285.8" stroke="#000" stroke-width="3" stroke-linecap="butt"/>
<text x="135" y="2165.7" font-size="32" text-anchor="end">1.0</text>
<text x="135" y="2218.3" font-size="32" text-anchor="end">0.9</text>
<text x="135" y="2271" font-size="32" text-anchor="end">0.8</text>
<text x="135" y="2323.6" font-size="32" text-anchor="end">0.7</text>
<line x1="159.2" y1="2331.2" x2="1947.2" y2="2331.2" stroke="#000" stroke-width="3" stroke-linecap="butt"/>
<line x1="160.7" y1="2331.2" x2="160.7" y2="2343.2" stroke="#000" stroke-width="3" stroke-linecap="butt"/>
<line x1="415.7" y1="2331.2" x2="415.7" y2="2343.2" stroke="#000" stroke-width="3" stroke-linecap="butt"/>
<line x1="670.7" y1="2331.2" x2="670.7" y2="2343.2" stroke="#000" stroke-width="3" stroke-linecap="butt"/>
<line x1="925.7" y1="2331.2" x2="925.7" y2="2343.2" stroke="#000" stroke-width="3" stroke-linecap="butt"/>
<line x1="1180.7" y1="2331.2" x2="1180.7" y2="2343.2" stroke="#000" stroke-width="3" stroke-linecap="butt"/>
<line x1="1435.7" y1="2331.2" x2="1435.7" y2="2343.2" stroke="#000" stroke-width="3" stroke-linecap="butt"/>
<line x1="1690.7" y1="2331.2" x2="1690.7" y2="2343.2" stroke="#000" stroke-width="3" stroke-linecap="butt"/>
<line x1="1945.7" y1="2331.2" x2="1945.7" y2="2343.2" stroke="#000" stroke-width="3" stroke-linecap="butt"/>
<line x1="288.2" y1="2331.2" x2="288.2" y2="2339.2" stroke="#000" stroke-width="3" stroke-linecap="butt"/>
<line x1="543.2" y1="2331.2" x2="543.2" y2="2339.2" stroke="#000" stroke-width="3" stroke-linecap="butt"/>
<line x1="798.2" y1="2331.2" x2="798.2" y2="2339.2" stroke="#000" stroke-width="3" stroke-linecap="butt"/>
<line x1="1053.2" y1="2331.2" x2="1053.2" y2="2339.2" stroke="#000" stroke-width="3" stroke-linecap="butt"/>
<line x1="1308.2" y1="2331.2" x2="1308.2" y2="2339.2" stroke="#000" stroke-width="3" stroke-linecap="butt"/>
<line x1="1563.2" y1="2331.2" x2="1563.2" y2="2339.2" stroke="#000" stroke-width="3" stroke-linecap="butt"/>
<line x1="1818.2" y1="2331.2" x2="1818.2" y2="2339.2" stroke="#000" stroke-width="3" stroke-linecap="butt"/>
<text x="160.7" y="2381.6" font-size="32" text-anchor="middle">0</text>
<text x="415.7" y="2381.6" font-size="32" text-anchor="middle">10</text>
<text x="670.7" y="2381.6" font-size="32" text-anchor="middle">20</text>
<text x="925.7" y="2381.6" font-size="32" text-anchor="middle">30</text>
<text x="1180.7" y="2381.6" font-size="32" text-anchor="middle">40</text>
<text x="1435.7" y="2381.6" font-size="32" text-anchor="middle">50</text>
<text x="1690.7" y="2381.6" font-size="32" text-anchor="middle">60</text>
<text x="1945.7" y="2381.6" font-size="32" text-anchor="middle">70</text>
<text x="994.8" y="2424.4" font-size="33.5">Time (s)</text>
<text transform="translate(55,2290.7) rotate(-90)" font-size="33"><tspan font-style="italic">t</tspan><tspan font-size="24" dy="12.5">DS</tspan><tspan dy="-12.5"> (ms)</tspan></text>
<line x1="160.7" y1="2187" x2="1942" y2="2187" stroke="#038003" stroke-width="2.6" stroke-dasharray="12,8" stroke-linecap="butt"/>
<line x1="160.7" y1="2289.1" x2="1938" y2="2289.1" stroke="#e52424" stroke-width="2.6" stroke-dasharray="12,8" stroke-linecap="butt"/>
<g fill="#038003"><circle cx="160.7" cy="2183.2" r="3.9"/><circle cx="170.9" cy="2188" r="3.9"/><circle cx="181.1" cy="2188.5" r="3.9"/><circle cx="191.3" cy="2193.6" r="3.9"/><circle cx="201.5" cy="2187.4" r="3.9"/><circle cx="211.7" cy="2188.1" r="3.9"/><circle cx="221.9" cy="2188.6" r="3.9"/><circle cx="232.1" cy="2186.6" r="3.9"/><circle cx="242.3" cy="2186.4" r="3.9"/><circle cx="252.5" cy="2189.9" r="3.9"/><circle cx="262.7" cy="2189.5" r="3.9"/><circle cx="272.9" cy="2188.5" r="3.9"/><circle cx="283.1" cy="2185.7" r="3.9"/><circle cx="293.3" cy="2186" r="3.9"/><circle cx="303.5" cy="2190.4" r="3.9"/><circle cx="313.7" cy="2190" r="3.9"/><circle cx="323.9" cy="2185.6" r="3.9"/><circle cx="334.1" cy="2183.6" r="3.9"/><circle cx="344.3" cy="2187.4" r="3.9"/><circle cx="354.5" cy="2189" r="3.9"/><circle cx="364.7" cy="2184.8" r="3.9"/><circle cx="374.9" cy="2188.1" r="3.9"/><circle cx="385.1" cy="2185.6" r="3.9"/><circle cx="395.3" cy="2183.7" r="3.9"/><circle cx="405.5" cy="2185.9" r="3.9"/><circle cx="415.7" cy="2187.2" r="3.9"/><circle cx="425.9" cy="2185.6" r="3.9"/><circle cx="436.1" cy="2188.9" r="3.9"/><circle cx="446.3" cy="2187.8" r="3.9"/><circle cx="456.5" cy="2188.7" r="3.9"/><circle cx="466.7" cy="2187.8" r="3.9"/><circle cx="476.9" cy="2188.5" r="3.9"/><circle cx="487.1" cy="2187.8" r="3.9"/><circle cx="497.3" cy="2188.3" r="3.9"/><circle cx="507.5" cy="2187.1" r="3.9"/><circle cx="517.7" cy="2187.2" r="3.9"/><circle cx="527.9" cy="2186.7" r="3.9"/><circle cx="538.1" cy="2184" r="3.9"/><circle cx="548.3" cy="2191" r="3.9"/><circle cx="558.5" cy="2184.3" r="3.9"/><circle cx="568.7" cy="2187.9" r="3.9"/><circle cx="578.9" cy="2190.3" r="3.9"/><circle cx="589.1" cy="2187.8" r="3.9"/><circle cx="599.3" cy="2187.1" r="3.9"/><circle cx="609.5" cy="2184.8" r="3.9"/><circle cx="619.7" cy="2189.9" r="3.9"/><circle cx="629.9" cy="2186.8" r="3.9"/><circle cx="640.1" cy="2187.1" r="3.9"/><circle cx="650.3" cy="2191.3" r="3.9"/><circle cx="660.5" cy="2190.2" r="3.9"/><circle cx="670.7" cy="2185.9" r="3.9"/><circle cx="680.9" cy="2185.7" r="3.9"/><circle cx="691.1" cy="2184.8" r="3.9"/><circle cx="701.3" cy="2186.1" r="3.9"/><circle cx="711.5" cy="2186.4" r="3.9"/><circle cx="721.7" cy="2187.1" r="3.9"/><circle cx="731.9" cy="2184.5" r="3.9"/><circle cx="742.1" cy="2189.4" r="3.9"/><circle cx="752.3" cy="2187.7" r="3.9"/><circle cx="762.5" cy="2186.4" r="3.9"/><circle cx="772.7" cy="2191.1" r="3.9"/><circle cx="782.9" cy="2184.3" r="3.9"/><circle cx="793.1" cy="2189.2" r="3.9"/><circle cx="803.3" cy="2187.5" r="3.9"/><circle cx="813.5" cy="2182.2" r="3.9"/><circle cx="823.7" cy="2189.3" r="3.9"/><circle cx="833.9" cy="2188.6" r="3.9"/><circle cx="844.1" cy="2183.7" r="3.9"/><circle cx="854.3" cy="2189.9" r="3.9"/><circle cx="864.5" cy="2188.4" r="3.9"/><circle cx="874.7" cy="2186.1" r="3.9"/><circle cx="884.9" cy="2186.3" r="3.9"/><circle cx="895.1" cy="2186" r="3.9"/><circle cx="905.3" cy="2186.5" r="3.9"/><circle cx="915.5" cy="2184.2" r="3.9"/><circle cx="925.7" cy="2185" r="3.9"/><circle cx="935.9" cy="2185.9" r="3.9"/><circle cx="946.1" cy="2189" r="3.9"/><circle cx="956.3" cy="2189" r="3.9"/><circle cx="966.5" cy="2191.9" r="3.9"/><circle cx="976.7" cy="2185.7" r="3.9"/><circle cx="986.9" cy="2191.7" r="3.9"/><circle cx="997.1" cy="2185.3" r="3.9"/><circle cx="1007.3" cy="2183" r="3.9"/><circle cx="1017.5" cy="2189.9" r="3.9"/><circle cx="1027.7" cy="2189" r="3.9"/><circle cx="1037.9" cy="2188.5" r="3.9"/><circle cx="1048.1" cy="2185.4" r="3.9"/><circle cx="1058.3" cy="2189.4" r="3.9"/><circle cx="1068.5" cy="2187.7" r="3.9"/><circle cx="1078.7" cy="2188.6" r="3.9"/><circle cx="1088.9" cy="2188" r="3.9"/><circle cx="1099.1" cy="2184.3" r="3.9"/><circle cx="1109.3" cy="2189.6" r="3.9"/><circle cx="1119.5" cy="2187.2" r="3.9"/><circle cx="1129.7" cy="2186.7" r="3.9"/><circle cx="1139.9" cy="2185.3" r="3.9"/><circle cx="1150.1" cy="2190.4" r="3.9"/><circle cx="1160.3" cy="2184.7" r="3.9"/><circle cx="1170.5" cy="2186.3" r="3.9"/><circle cx="1180.7" cy="2185.3" r="3.9"/><circle cx="1190.9" cy="2187.2" r="3.9"/><circle cx="1201.1" cy="2191.2" r="3.9"/><circle cx="1211.3" cy="2188.9" r="3.9"/><circle cx="1221.5" cy="2185.4" r="3.9"/><circle cx="1231.7" cy="2187.3" r="3.9"/><circle cx="1241.9" cy="2187.5" r="3.9"/><circle cx="1252.1" cy="2183.1" r="3.9"/><circle cx="1262.3" cy="2182.1" r="3.9"/><circle cx="1272.5" cy="2187.4" r="3.9"/><circle cx="1282.7" cy="2182.8" r="3.9"/><circle cx="1292.9" cy="2192.1" r="3.9"/><circle cx="1303.1" cy="2192.2" r="3.9"/><circle cx="1313.3" cy="2185.3" r="3.9"/><circle cx="1323.5" cy="2188" r="3.9"/><circle cx="1333.7" cy="2186" r="3.9"/><circle cx="1343.9" cy="2186.1" r="3.9"/><circle cx="1354.1" cy="2187.6" r="3.9"/><circle cx="1364.3" cy="2185.7" r="3.9"/><circle cx="1374.5" cy="2187" r="3.9"/><circle cx="1384.7" cy="2191" r="3.9"/><circle cx="1394.9" cy="2186.8" r="3.9"/><circle cx="1405.1" cy="2186.9" r="3.9"/><circle cx="1415.3" cy="2183" r="3.9"/><circle cx="1425.5" cy="2190" r="3.9"/><circle cx="1435.7" cy="2187.3" r="3.9"/><circle cx="1445.9" cy="2188.4" r="3.9"/><circle cx="1456.1" cy="2187.7" r="3.9"/><circle cx="1466.3" cy="2183.4" r="3.9"/><circle cx="1476.5" cy="2186.5" r="3.9"/><circle cx="1486.7" cy="2188.5" r="3.9"/><circle cx="1496.9" cy="2187" r="3.9"/><circle cx="1507.1" cy="2185.5" r="3.9"/><circle cx="1517.3" cy="2189.7" r="3.9"/><circle cx="1527.5" cy="2188" r="3.9"/><circle cx="1537.7" cy="2183.7" r="3.9"/><circle cx="1547.9" cy="2185.3" r="3.9"/><circle cx="1558.1" cy="2187.5" r="3.9"/><circle cx="1568.3" cy="2188.5" r="3.9"/><circle cx="1578.5" cy="2187.7" r="3.9"/><circle cx="1588.7" cy="2191" r="3.9"/><circle cx="1598.9" cy="2185.1" r="3.9"/><circle cx="1609.1" cy="2186.5" r="3.9"/><circle cx="1619.3" cy="2187" r="3.9"/><circle cx="1629.5" cy="2190.4" r="3.9"/><circle cx="1639.7" cy="2189.1" r="3.9"/><circle cx="1649.9" cy="2186.1" r="3.9"/><circle cx="1660.1" cy="2186.7" r="3.9"/><circle cx="1670.3" cy="2188.5" r="3.9"/><circle cx="1680.5" cy="2186.2" r="3.9"/><circle cx="1690.7" cy="2185.1" r="3.9"/><circle cx="1700.9" cy="2189" r="3.9"/><circle cx="1711.1" cy="2188.6" r="3.9"/><circle cx="1721.3" cy="2189.4" r="3.9"/><circle cx="1731.5" cy="2190.1" r="3.9"/><circle cx="1741.7" cy="2185.5" r="3.9"/><circle cx="1751.9" cy="2186.1" r="3.9"/><circle cx="1762.1" cy="2186.6" r="3.9"/><circle cx="1772.3" cy="2190.1" r="3.9"/><circle cx="1782.5" cy="2189.8" r="3.9"/><circle cx="1792.7" cy="2187.5" r="3.9"/><circle cx="1802.9" cy="2188.3" r="3.9"/><circle cx="1813.1" cy="2187.1" r="3.9"/><circle cx="1823.3" cy="2189" r="3.9"/><circle cx="1833.5" cy="2185.8" r="3.9"/><circle cx="1843.7" cy="2183.1" r="3.9"/><circle cx="1853.9" cy="2183.7" r="3.9"/><circle cx="1864.1" cy="2183.5" r="3.9"/><circle cx="1874.3" cy="2187.2" r="3.9"/><circle cx="1884.5" cy="2185.2" r="3.9"/></g>
<g fill="#e52424"><circle cx="160.7" cy="2291.1" r="3.9"/><circle cx="170.9" cy="2288" r="3.9"/><circle cx="181.1" cy="2289.1" r="3.9"/><circle cx="191.3" cy="2284.6" r="3.9"/><circle cx="201.5" cy="2284.9" r="3.9"/><circle cx="211.7" cy="2292.6" r="3.9"/><circle cx="221.9" cy="2288.1" r="3.9"/><circle cx="232.1" cy="2290.8" r="3.9"/><circle cx="242.3" cy="2287.1" r="3.9"/><circle cx="252.5" cy="2288" r="3.9"/><circle cx="262.7" cy="2286.2" r="3.9"/><circle cx="272.9" cy="2287.7" r="3.9"/><circle cx="283.1" cy="2286.6" r="3.9"/><circle cx="293.3" cy="2289.1" r="3.9"/><circle cx="303.5" cy="2292.6" r="3.9"/><circle cx="313.7" cy="2291.2" r="3.9"/><circle cx="323.9" cy="2290.4" r="3.9"/><circle cx="334.1" cy="2289.6" r="3.9"/><circle cx="344.3" cy="2290.8" r="3.9"/><circle cx="354.5" cy="2284.5" r="3.9"/><circle cx="364.7" cy="2288.8" r="3.9"/><circle cx="374.9" cy="2285.3" r="3.9"/><circle cx="385.1" cy="2289.2" r="3.9"/><circle cx="395.3" cy="2284.5" r="3.9"/><circle cx="405.5" cy="2291.2" r="3.9"/><circle cx="415.7" cy="2287" r="3.9"/><circle cx="425.9" cy="2286.3" r="3.9"/><circle cx="436.1" cy="2282.1" r="3.9"/><circle cx="446.3" cy="2279.4" r="3.9"/><circle cx="456.5" cy="2287" r="3.9"/><circle cx="466.7" cy="2285.2" r="3.9"/><circle cx="476.9" cy="2282.6" r="3.9"/><circle cx="487.1" cy="2288.8" r="3.9"/><circle cx="497.3" cy="2291.6" r="3.9"/><circle cx="507.5" cy="2285.7" r="3.9"/><circle cx="517.7" cy="2288.3" r="3.9"/><circle cx="527.9" cy="2285.3" r="3.9"/><circle cx="538.1" cy="2287.7" r="3.9"/><circle cx="548.3" cy="2285.9" r="3.9"/><circle cx="558.5" cy="2284.3" r="3.9"/><circle cx="568.7" cy="2279.9" r="3.9"/><circle cx="578.9" cy="2286.4" r="3.9"/><circle cx="589.1" cy="2284.2" r="3.9"/><circle cx="599.3" cy="2281.7" r="3.9"/><circle cx="609.5" cy="2286" r="3.9"/><circle cx="619.7" cy="2286.4" r="3.9"/><circle cx="629.9" cy="2291.9" r="3.9"/><circle cx="640.1" cy="2283.5" r="3.9"/><circle cx="650.3" cy="2288.8" r="3.9"/><circle cx="660.5" cy="2288.4" r="3.9"/><circle cx="670.7" cy="2283.2" r="3.9"/><circle cx="680.9" cy="2283.7" r="3.9"/><circle cx="691.1" cy="2285.4" r="3.9"/><circle cx="701.3" cy="2283.9" r="3.9"/><circle cx="711.5" cy="2280" r="3.9"/><circle cx="721.7" cy="2286.4" r="3.9"/><circle cx="731.9" cy="2292.6" r="3.9"/><circle cx="742.1" cy="2287.1" r="3.9"/><circle cx="752.3" cy="2287.6" r="3.9"/><circle cx="762.5" cy="2286.7" r="3.9"/><circle cx="772.7" cy="2284.3" r="3.9"/><circle cx="782.9" cy="2290.1" r="3.9"/><circle cx="793.1" cy="2282.7" r="3.9"/><circle cx="803.3" cy="2282" r="3.9"/><circle cx="813.5" cy="2280.2" r="3.9"/><circle cx="823.7" cy="2280.7" r="3.9"/><circle cx="833.9" cy="2285.1" r="3.9"/><circle cx="844.1" cy="2286.4" r="3.9"/><circle cx="854.3" cy="2289.1" r="3.9"/><circle cx="864.5" cy="2292.2" r="3.9"/><circle cx="874.7" cy="2285.8" r="3.9"/><circle cx="884.9" cy="2289.3" r="3.9"/><circle cx="895.1" cy="2289.2" r="3.9"/><circle cx="905.3" cy="2290.5" r="3.9"/><circle cx="915.5" cy="2279.5" r="3.9"/><circle cx="925.7" cy="2282.5" r="3.9"/><circle cx="935.9" cy="2284.1" r="3.9"/><circle cx="946.1" cy="2281.7" r="3.9"/><circle cx="956.3" cy="2283.3" r="3.9"/><circle cx="966.5" cy="2281.7" r="3.9"/><circle cx="976.7" cy="2285.3" r="3.9"/><circle cx="986.9" cy="2289" r="3.9"/><circle cx="997.1" cy="2287.2" r="3.9"/><circle cx="1007.3" cy="2287.3" r="3.9"/><circle cx="1017.5" cy="2285.7" r="3.9"/><circle cx="1027.7" cy="2287" r="3.9"/><circle cx="1037.9" cy="2283.1" r="3.9"/><circle cx="1048.1" cy="2284.7" r="3.9"/><circle cx="1058.3" cy="2282.4" r="3.9"/><circle cx="1068.5" cy="2285.6" r="3.9"/><circle cx="1078.7" cy="2281.6" r="3.9"/><circle cx="1088.9" cy="2283" r="3.9"/><circle cx="1099.1" cy="2287.1" r="3.9"/><circle cx="1109.3" cy="2289.6" r="3.9"/><circle cx="1119.5" cy="2290.3" r="3.9"/><circle cx="1129.7" cy="2290.6" r="3.9"/><circle cx="1139.9" cy="2285.8" r="3.9"/><circle cx="1150.1" cy="2288.9" r="3.9"/><circle cx="1160.3" cy="2283.7" r="3.9"/><circle cx="1170.5" cy="2287.4" r="3.9"/><circle cx="1180.7" cy="2283.3" r="3.9"/><circle cx="1190.9" cy="2291.3" r="3.9"/><circle cx="1201.1" cy="2279.9" r="3.9"/><circle cx="1211.3" cy="2283.7" r="3.9"/><circle cx="1221.5" cy="2288.4" r="3.9"/><circle cx="1231.7" cy="2291.8" r="3.9"/><circle cx="1241.9" cy="2291" r="3.9"/><circle cx="1252.1" cy="2287" r="3.9"/><circle cx="1262.3" cy="2288.9" r="3.9"/><circle cx="1272.5" cy="2287.4" r="3.9"/><circle cx="1282.7" cy="2280.1" r="3.9"/><circle cx="1292.9" cy="2281.6" r="3.9"/><circle cx="1303.1" cy="2287.6" r="3.9"/><circle cx="1313.3" cy="2285.5" r="3.9"/><circle cx="1323.5" cy="2285.8" r="3.9"/><circle cx="1333.7" cy="2285.3" r="3.9"/><circle cx="1343.9" cy="2292.6" r="3.9"/><circle cx="1354.1" cy="2292.6" r="3.9"/><circle cx="1364.3" cy="2290.2" r="3.9"/><circle cx="1374.5" cy="2289.8" r="3.9"/><circle cx="1384.7" cy="2287.2" r="3.9"/><circle cx="1394.9" cy="2289.2" r="3.9"/><circle cx="1405.1" cy="2279.8" r="3.9"/><circle cx="1415.3" cy="2287.5" r="3.9"/><circle cx="1425.5" cy="2286.4" r="3.9"/><circle cx="1435.7" cy="2282.6" r="3.9"/><circle cx="1445.9" cy="2283.8" r="3.9"/><circle cx="1456.1" cy="2285.5" r="3.9"/><circle cx="1466.3" cy="2286.6" r="3.9"/><circle cx="1476.5" cy="2285.8" r="3.9"/><circle cx="1486.7" cy="2285.3" r="3.9"/><circle cx="1496.9" cy="2289.4" r="3.9"/><circle cx="1507.1" cy="2288.4" r="3.9"/><circle cx="1517.3" cy="2287.9" r="3.9"/><circle cx="1527.5" cy="2283" r="3.9"/><circle cx="1537.7" cy="2280.7" r="3.9"/><circle cx="1547.9" cy="2284.3" r="3.9"/><circle cx="1558.1" cy="2282.3" r="3.9"/><circle cx="1568.3" cy="2288.4" r="3.9"/><circle cx="1578.5" cy="2281.4" r="3.9"/><circle cx="1588.7" cy="2284.5" r="3.9"/><circle cx="1598.9" cy="2288.5" r="3.9"/><circle cx="1609.1" cy="2286" r="3.9"/><circle cx="1619.3" cy="2292.3" r="3.9"/><circle cx="1629.5" cy="2289.2" r="3.9"/><circle cx="1639.7" cy="2292.1" r="3.9"/><circle cx="1649.9" cy="2287.7" r="3.9"/><circle cx="1660.1" cy="2287.2" r="3.9"/><circle cx="1670.3" cy="2291.7" r="3.9"/><circle cx="1680.5" cy="2290.4" r="3.9"/><circle cx="1690.7" cy="2289.8" r="3.9"/><circle cx="1700.9" cy="2282.7" r="3.9"/><circle cx="1711.1" cy="2288.6" r="3.9"/><circle cx="1721.3" cy="2288.1" r="3.9"/><circle cx="1731.5" cy="2287.6" r="3.9"/><circle cx="1741.7" cy="2287.7" r="3.9"/><circle cx="1751.9" cy="2289" r="3.9"/><circle cx="1762.1" cy="2291.6" r="3.9"/><circle cx="1772.3" cy="2290" r="3.9"/><circle cx="1782.5" cy="2284.5" r="3.9"/><circle cx="1792.7" cy="2287.8" r="3.9"/><circle cx="1802.9" cy="2289.3" r="3.9"/><circle cx="1813.1" cy="2291.6" r="3.9"/><circle cx="1823.3" cy="2288.5" r="3.9"/><circle cx="1833.5" cy="2288.3" r="3.9"/><circle cx="1843.7" cy="2290" r="3.9"/><circle cx="1853.9" cy="2286.3" r="3.9"/><circle cx="1864.1" cy="2289.8" r="3.9"/><circle cx="1874.3" cy="2288.8" r="3.9"/><circle cx="1884.5" cy="2286.4" r="3.9"/></g>
<line x1="230.5" y1="2220.9" x2="279.5" y2="2220.9" stroke="#e52424" stroke-width="3" stroke-linecap="round"/>
<line x1="230.5" y1="2253.4" x2="279.5" y2="2253.4" stroke="#038003" stroke-width="3" stroke-linecap="round"/>
<text x="185.7" y="2230.8" font-size="29">IV</text>
<text x="185.7" y="2263.3" font-size="29">III</text>
<text x="-1" y="22.5" font-size="42" font-weight="bold">a</text>
<text x="-1" y="1028.8" font-size="42" font-weight="bold">b</text>
<text x="-1" y="1377.3" font-size="42" font-weight="bold">c</text>
<text x="-1" y="2153.3" font-size="42" font-weight="bold">d</text></svg>
</body></html>
